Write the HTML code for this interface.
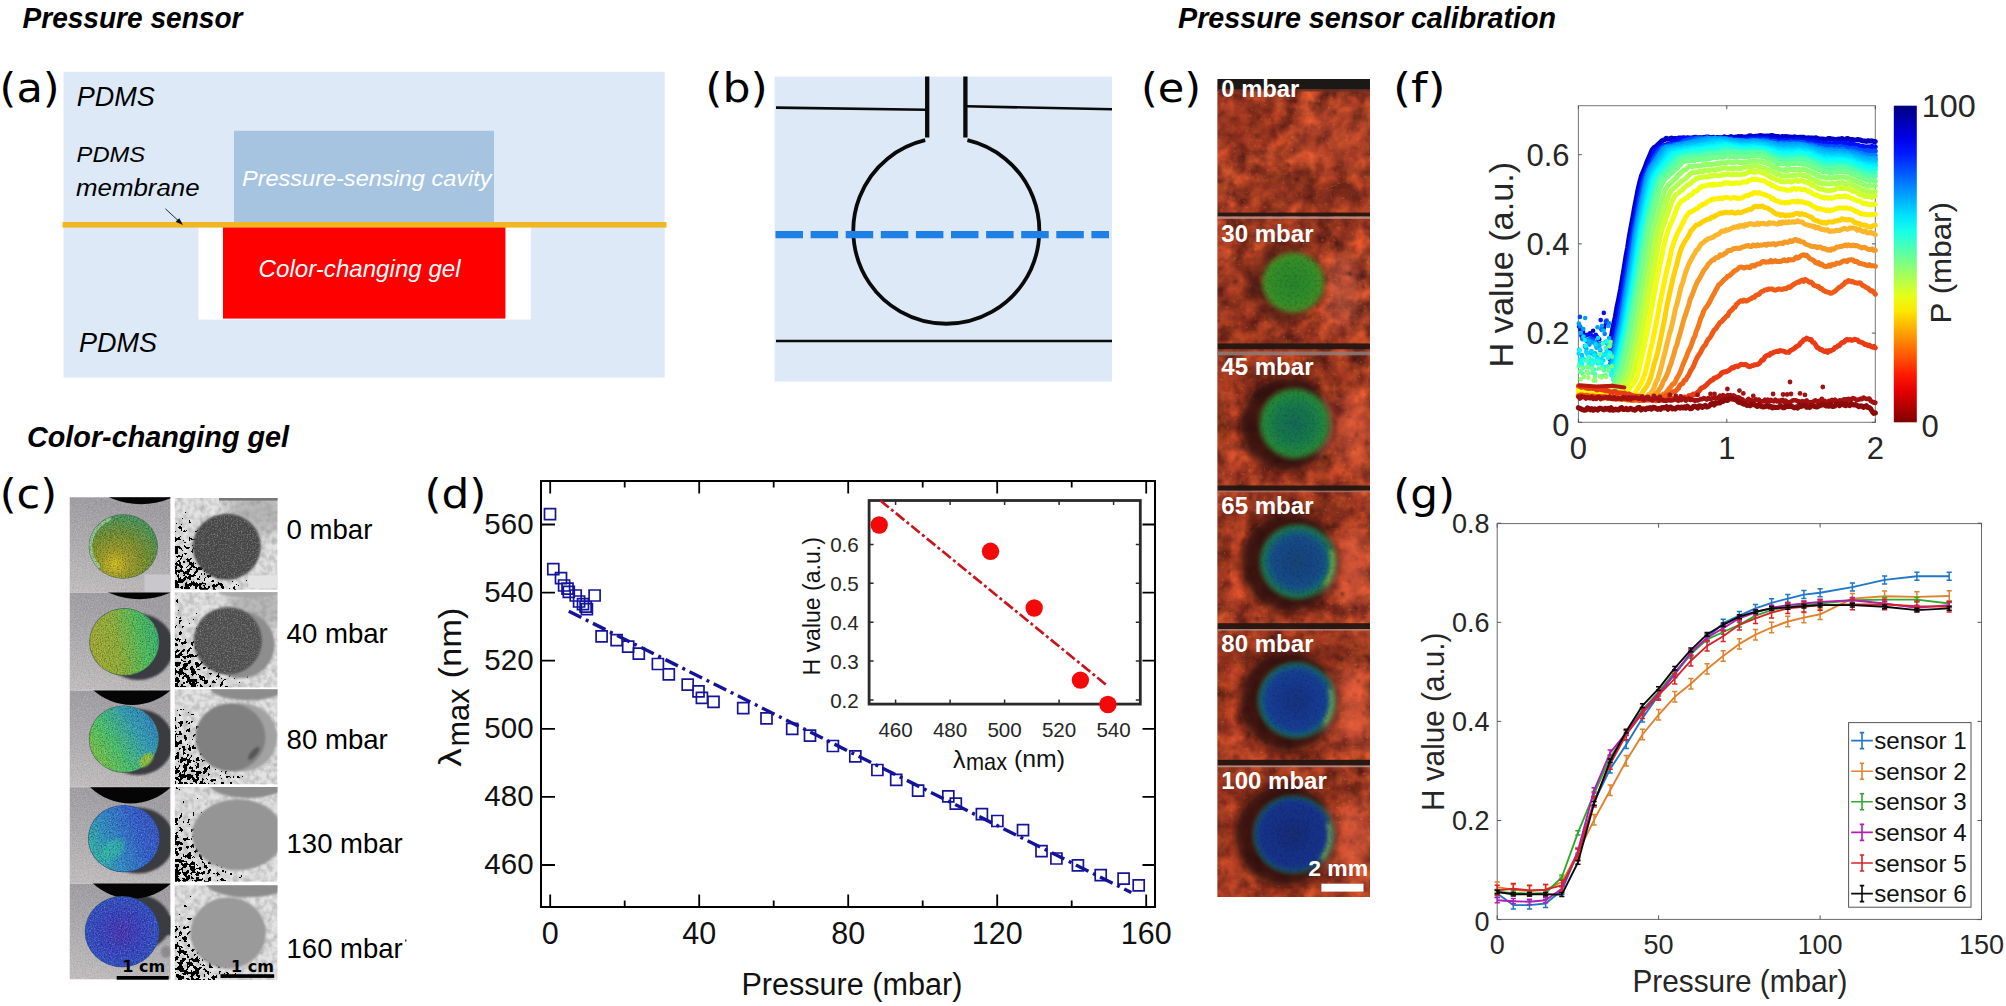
<!DOCTYPE html>
<html lang="en"><head><meta charset="utf-8"><title>Pressure sensor figure</title>
<style>
html,body{margin:0;padding:0;background:#fff;}
body{width:2006px;height:1006px;overflow:hidden;}
svg{display:block;}
text{font-family:"Liberation Sans",sans-serif;}
.dj{font-family:"DejaVu Sans","Liberation Sans",sans-serif;}
.bi{font-weight:bold;font-style:italic;}
.it{font-style:italic;}
.b{font-weight:bold;}
</style></head><body>
<svg width="2006" height="1006" viewBox="0 0 2006 1006">
<text x="22.5" y="27.5" font-size="30" class="bi" textLength="220.0" lengthAdjust="spacingAndGlyphs">Pressure sensor</text>
<text x="1178.0" y="27.5" font-size="30" class="bi" textLength="378.0" lengthAdjust="spacingAndGlyphs">Pressure sensor calibration</text>
<text x="27.0" y="447.0" font-size="30" class="bi" textLength="262.0" lengthAdjust="spacingAndGlyphs">Color-changing gel</text>
<text x="-0.4" y="101.8" font-size="41.5" class="dj" textLength="60.0" lengthAdjust="spacingAndGlyphs">(a)</text>
<text x="705.2" y="101.6" font-size="41.5" class="dj" textLength="62.5" lengthAdjust="spacingAndGlyphs">(b)</text>
<rect x="63.5" y="71.8" width="601.2" height="305.8" fill="#dde9f6"/>
<rect x="234" y="130.8" width="260" height="92" fill="#a6c4e0"/>
<rect x="198.5" y="226" width="332.3" height="93.6" fill="#fff"/>
<rect x="223" y="226" width="282.4" height="92.6" fill="#fe0000"/>
<rect x="62.5" y="222" width="604" height="5.6" fill="#f1b722"/>
<path d="M165.4 208.8 L180.5 222.7" stroke="#111" stroke-width="0.9" fill="none"/>
<path d="M183 225 L175.6 221.8 L179.3 218.2 Z" fill="#111"/>
<text x="76.8" y="105.9" font-size="27" class="it" textLength="78.0" lengthAdjust="spacingAndGlyphs">PDMS</text>
<text x="76.6" y="162.3" font-size="22.8" class="it" textLength="68.5" lengthAdjust="spacingAndGlyphs">PDMS</text>
<text x="76.0" y="196.3" font-size="24.5" class="it" textLength="123.6" lengthAdjust="spacingAndGlyphs">membrane</text>
<text x="79.0" y="352.0" font-size="27" class="it" textLength="78.0" lengthAdjust="spacingAndGlyphs">PDMS</text>
<text x="242.0" y="186.3" font-size="22.8" class="it" fill="#fff" textLength="249.5" lengthAdjust="spacingAndGlyphs">Pressure-sensing cavity</text>
<text x="258.6" y="276.5" font-size="23.4" class="it" fill="#fff" textLength="202.0" lengthAdjust="spacingAndGlyphs">Color-changing gel</text>
<rect x="774.6" y="76.6" width="337.4" height="305" fill="#dde9f6"/>
<g stroke="#0a0a0a" fill="none" stroke-linecap="butt">
<path d="M776 107.6 L925.5 109.7 M967 106.3 L1112 109.3" stroke-width="2.6"/>
<path d="M776 341 L1112 341" stroke-width="2.4"/>
<path d="M927.2 76.6 V137.4 M965.4 76.6 V137.4" stroke-width="4.3"/>
<path d="M925.2 140.2 A93 93 0 1 0 967.4 140.2" stroke-width="3.8"/>
</g>
<path d="M775.5 234.7 H1109" stroke="#1e80e4" stroke-width="7.2" stroke-dasharray="27.5 7.6" fill="none"/>
<text x="-0.3" y="508.3" font-size="41.5" class="dj" textLength="57.4" lengthAdjust="spacingAndGlyphs">(c)</text>
<defs>
<filter id="cnz" x="0" y="0" width="1" height="1" color-interpolation-filters="sRGB">
<feTurbulence type="fractalNoise" baseFrequency="0.75" numOctaves="2" seed="4"/>
<feColorMatrix values="0 0 0 0 0  0 0 0 0 0  0 0 0 0 0  2.2 0 0 0 -0.95"/>
</filter>
<filter id="cnw" x="0" y="0" width="1" height="1" color-interpolation-filters="sRGB">
<feTurbulence type="fractalNoise" baseFrequency="0.7" numOctaves="2" seed="11"/>
<feColorMatrix values="0 0 0 0 1  0 0 0 0 1  0 0 0 0 1  0 2.2 0 0 -0.95"/>
</filter>
<filter id="speck" x="0" y="0" width="1" height="1" color-interpolation-filters="sRGB">
<feTurbulence type="fractalNoise" baseFrequency="0.24" numOctaves="2" seed="9"/>
<feColorMatrix values="0 0 0 0 0  0 0 0 0 0  0 0 0 0 0  1 0 0 0 0" result="n"/>
<feComposite in="n" in2="SourceGraphic" operator="arithmetic" k1="0" k2="1" k3="1" k4="-0.5"/>
<feComponentTransfer><feFuncA type="discrete" tableValues="0 0 0 0 0 0 1 1 1 1"/></feComponentTransfer>
</filter>
<filter id="gnz" x="0" y="0" width="1" height="1" color-interpolation-filters="sRGB">
<feTurbulence type="fractalNoise" baseFrequency="0.18" numOctaves="3" seed="21"/>
<feColorMatrix values="0 0 0 0 0.55  0 0 0 0 0.55  0 0 0 0 0.55  0 0 1.8 0 -0.62"/>
</filter>
<filter id="b1"><feGaussianBlur stdDeviation="0.8"/></filter>
<filter id="b2"><feGaussianBlur stdDeviation="2"/></filter>
<filter id="b4" x="-0.5" y="-0.5" width="2" height="2"><feGaussianBlur stdDeviation="6"/></filter>
<linearGradient id="spk" x1="0" y1="1" x2="1" y2="0.25">
<stop offset="0" stop-color="#000" stop-opacity="0.66"/><stop offset="0.22" stop-color="#000" stop-opacity="0.56"/><stop offset="0.48" stop-color="#000" stop-opacity="0.34"/><stop offset="0.8" stop-color="#000" stop-opacity="0.1"/><stop offset="1" stop-color="#000" stop-opacity="0"/>
</linearGradient>
<linearGradient id="papg" x1="0.2" y1="0" x2="0" y2="1"><stop offset="0" stop-color="#9f9da1"/><stop offset="0.45" stop-color="#adabae"/><stop offset="1" stop-color="#c3bfc0"/></linearGradient>
<radialGradient id="d1" cx="0.38" cy="0.78" r="0.75"><stop offset="0" stop-color="#d8c21e"/><stop offset="0.28" stop-color="#a09c24"/><stop offset="0.62" stop-color="#748f2c"/><stop offset="1" stop-color="#4a9456"/></radialGradient>
<linearGradient id="d2" x1="0" y1="0.6" x2="1" y2="0.4"><stop offset="0" stop-color="#a7ab30"/><stop offset="0.4" stop-color="#8fb136"/><stop offset="0.75" stop-color="#4cbf5a"/><stop offset="1" stop-color="#37b070"/></linearGradient>
<linearGradient id="d3" x1="0" y1="0.8" x2="1" y2="0.2"><stop offset="0" stop-color="#86c43c"/><stop offset="0.35" stop-color="#48c46a"/><stop offset="0.7" stop-color="#2f9fb8"/><stop offset="1" stop-color="#2a7fc0"/></linearGradient>
<linearGradient id="d4" x1="0" y1="0.7" x2="1" y2="0.3"><stop offset="0" stop-color="#2fb9a0"/><stop offset="0.3" stop-color="#2d8fc8"/><stop offset="0.7" stop-color="#2f5fd2"/><stop offset="1" stop-color="#3553c6"/></linearGradient>
<radialGradient id="d5" cx="0.5" cy="0.5" r="0.6"><stop offset="0" stop-color="#4632b8"/><stop offset="0.5" stop-color="#3442c4"/><stop offset="1" stop-color="#2d55c6"/></radialGradient>
</defs>
<rect x="69.7" y="497.3" width="100.7" height="482.0" fill="#cfced2"/>
<clipPath id="cc0"><rect x="69.7" y="497.3" width="100.7" height="94.7"/></clipPath>
<g clip-path="url(#cc0)">
<rect x="69.7" y="497.3" width="100.7" height="94.7" fill="url(#papg)"/>
<rect x="69.7" y="497.3" width="100.7" height="94.7" filter="url(#cnw)" opacity="0.22"/>
<rect x="69.7" y="497.3" width="100.7" height="94.7" filter="url(#cnz)" opacity="0.12"/>
<rect x="144.5" y="574.5" width="30" height="18" fill="#cac7cc"/>
<circle cx="141" cy="428.6" r="75.7" fill="#050505"/>
<ellipse cx="123.3" cy="546.5" rx="34.6" ry="32.3" fill="#3e6a4e"/>
<ellipse cx="123.3" cy="546.5" rx="34.0" ry="31.7" fill="url(#d1)"/>
<ellipse cx="123.3" cy="546.5" rx="32.5" ry="30.2" fill="none" stroke="#9fd2a6" stroke-width="3" stroke-dasharray="60 150" stroke-dashoffset="-75" opacity="0.8"/>
<clipPath id="cd0"><ellipse cx="123.3" cy="546.5" rx="34.0" ry="31.7"/></clipPath>
<g clip-path="url(#cd0)"><rect x="69.7" y="497.3" width="100.7" height="94.7" filter="url(#cnz)" opacity="0.42"/><rect x="69.7" y="497.3" width="100.7" height="94.7" filter="url(#cnw)" opacity="0.26"/></g>
</g>
<clipPath id="cc1"><rect x="69.7" y="592.6" width="100.7" height="97.2"/></clipPath>
<g clip-path="url(#cc1)">
<rect x="69.7" y="592.6" width="100.7" height="97.2" fill="url(#papg)"/>
<rect x="69.7" y="592.6" width="100.7" height="97.2" filter="url(#cnw)" opacity="0.22"/>
<rect x="69.7" y="592.6" width="100.7" height="97.2" filter="url(#cnz)" opacity="0.12"/>
<ellipse cx="138.3" cy="646.9" rx="35.5" ry="33.2" fill="#3b3b42" filter="url(#b1)"/>
<circle cx="139.5" cy="524.3" r="75" fill="#050505"/>
<ellipse cx="124.3" cy="641.9" rx="35.1" ry="33.800000000000004" fill="#3e6a4e"/>
<ellipse cx="124.3" cy="641.9" rx="34.5" ry="33.2" fill="url(#d2)"/>
<clipPath id="cd1"><ellipse cx="124.3" cy="641.9" rx="34.5" ry="33.2"/></clipPath>
<g clip-path="url(#cd1)"><rect x="69.7" y="592.6" width="100.7" height="97.2" filter="url(#cnz)" opacity="0.42"/><rect x="69.7" y="592.6" width="100.7" height="97.2" filter="url(#cnw)" opacity="0.26"/></g>
</g>
<clipPath id="cc2"><rect x="69.7" y="690.4" width="100.7" height="96.3"/></clipPath>
<g clip-path="url(#cc2)">
<rect x="69.7" y="690.4" width="100.7" height="96.3" fill="url(#papg)"/>
<rect x="69.7" y="690.4" width="100.7" height="96.3" filter="url(#cnw)" opacity="0.22"/>
<rect x="69.7" y="690.4" width="100.7" height="96.3" filter="url(#cnz)" opacity="0.12"/>
<ellipse cx="137.9" cy="742.1" rx="35.5" ry="33.0" fill="#3b3b42" filter="url(#b1)"/>
<circle cx="132" cy="647" r="58" fill="#050505"/>
<ellipse cx="123.9" cy="739.1" rx="35.1" ry="33.6" fill="#3e6a4e"/>
<ellipse cx="123.9" cy="739.1" rx="34.5" ry="33.0" fill="url(#d3)"/>
<ellipse cx="146" cy="760" rx="9" ry="5" transform="rotate(-45 146 760)" fill="#8fc23c" filter="url(#b1)"/>
<clipPath id="cd2"><ellipse cx="123.9" cy="739.1" rx="34.5" ry="33.0"/></clipPath>
<g clip-path="url(#cd2)"><rect x="69.7" y="690.4" width="100.7" height="96.3" filter="url(#cnz)" opacity="0.42"/><rect x="69.7" y="690.4" width="100.7" height="96.3" filter="url(#cnw)" opacity="0.26"/></g>
</g>
<clipPath id="cc3"><rect x="69.7" y="787.2" width="100.7" height="95.9"/></clipPath>
<g clip-path="url(#cc3)">
<rect x="69.7" y="787.2" width="100.7" height="95.9" fill="url(#papg)"/>
<rect x="69.7" y="787.2" width="100.7" height="95.9" filter="url(#cnw)" opacity="0.22"/>
<rect x="69.7" y="787.2" width="100.7" height="95.9" filter="url(#cnz)" opacity="0.12"/>
<ellipse cx="137.9" cy="840.6" rx="36.3" ry="33.0" fill="#3b3b42" filter="url(#b1)"/>
<circle cx="130.5" cy="745.5" r="58" fill="#050505"/>
<ellipse cx="123.9" cy="838.6" rx="35.9" ry="33.6" fill="#2c4a8a"/>
<ellipse cx="123.9" cy="838.6" rx="35.3" ry="33.0" fill="url(#d4)"/>
<ellipse cx="112" cy="850" rx="14" ry="9" transform="rotate(-40 112 850)" fill="#2fc0a8" opacity="0.7" filter="url(#b2)"/>
<clipPath id="cd3"><ellipse cx="123.9" cy="838.6" rx="35.3" ry="33.0"/></clipPath>
<g clip-path="url(#cd3)"><rect x="69.7" y="787.2" width="100.7" height="95.9" filter="url(#cnz)" opacity="0.42"/><rect x="69.7" y="787.2" width="100.7" height="95.9" filter="url(#cnw)" opacity="0.26"/></g>
</g>
<clipPath id="cc4"><rect x="69.7" y="883.6" width="100.7" height="95.7"/></clipPath>
<g clip-path="url(#cc4)">
<rect x="69.7" y="883.6" width="100.7" height="95.7" fill="url(#papg)"/>
<rect x="69.7" y="883.6" width="100.7" height="95.7" filter="url(#cnw)" opacity="0.22"/>
<rect x="69.7" y="883.6" width="100.7" height="95.7" filter="url(#cnz)" opacity="0.12"/>
<ellipse cx="133.1" cy="922.7" rx="37.7" ry="29.0" fill="#3b3b42" filter="url(#b1)"/>
<rect x="150" y="916" width="25" height="19" fill="#3b3b42" filter="url(#b1)"/>
<ellipse cx="166" cy="952" rx="5" ry="6" fill="#8c8a90" filter="url(#b1)"/>
<circle cx="132" cy="840.6" r="58" fill="#050505"/>
<ellipse cx="122.1" cy="931.7" rx="37.300000000000004" ry="35.6" fill="#2c4a8a"/>
<ellipse cx="122.1" cy="931.7" rx="36.7" ry="35.0" fill="url(#d5)"/>
<clipPath id="cd4"><ellipse cx="122.1" cy="931.7" rx="36.7" ry="35.0"/></clipPath>
<g clip-path="url(#cd4)"><rect x="69.7" y="883.6" width="100.7" height="95.7" filter="url(#cnz)" opacity="0.42"/><rect x="69.7" y="883.6" width="100.7" height="95.7" filter="url(#cnw)" opacity="0.26"/></g>
</g>
<rect x="116.7" y="976" width="52" height="3.7" fill="#000"/>
<text x="122.3" y="972.0" font-size="15.3" class="dj b" textLength="43.0" lengthAdjust="spacingAndGlyphs">1 cm</text>
<clipPath id="gc0"><rect x="174.6" y="498.0" width="102.9" height="91.8"/></clipPath>
<g clip-path="url(#gc0)">
<rect x="174.6" y="498.0" width="102.9" height="91.8" fill="#e3e3e3"/>
<rect x="174.6" y="498.0" width="102.9" height="91.8" filter="url(#gnz)" opacity="0.55"/>
<ellipse cx="258" cy="512.0" rx="30" ry="24" fill="#909090" opacity="0.5" filter="url(#b4)"/>
<rect x="219" y="498.0" width="60" height="2.6" fill="#777"/>
<rect x="248.3" y="575.4" width="30" height="12.8" fill="#e4e4e4"/>
<rect x="174.6" y="498.0" width="102.9" height="91.8" fill="url(#spk)" filter="url(#speck)"/>
<ellipse cx="226.8" cy="546.7" rx="34" ry="33" fill="#454545" filter="url(#b1)"/>
<clipPath id="gd0"><ellipse cx="226.8" cy="546.7" rx="33" ry="32"/></clipPath>
<g clip-path="url(#gd0)"><rect x="174.6" y="498.0" width="102.9" height="91.8" filter="url(#cnw)" opacity="0.33"/></g>
</g>
<clipPath id="gc1"><rect x="174.6" y="592.2" width="102.9" height="95.2"/></clipPath>
<g clip-path="url(#gc1)">
<rect x="174.6" y="592.2" width="102.9" height="95.2" fill="#e3e3e3"/>
<rect x="174.6" y="592.2" width="102.9" height="95.2" filter="url(#gnz)" opacity="0.55"/>
<ellipse cx="258" cy="606.2" rx="30" ry="24" fill="#909090" opacity="0.5" filter="url(#b4)"/>
<ellipse cx="250" cy="592.2" rx="32" ry="5" fill="#a8a8a8" filter="url(#b1)"/>
<rect x="174.6" y="592.2" width="102.9" height="95.2" fill="url(#spk)" filter="url(#speck)"/>
<ellipse cx="240.7" cy="644.7" rx="34" ry="33.5" fill="#8e8e8e" filter="url(#b1)"/>
<ellipse cx="227.7" cy="640.7" rx="34" ry="33.5" fill="#4b4b4b" filter="url(#b1)"/>
<clipPath id="gd1"><ellipse cx="227.7" cy="640.7" rx="33" ry="32.5"/></clipPath>
<g clip-path="url(#gd1)"><rect x="174.6" y="592.2" width="102.9" height="95.2" filter="url(#cnw)" opacity="0.33"/></g>
</g>
<clipPath id="gc2"><rect x="174.6" y="689.2" width="102.9" height="95.2"/></clipPath>
<g clip-path="url(#gc2)">
<rect x="174.6" y="689.2" width="102.9" height="95.2" fill="#e3e3e3"/>
<rect x="174.6" y="689.2" width="102.9" height="95.2" filter="url(#gnz)" opacity="0.55"/>
<ellipse cx="248" cy="687.2" rx="38" ry="13" fill="#8c8c8c" filter="url(#b1)"/>
<rect x="174.6" y="689.2" width="102.9" height="95.2" fill="url(#spk)" filter="url(#speck)"/>
<ellipse cx="242.4" cy="737.3" rx="35" ry="34" fill="#a2a2a2" filter="url(#b1)"/>
<ellipse cx="230.4" cy="737.3" rx="35" ry="34" fill="#808080" filter="url(#b1)"/>
<ellipse cx="253.7" cy="753.4" rx="8" ry="3" transform="rotate(-50 253.7 753.4)" fill="#555" filter="url(#b1)"/>
</g>
<clipPath id="gc3"><rect x="174.6" y="786.9" width="102.9" height="94.9"/></clipPath>
<g clip-path="url(#gc3)">
<rect x="174.6" y="786.9" width="102.9" height="94.9" fill="#e3e3e3"/>
<rect x="174.6" y="786.9" width="102.9" height="94.9" filter="url(#gnz)" opacity="0.55"/>
<ellipse cx="248" cy="784.9" rx="38" ry="13" fill="#8c8c8c" filter="url(#b1)"/>
<rect x="174.6" y="786.9" width="102.9" height="94.9" fill="url(#spk)" filter="url(#speck)"/>
<ellipse cx="238" cy="834.6" rx="46" ry="35.5" fill="#959595" filter="url(#b1)"/>
</g>
<clipPath id="gc4"><rect x="174.6" y="885.2" width="102.9" height="94.8"/></clipPath>
<g clip-path="url(#gc4)">
<rect x="174.6" y="885.2" width="102.9" height="94.8" fill="#e3e3e3"/>
<rect x="174.6" y="885.2" width="102.9" height="94.8" filter="url(#gnz)" opacity="0.55"/>
<ellipse cx="248" cy="883.2" rx="42" ry="14" fill="#8c8c8c" filter="url(#b1)"/>
<rect x="174.6" y="885.2" width="102.9" height="94.8" fill="url(#spk)" filter="url(#speck)"/>
<ellipse cx="228.2" cy="933" rx="37.8" ry="35.7" fill="#9a9a9a" filter="url(#b1)"/>
</g>
<rect x="220.5" y="974.2" width="53.7" height="3.7" fill="#000"/>
<text x="231.0" y="972.0" font-size="15.3" class="dj b" textLength="43.0" lengthAdjust="spacingAndGlyphs">1 cm</text>
<text x="286.6" y="538.5" font-size="27.6" textLength="85.8" lengthAdjust="spacingAndGlyphs">0 mbar</text>
<text x="286.6" y="643.2" font-size="27.6" textLength="101.2" lengthAdjust="spacingAndGlyphs">40 mbar</text>
<text x="286.6" y="748.6" font-size="27.6" textLength="101.2" lengthAdjust="spacingAndGlyphs">80 mbar</text>
<text x="286.6" y="853.4" font-size="27.6" textLength="116.0" lengthAdjust="spacingAndGlyphs">130 mbar</text>
<text x="286.6" y="957.8" font-size="27.6" textLength="116.0" lengthAdjust="spacingAndGlyphs">160 mbar</text>
<rect x="405" y="939.5" width="1.5" height="2" fill="#333"/>
<text x="424.4" y="508.3" font-size="41.5" class="dj" textLength="62.0" lengthAdjust="spacingAndGlyphs">(d)</text>
<rect x="541.0" y="481.0" width="614.0" height="426.0" fill="#fff" stroke="#000" stroke-width="2"/>
<path d="M550.2 481.0 v12.5 M550.2 907.0 v-12.5 M624.7 481.0 v6.5 M624.7 907.0 v-6.5 M699.2 481.0 v12.5 M699.2 907.0 v-12.5 M773.7 481.0 v6.5 M773.7 907.0 v-6.5 M848.2 481.0 v12.5 M848.2 907.0 v-12.5 M922.7 481.0 v6.5 M922.7 907.0 v-6.5 M997.2 481.0 v12.5 M997.2 907.0 v-12.5 M1071.7 481.0 v6.5 M1071.7 907.0 v-6.5 M1146.2 481.0 v12.5 M1146.2 907.0 v-12.5 M541.0 865.0 h14 M1155.0 865.0 h-12.5 M541.0 796.9 h14 M1155.0 796.9 h-12.5 M541.0 728.8 h14 M1155.0 728.8 h-12.5 M541.0 660.7 h14 M1155.0 660.7 h-12.5 M541.0 592.6 h14 M1155.0 592.6 h-12.5 M541.0 524.5 h14 M1155.0 524.5 h-12.5" stroke="#000" stroke-width="1.8" fill="none"/>
<text x="533.6" y="874.0" font-size="29.5" fill="#111" text-anchor="end">460</text>
<text x="533.6" y="805.9" font-size="29.5" fill="#111" text-anchor="end">480</text>
<text x="533.6" y="737.8" font-size="29.5" fill="#111" text-anchor="end">500</text>
<text x="533.6" y="669.7" font-size="29.5" fill="#111" text-anchor="end">520</text>
<text x="533.6" y="601.6" font-size="29.5" fill="#111" text-anchor="end">540</text>
<text x="533.6" y="533.5" font-size="29.5" fill="#111" text-anchor="end">560</text>
<text x="550.2" y="943.5" font-size="30.5" fill="#111" text-anchor="middle">0</text>
<text x="699.2" y="943.5" font-size="30.5" fill="#111" text-anchor="middle">40</text>
<text x="848.2" y="943.5" font-size="30.5" fill="#111" text-anchor="middle">80</text>
<text x="997.2" y="943.5" font-size="30.5" fill="#111" text-anchor="middle">120</text>
<text x="1146.2" y="943.5" font-size="30.5" fill="#111" text-anchor="middle">160</text>
<text x="741.4" y="995.0" font-size="30.6" fill="#111" textLength="221.0" lengthAdjust="spacingAndGlyphs">Pressure (mbar)</text>
<text transform="translate(461.0 766.8) rotate(-90)" font-size="31" fill="#111" textLength="18.5" lengthAdjust="spacingAndGlyphs">λ</text>
<text transform="translate(469.0 746.5) rotate(-90)" font-size="31" fill="#111" textLength="58.0" lengthAdjust="spacingAndGlyphs">max</text>
<text transform="translate(461.0 678.5) rotate(-90)" font-size="31" fill="#111" textLength="71.0" lengthAdjust="spacingAndGlyphs">(nm)</text>
<path d="M568.8 611.3 L1131.3 892.6" stroke="#14149a" stroke-width="3.4" stroke-dasharray="14 5 3 5" fill="none"/>
<path d="M544.5 508.6h11.0v11.0h-11.0zM547.8 563.7h11.0v11.0h-11.0zM555.5 572.7h11.0v11.0h-11.0zM558.6 580.0h11.0v11.0h-11.0zM562.0 583.1h11.0v11.0h-11.0zM563.3 586.4h11.0v11.0h-11.0zM570.2 590.0h11.0v11.0h-11.0zM573.6 596.0h11.0v11.0h-11.0zM577.5 598.6h11.0v11.0h-11.0zM580.1 601.1h11.0v11.0h-11.0zM581.4 603.7h11.0v11.0h-11.0zM589.1 590.0h11.0v11.0h-11.0zM596.1 630.9h11.0v11.0h-11.0zM611.1 634.7h11.0v11.0h-11.0zM622.7 641.2h11.0v11.0h-11.0zM633.3 648.2h11.0v11.0h-11.0zM652.4 658.5h11.0v11.0h-11.0zM663.3 668.9h11.0v11.0h-11.0zM682.2 679.2h11.0v11.0h-11.0zM693.0 685.9h11.0v11.0h-11.0zM696.4 692.4h11.0v11.0h-11.0zM708.0 696.3h11.0v11.0h-11.0zM737.7 702.7h11.0v11.0h-11.0zM761.0 712.9h11.0v11.0h-11.0zM786.7 723.4h11.0v11.0h-11.0zM804.5 730.2h11.0v11.0h-11.0zM827.4 740.5h11.0v11.0h-11.0zM849.8 750.8h11.0v11.0h-11.0zM871.9 764.5h11.0v11.0h-11.0zM890.7 774.3h11.0v11.0h-11.0zM912.6 785.1h11.0v11.0h-11.0zM942.8 790.8h11.0v11.0h-11.0zM950.3 798.1h11.0v11.0h-11.0zM976.4 808.6h11.0v11.0h-11.0zM991.9 815.5h11.0v11.0h-11.0zM1017.5 824.6h11.0v11.0h-11.0zM1036.0 845.6h11.0v11.0h-11.0zM1050.9 853.0h11.0v11.0h-11.0zM1072.4 859.8h11.0v11.0h-11.0zM1095.2 869.6h11.0v11.0h-11.0zM1118.1 873.1h11.0v11.0h-11.0zM1133.2 879.9h11.0v11.0h-11.0z" stroke="#14149a" stroke-width="1.7" fill="none"/>
<rect x="869.1" y="500.5" width="271.2" height="203.6" fill="#fff" stroke="#2a2a2a" stroke-width="2.8"/>
<text x="858.8" y="707.6" font-size="20.6" fill="#262626" text-anchor="end">0.2</text>
<text x="858.8" y="668.7" font-size="20.6" fill="#262626" text-anchor="end">0.3</text>
<text x="858.8" y="629.8" font-size="20.6" fill="#262626" text-anchor="end">0.4</text>
<text x="858.8" y="590.9" font-size="20.6" fill="#262626" text-anchor="end">0.5</text>
<text x="858.8" y="552.0" font-size="20.6" fill="#262626" text-anchor="end">0.6</text>
<text x="895.6" y="737.0" font-size="20.6" fill="#262626" text-anchor="middle">460</text>
<text x="950.1" y="737.0" font-size="20.6" fill="#262626" text-anchor="middle">480</text>
<text x="1004.6" y="737.0" font-size="20.6" fill="#262626" text-anchor="middle">500</text>
<text x="1059.1" y="737.0" font-size="20.6" fill="#262626" text-anchor="middle">520</text>
<text x="1113.6" y="737.0" font-size="20.6" fill="#262626" text-anchor="middle">540</text>
<path d="M869.1 700.0 h4.5 M1140.3 700.0 h-4.5 M869.1 661.1 h4.5 M1140.3 661.1 h-4.5 M869.1 622.2 h4.5 M1140.3 622.2 h-4.5 M869.1 583.3 h4.5 M1140.3 583.3 h-4.5 M869.1 544.4 h4.5 M1140.3 544.4 h-4.5 M895.6 704.1 v-4.5 M895.6 500.5 v4.5 M950.1 704.1 v-4.5 M950.1 500.5 v4.5 M1004.6 704.1 v-4.5 M1004.6 500.5 v4.5 M1059.1 704.1 v-4.5 M1059.1 500.5 v4.5 M1113.6 704.1 v-4.5 M1113.6 500.5 v4.5" stroke="#2a2a2a" stroke-width="1.5" fill="none"/>
<text transform="translate(820.0 675.5) rotate(-90)" font-size="23" fill="#111" textLength="138.4" lengthAdjust="spacingAndGlyphs">H value (a.u.)</text>
<text x="953.0" y="767.7" font-size="24" fill="#111" textLength="12.5" lengthAdjust="spacingAndGlyphs">λ</text>
<text x="966.0" y="770.2" font-size="24" fill="#111" textLength="41.0" lengthAdjust="spacingAndGlyphs">max</text>
<text x="1014.0" y="767.0" font-size="24" fill="#111" textLength="51.0" lengthAdjust="spacingAndGlyphs">(nm)</text>
<path d="M880.3 500.5 L1107.9 686.2" stroke="#c9151b" stroke-width="2.7" stroke-dasharray="11 3 3 3" fill="none"/>
<circle cx="879.2" cy="525" r="8.7" fill="#f20a0a"/>
<circle cx="990.5" cy="551.3" r="8.7" fill="#f20a0a"/>
<circle cx="1034.2" cy="608" r="8.7" fill="#f20a0a"/>
<circle cx="1080.4" cy="680.1" r="8.7" fill="#f20a0a"/>
<circle cx="1107.9" cy="704.5" r="8.7" fill="#f20a0a"/>
<text x="1141.0" y="101.8" font-size="41.5" class="dj" textLength="60.2" lengthAdjust="spacingAndGlyphs">(e)</text>
<defs>
<filter id="rtex" x="0" y="0" width="1" height="1" color-interpolation-filters="sRGB">
<feTurbulence type="fractalNoise" baseFrequency="0.06" numOctaves="3" seed="8" result="t"/>
<feColorMatrix values="0.85 0 0 0 0.215  0.36 0.06 0 0 0.03  0.14 0 0 0 0.07  0 0 0 0 1"/>
</filter>
<filter id="rspk" x="0" y="0" width="1" height="1" color-interpolation-filters="sRGB">
<feTurbulence type="fractalNoise" baseFrequency="0.33" numOctaves="2" seed="3"/>
<feColorMatrix values="0 0 0 0 0.86  0 0 0 0 0.55  0 0 0 0 0.25  0 4 0 0 -2.62"/>
<feGaussianBlur stdDeviation="0.6"/>
</filter>
<filter id="rdk" x="0" y="0" width="1" height="1" color-interpolation-filters="sRGB">
<feTurbulence type="fractalNoise" baseFrequency="0.13" numOctaves="2" seed="14"/>
<feColorMatrix values="0 0 0 0 0.16  0 0 0 0 0.1  0 0 0 0 0.06  0 0 5 0 -3.45"/>
<feGaussianBlur stdDeviation="0.9"/>
</filter>
<filter id="eb1" x="-0.5" y="-0.5" width="2" height="2"><feGaussianBlur stdDeviation="1.9"/></filter>
<filter id="eb3" x="-1" y="-0.5" width="3" height="2"><feGaussianBlur stdDeviation="4.2"/></filter>
<filter id="eb7" x="-1" y="-1" width="3" height="3"><feGaussianBlur stdDeviation="8"/></filter>
<filter id="dnz" x="0" y="0" width="1" height="1" color-interpolation-filters="sRGB">
<feTurbulence type="fractalNoise" baseFrequency="0.4" numOctaves="2" seed="6"/>
<feColorMatrix values="0 0 0 0 0  0 0 0 0 0  0 0 0 0 0  1.8 0 0 0 -0.8"/>
</filter>
<radialGradient id="e30"><stop offset="0" stop-color="#2a8429"/><stop offset="0.7" stop-color="#318e2a"/><stop offset="0.9" stop-color="#4a8c26"/><stop offset="1" stop-color="#5a7020" stop-opacity="0.5"/></radialGradient>
<radialGradient id="e45"><stop offset="0" stop-color="#166856"/><stop offset="0.55" stop-color="#197a4c"/><stop offset="0.88" stop-color="#258a3a"/><stop offset="1" stop-color="#3e7424" stop-opacity="0.55"/></radialGradient>
<radialGradient id="e65"><stop offset="0" stop-color="#174470"/><stop offset="0.3" stop-color="#164482"/><stop offset="0.68" stop-color="#184e88"/><stop offset="0.84" stop-color="#196a68"/><stop offset="0.95" stop-color="#20763e"/><stop offset="1" stop-color="#335a20" stop-opacity="0.45"/></radialGradient>
<radialGradient id="e80"><stop offset="0" stop-color="#17367a"/><stop offset="0.3" stop-color="#16368a"/><stop offset="0.76" stop-color="#183e94"/><stop offset="0.9" stop-color="#195a7c"/><stop offset="0.97" stop-color="#1f703a"/><stop offset="1" stop-color="#30561e" stop-opacity="0.45"/></radialGradient>
<radialGradient id="e100"><stop offset="0" stop-color="#172e70"/><stop offset="0.3" stop-color="#162e80"/><stop offset="0.82" stop-color="#18348c"/><stop offset="0.93" stop-color="#194878"/><stop offset="0.98" stop-color="#1e6636"/><stop offset="1" stop-color="#2e501c" stop-opacity="0.45"/></radialGradient>
</defs>
<clipPath id="ecl"><rect x="1217.5" y="78.9" width="152.5" height="818.1"/></clipPath>
<g clip-path="url(#ecl)">
<rect x="1217.5" y="78.9" width="152.5" height="818.1" fill="#b23c24"/>
<rect x="1217.5" y="78.9" width="152.5" height="818.1" filter="url(#rtex)"/>
<ellipse cx="1330" cy="140" rx="40" ry="35" fill="#c04a2e" opacity="0.30" filter="url(#eb7)"/>
<ellipse cx="1250" cy="125" rx="35" ry="30" fill="#7a2416" opacity="0.35" filter="url(#eb7)"/>
<ellipse cx="1300" cy="192" rx="60" ry="14" fill="#6a2014" opacity="0.45" filter="url(#eb7)"/>
<ellipse cx="1340" cy="200" rx="25" ry="12" fill="#5a1c12" opacity="0.40" filter="url(#eb7)"/>
<ellipse cx="1342" cy="292" rx="16" ry="40" fill="#d86a56" opacity="0.40" filter="url(#eb7)"/>
<ellipse cx="1236" cy="300" rx="18" ry="40" fill="#7e2618" opacity="0.35" filter="url(#eb7)"/>
<ellipse cx="1290" cy="232" rx="70" ry="12" fill="#6a2014" opacity="0.35" filter="url(#eb7)"/>
<ellipse cx="1290" cy="335" rx="70" ry="10" fill="#7a2416" opacity="0.30" filter="url(#eb7)"/>
<ellipse cx="1353" cy="429.4" rx="14" ry="42" fill="#ee6242" opacity="0.52" filter="url(#eb7)"/>
<ellipse cx="1233" cy="453.4" rx="8" ry="26" fill="#e4502e" opacity="0.44" filter="url(#eb7)"/>
<ellipse cx="1290" cy="375.5" rx="70" ry="13" fill="#56190c" opacity="0.50" filter="url(#eb7)"/>
<ellipse cx="1233" cy="405.4" rx="7" ry="26" fill="#dc4c2c" opacity="0.40" filter="url(#eb7)"/>
<ellipse cx="1300" cy="475.4" rx="50" ry="9" fill="#7a2416" opacity="0.35" filter="url(#eb7)"/>
<ellipse cx="1219" cy="423.4" rx="4" ry="50" fill="#4a160c" opacity="0.50" filter="url(#eb7)"/>
<ellipse cx="1353" cy="567.7" rx="14" ry="42" fill="#ee6242" opacity="0.65" filter="url(#eb7)"/>
<ellipse cx="1233" cy="591.7" rx="8" ry="26" fill="#e4502e" opacity="0.55" filter="url(#eb7)"/>
<ellipse cx="1290" cy="514.5" rx="70" ry="13" fill="#56190c" opacity="0.50" filter="url(#eb7)"/>
<ellipse cx="1233" cy="543.7" rx="7" ry="26" fill="#dc4c2c" opacity="0.50" filter="url(#eb7)"/>
<ellipse cx="1300" cy="613.7" rx="50" ry="9" fill="#7a2416" opacity="0.35" filter="url(#eb7)"/>
<ellipse cx="1219" cy="561.7" rx="4" ry="50" fill="#4a160c" opacity="0.50" filter="url(#eb7)"/>
<ellipse cx="1353" cy="706.3" rx="14" ry="42" fill="#ee6242" opacity="0.65" filter="url(#eb7)"/>
<ellipse cx="1233" cy="730.3" rx="8" ry="26" fill="#e4502e" opacity="0.55" filter="url(#eb7)"/>
<ellipse cx="1290" cy="652.0" rx="70" ry="13" fill="#56190c" opacity="0.50" filter="url(#eb7)"/>
<ellipse cx="1233" cy="682.3" rx="7" ry="26" fill="#dc4c2c" opacity="0.50" filter="url(#eb7)"/>
<ellipse cx="1300" cy="752.3" rx="50" ry="9" fill="#7a2416" opacity="0.35" filter="url(#eb7)"/>
<ellipse cx="1219" cy="700.3" rx="4" ry="50" fill="#4a160c" opacity="0.50" filter="url(#eb7)"/>
<ellipse cx="1353" cy="840.5" rx="14" ry="42" fill="#ee6242" opacity="0.65" filter="url(#eb7)"/>
<ellipse cx="1233" cy="864.5" rx="8" ry="26" fill="#e4502e" opacity="0.55" filter="url(#eb7)"/>
<ellipse cx="1290" cy="790.5" rx="70" ry="13" fill="#56190c" opacity="0.50" filter="url(#eb7)"/>
<ellipse cx="1233" cy="816.5" rx="7" ry="26" fill="#dc4c2c" opacity="0.50" filter="url(#eb7)"/>
<ellipse cx="1300" cy="886.5" rx="50" ry="9" fill="#7a2416" opacity="0.35" filter="url(#eb7)"/>
<ellipse cx="1219" cy="834.5" rx="4" ry="50" fill="#4a160c" opacity="0.50" filter="url(#eb7)"/>
<rect x="1217.5" y="78.9" width="152.5" height="818.1" filter="url(#rspk)" opacity="0.45"/>
<rect x="1217.5" y="78.9" width="152.5" height="818.1" filter="url(#rdk)" opacity="0.8"/>
<ellipse cx="1285.2" cy="283.6" rx="40" ry="39" fill="#2c0f0a" opacity="0.5" filter="url(#eb3)"/>
<ellipse cx="1293.2" cy="282.6" rx="32" ry="31" fill="url(#e30)" filter="url(#eb1)"/>
<clipPath id="ed0"><ellipse cx="1293.2" cy="282.6" rx="31" ry="30"/></clipPath>
<g clip-path="url(#ed0)"><rect x="1261.2" y="251.6" width="64.0" height="62.0" filter="url(#dnz)" opacity="0.22"/></g>
<ellipse cx="1286.6" cy="424.4" rx="47" ry="48" fill="#2c0f0a" opacity="0.86" filter="url(#eb3)"/>
<path d="M1320.5 401.1 A39 39 0 0 1 1316.9 452.2" stroke="#f2a088" stroke-width="6" fill="none" opacity="0.6" filter="url(#eb3)"/>
<ellipse cx="1294.6" cy="423.4" rx="36" ry="36" fill="url(#e45)" filter="url(#eb1)"/>
<clipPath id="ed1"><ellipse cx="1294.6" cy="423.4" rx="35" ry="35"/></clipPath>
<g clip-path="url(#ed1)"><rect x="1258.6" y="387.4" width="72.0" height="72.0" filter="url(#dnz)" opacity="0.22"/></g>
<ellipse cx="1289.7" cy="562.7" rx="49.5" ry="50" fill="#2c0f0a" opacity="0.86" filter="url(#eb3)"/>
<path d="M1325.4 538.1 A41.5 41 0 0 1 1321.6 592.1" stroke="#f2a088" stroke-width="6" fill="none" opacity="0.6" filter="url(#eb3)"/>
<ellipse cx="1297.7" cy="561.7" rx="38.5" ry="38" fill="url(#e65)" filter="url(#eb1)"/>
<path d="M1330.8 550.3 A38.5 38 0 0 1 1324.7 585.3" stroke="#b4dc44" stroke-width="2.6" fill="none" opacity="0.9" filter="url(#eb1)"/>
<clipPath id="ed2"><ellipse cx="1297.7" cy="561.7" rx="37.5" ry="37"/></clipPath>
<g clip-path="url(#ed2)"><rect x="1259.2" y="523.7" width="77.0" height="76.0" filter="url(#dnz)" opacity="0.22"/></g>
<ellipse cx="1288.4" cy="701.3" rx="50" ry="50.5" fill="#2c0f0a" opacity="0.86" filter="url(#eb3)"/>
<path d="M1324.5 676.4 A42 41.5 0 0 1 1320.6 731.1" stroke="#f2a088" stroke-width="6" fill="none" opacity="0.6" filter="url(#eb3)"/>
<ellipse cx="1296.4" cy="700.3" rx="39" ry="38.5" fill="url(#e80)" filter="url(#eb1)"/>
<path d="M1329.9 688.8 A39 38.5 0 0 1 1323.7 724.2" stroke="#b4dc44" stroke-width="2.6" fill="none" opacity="0.9" filter="url(#eb1)"/>
<clipPath id="ed3"><ellipse cx="1296.4" cy="700.3" rx="38" ry="37.5"/></clipPath>
<g clip-path="url(#ed3)"><rect x="1257.4" y="661.8" width="78.0" height="77.0" filter="url(#dnz)" opacity="0.22"/></g>
<ellipse cx="1285.2" cy="835.5" rx="51.5" ry="51.5" fill="#2c0f0a" opacity="0.86" filter="url(#eb3)"/>
<path d="M1322.4 810.0 A43.5 42.5 0 0 1 1318.3 866.1" stroke="#f2a088" stroke-width="6" fill="none" opacity="0.6" filter="url(#eb3)"/>
<ellipse cx="1293.2" cy="834.5" rx="40.5" ry="39.5" fill="url(#e100)" filter="url(#eb1)"/>
<path d="M1328.0 822.6 A40.5 39.5 0 0 1 1321.5 859.0" stroke="#b4dc44" stroke-width="2.6" fill="none" opacity="0.9" filter="url(#eb1)"/>
<clipPath id="ed4"><ellipse cx="1293.2" cy="834.5" rx="39.5" ry="38.5"/></clipPath>
<g clip-path="url(#ed4)"><rect x="1252.7" y="795.0" width="81.0" height="79.0" filter="url(#dnz)" opacity="0.22"/></g>
<rect x="1217.5" y="78.9" width="152.5" height="10.5" fill="#1c1816"/>
<rect x="1217.5" y="89.4" width="152.5" height="2" fill="#5a3028" opacity="0.8"/>
<rect x="1217.5" y="212.6" width="152.5" height="3.6" fill="#241512" opacity="0.95"/>
<rect x="1217.5" y="216.6" width="152.5" height="2.2" fill="#b79a94" opacity="0.85"/>
<rect x="1217.5" y="343.4" width="152.5" height="5.8" fill="#241512" opacity="0.95"/>
<rect x="1217.5" y="351.5" width="152.5" height="3.8" fill="#8f7c78" opacity="0.85"/>
<rect x="1217.5" y="485.5" width="152.5" height="5.0" fill="#241512" opacity="0.95"/>
<rect x="1217.5" y="490.8" width="152.5" height="1.5" fill="#9a7a72" opacity="0.85"/>
<rect x="1217.5" y="623.2" width="152.5" height="5.8" fill="#241512" opacity="0.95"/>
<rect x="1217.5" y="629.0" width="152.5" height="1.6" fill="#a88a84" opacity="0.85"/>
<rect x="1217.5" y="759.8" width="152.5" height="5.7" fill="#241512" opacity="0.95"/>
<rect x="1217.5" y="765.5" width="152.5" height="1.7" fill="#b09a94" opacity="0.85"/>
</g>
<text x="1221.3" y="97.4" font-size="23.5" class="b" fill="#fff" textLength="78.0" lengthAdjust="spacingAndGlyphs">0 mbar</text>
<text x="1221.3" y="241.9" font-size="23.5" class="b" fill="#fff" textLength="92.2" lengthAdjust="spacingAndGlyphs">30 mbar</text>
<text x="1221.3" y="375.0" font-size="23.5" class="b" fill="#fff" textLength="92.2" lengthAdjust="spacingAndGlyphs">45 mbar</text>
<text x="1221.3" y="514.0" font-size="23.5" class="b" fill="#fff" textLength="92.2" lengthAdjust="spacingAndGlyphs">65 mbar</text>
<text x="1221.3" y="651.5" font-size="23.5" class="b" fill="#fff" textLength="92.2" lengthAdjust="spacingAndGlyphs">80 mbar</text>
<text x="1221.3" y="788.5" font-size="23.5" class="b" fill="#fff" textLength="105.5" lengthAdjust="spacingAndGlyphs">100 mbar</text>
<text x="1308.2" y="875.9" font-size="22" class="b" fill="#fff" textLength="60.0" lengthAdjust="spacingAndGlyphs">2 mm</text>
<rect x="1321.4" y="883.7" width="42.1" height="7.9" fill="#fff"/>
<text x="1393.0" y="101.8" font-size="41.5" class="dj" textLength="52.5" lengthAdjust="spacingAndGlyphs">(f)</text>
<rect x="1578.4" y="105.7" width="296.9" height="316.6" fill="#fff" stroke="#777" stroke-width="1"/>
<path d="M1578.4 422.3 v-3.5 M1578.4 105.7 v3.5 M1726.8 422.3 v-3.5 M1726.8 105.7 v3.5 M1875.3 422.3 v-3.5 M1875.3 105.7 v3.5 M1578.4 422.3 h3.5 M1875.3 422.3 h-3.5 M1578.4 333.1 h3.5 M1875.3 333.1 h-3.5 M1578.4 243.9 h3.5 M1875.3 243.9 h-3.5 M1578.4 154.7 h3.5 M1875.3 154.7 h-3.5" stroke="#555" stroke-width="1" fill="none"/>
<g fill="none" stroke-linejoin="round" stroke-linecap="round">
<path d="M1608.3 348.1 L1610.0 341.9 L1611.8 334.3 L1613.5 324.8 L1615.3 317.0 L1617.0 306.9 L1618.8 298.5 L1620.6 289.2 L1622.3 279.2 L1624.1 268.5 L1625.8 257.3 L1627.6 247.6 L1629.3 236.7 L1631.1 226.6 L1632.9 217.2 L1634.6 207.2 L1636.4 198.2 L1638.1 189.3 L1639.9 181.7 L1641.6 175.4 L1643.4 171.2 L1645.2 166.9 L1646.9 162.1 L1648.7 157.9 L1650.4 153.9 L1652.2 149.9 L1653.9 147.7 L1655.7 146.7 L1657.5 144.9 L1659.2 143.5 L1661.0 141.6 L1662.7 140.4 L1664.5 139.9 L1666.2 138.2 L1668.0 139.1 L1669.8 138.6 L1671.5 138.1 L1673.3 138.9 L1675.0 138.4 L1676.8 139.0 L1678.5 138.1 L1680.3 137.9 L1682.1 138.1 L1683.8 137.7 L1685.6 138.4 L1687.3 137.8 L1689.1 137.9 L1690.8 137.9 L1692.6 138.0 L1694.3 137.5 L1696.1 137.3 L1697.9 137.9 L1699.6 137.6 L1701.4 138.3 L1703.1 137.4 L1704.9 137.4 L1706.6 136.9 L1708.4 137.1 L1710.2 137.8 L1711.9 137.6 L1713.7 137.2 L1715.4 138.0 L1717.2 137.4 L1718.9 137.7 L1720.7 137.7 L1722.5 137.8 L1724.2 136.8 L1726.0 137.6 L1727.7 137.4 L1729.5 137.2 L1731.2 136.6 L1733.0 137.7 L1734.8 137.2 L1736.5 137.1 L1738.3 136.6 L1740.0 136.7 L1741.8 136.6 L1743.5 137.3 L1745.3 137.0 L1747.1 136.9 L1748.8 136.0 L1750.6 135.8 L1752.3 136.7 L1754.1 136.5 L1755.8 136.3 L1757.6 136.2 L1759.4 135.8 L1761.1 135.6 L1762.9 136.0 L1764.6 136.4 L1766.4 135.9 L1768.1 136.0 L1769.9 135.9 L1771.6 135.5 L1773.4 136.0 L1775.2 136.5 L1776.9 136.5 L1778.7 136.6 L1780.4 137.5 L1782.2 136.5 L1783.9 136.7 L1785.7 136.6 L1787.5 136.7 L1789.2 137.2 L1791.0 137.1 L1792.7 137.5 L1794.5 136.7 L1796.2 137.4 L1798.0 137.4 L1799.8 137.2 L1801.5 137.3 L1803.3 137.2 L1805.0 137.6 L1806.8 137.9 L1808.5 137.8 L1810.3 138.1 L1812.1 137.9 L1813.8 138.6 L1815.6 137.7 L1817.3 138.3 L1819.1 139.1 L1820.8 139.1 L1822.6 139.1 L1824.4 139.2 L1826.1 139.6 L1827.9 138.6 L1829.6 138.4 L1831.4 139.1 L1833.1 139.1 L1834.9 139.5 L1836.7 139.5 L1838.4 139.1 L1840.2 139.2 L1841.9 138.4 L1843.7 139.3 L1845.4 139.6 L1847.2 138.4 L1848.9 139.1 L1850.7 139.8 L1852.5 139.4 L1854.2 140.3 L1856.0 139.9 L1857.7 139.5 L1859.5 139.9 L1861.2 140.3 L1863.0 141.0 L1864.8 141.0 L1866.5 141.4 L1868.3 140.7 L1870.0 141.1 L1871.8 140.8 L1873.5 141.4 L1875.3 141.5" stroke="#0000c7" stroke-width="5.0"/>
<path d="M1610.0 351.4 L1611.8 344.7 L1613.5 337.4 L1615.3 329.3 L1617.0 320.1 L1618.8 311.4 L1620.6 302.0 L1622.3 290.9 L1624.1 281.0 L1625.8 270.6 L1627.6 259.2 L1629.3 249.1 L1631.1 237.9 L1632.9 227.8 L1634.6 219.0 L1636.4 209.6 L1638.1 200.3 L1639.9 191.4 L1641.6 183.0 L1643.4 177.3 L1645.2 172.5 L1646.9 169.1 L1648.7 164.3 L1650.4 161.3 L1652.2 157.4 L1653.9 153.7 L1655.7 150.3 L1657.5 148.9 L1659.2 147.1 L1661.0 146.9 L1662.7 146.1 L1664.5 145.4 L1666.2 145.3 L1668.0 144.0 L1669.8 143.6 L1671.5 143.1 L1673.3 141.3 L1675.0 141.4 L1676.8 140.2 L1678.5 139.2 L1680.3 138.9 L1682.1 138.9 L1683.8 138.5 L1685.6 138.5 L1687.3 138.2 L1689.1 139.1 L1690.8 138.5 L1692.6 138.9 L1694.3 138.9 L1696.1 138.2 L1697.9 138.6 L1699.6 138.6 L1701.4 138.3 L1703.1 138.1 L1704.9 138.7 L1706.6 138.5 L1708.4 138.7 L1710.2 138.7 L1711.9 138.5 L1713.7 138.8 L1715.4 138.7 L1717.2 138.8 L1718.9 138.2 L1720.7 138.5 L1722.5 138.3 L1724.2 138.2 L1726.0 139.1 L1727.7 138.8 L1729.5 138.3 L1731.2 138.5 L1733.0 139.6 L1734.8 139.7 L1736.5 139.3 L1738.3 139.9 L1740.0 139.7 L1741.8 139.9 L1743.5 139.1 L1745.3 138.9 L1747.1 138.6 L1748.8 139.5 L1750.6 138.6 L1752.3 138.5 L1754.1 139.1 L1755.8 138.0 L1757.6 137.8 L1759.4 138.8 L1761.1 137.9 L1762.9 138.7 L1764.6 138.6 L1766.4 138.1 L1768.1 138.5 L1769.9 139.5 L1771.6 139.4 L1773.4 139.4 L1775.2 139.8 L1776.9 140.1 L1778.7 140.1 L1780.4 139.6 L1782.2 140.6 L1783.9 140.0 L1785.7 140.2 L1787.5 140.8 L1789.2 140.3 L1791.0 139.9 L1792.7 140.1 L1794.5 140.6 L1796.2 139.4 L1798.0 139.7 L1799.8 139.5 L1801.5 140.7 L1803.3 140.6 L1805.0 141.1 L1806.8 140.3 L1808.5 141.2 L1810.3 141.7 L1812.1 141.6 L1813.8 141.2 L1815.6 141.6 L1817.3 142.7 L1819.1 143.1 L1820.8 142.3 L1822.6 143.0 L1824.4 142.9 L1826.1 143.9 L1827.9 144.0 L1829.6 143.2 L1831.4 143.6 L1833.1 144.0 L1834.9 142.8 L1836.7 143.2 L1838.4 143.0 L1840.2 143.9 L1841.9 142.9 L1843.7 144.0 L1845.4 143.1 L1847.2 143.8 L1848.9 144.1 L1850.7 144.1 L1852.5 143.8 L1854.2 145.0 L1856.0 145.5 L1857.7 145.2 L1859.5 145.9 L1861.2 146.3 L1863.0 146.5 L1864.8 146.9 L1866.5 146.9 L1868.3 146.9 L1870.0 147.0 L1871.8 146.4 L1873.5 147.1 L1875.3 146.8" stroke="#000fff" stroke-width="5.0"/>
<path d="M1610.0 359.2 L1611.8 354.3 L1613.5 347.4 L1615.3 340.0 L1617.0 331.2 L1618.8 322.8 L1620.6 313.4 L1622.3 303.1 L1624.1 293.0 L1625.8 282.0 L1627.6 271.2 L1629.3 259.8 L1631.1 248.9 L1632.9 237.9 L1634.6 227.3 L1636.4 218.4 L1638.1 209.6 L1639.9 199.8 L1641.6 192.2 L1643.4 183.3 L1645.2 176.8 L1646.9 172.9 L1648.7 168.4 L1650.4 165.1 L1652.2 162.2 L1653.9 158.8 L1655.7 155.5 L1657.5 153.3 L1659.2 150.2 L1661.0 148.6 L1662.7 147.2 L1664.5 146.7 L1666.2 146.2 L1668.0 146.0 L1669.8 145.0 L1671.5 144.8 L1673.3 144.3 L1675.0 144.4 L1676.8 144.1 L1678.5 143.5 L1680.3 142.7 L1682.1 142.5 L1683.8 141.0 L1685.6 140.8 L1687.3 140.2 L1689.1 139.7 L1690.8 139.1 L1692.6 138.9 L1694.3 139.2 L1696.1 138.1 L1697.9 138.2 L1699.6 138.6 L1701.4 138.6 L1703.1 138.5 L1704.9 139.4 L1706.6 138.5 L1708.4 139.2 L1710.2 139.6 L1711.9 139.4 L1713.7 138.8 L1715.4 139.6 L1717.2 138.9 L1718.9 138.7 L1720.7 139.4 L1722.5 139.6 L1724.2 139.5 L1726.0 139.3 L1727.7 139.3 L1729.5 139.6 L1731.2 139.8 L1733.0 140.7 L1734.8 140.7 L1736.5 140.7 L1738.3 140.2 L1740.0 140.9 L1741.8 140.6 L1743.5 141.4 L1745.3 141.3 L1747.1 140.9 L1748.8 140.3 L1750.6 140.1 L1752.3 140.0 L1754.1 140.5 L1755.8 140.1 L1757.6 140.1 L1759.4 140.2 L1761.1 140.7 L1762.9 139.8 L1764.6 140.9 L1766.4 140.1 L1768.1 140.4 L1769.9 141.8 L1771.6 141.5 L1773.4 141.3 L1775.2 141.3 L1776.9 142.2 L1778.7 142.6 L1780.4 142.8 L1782.2 141.9 L1783.9 142.9 L1785.7 142.4 L1787.5 142.9 L1789.2 142.3 L1791.0 141.7 L1792.7 142.8 L1794.5 141.9 L1796.2 142.3 L1798.0 141.9 L1799.8 142.2 L1801.5 143.0 L1803.3 142.2 L1805.0 143.0 L1806.8 143.9 L1808.5 144.2 L1810.3 143.9 L1812.1 144.4 L1813.8 144.9 L1815.6 145.5 L1817.3 145.6 L1819.1 146.0 L1820.8 145.6 L1822.6 147.0 L1824.4 146.2 L1826.1 146.3 L1827.9 147.4 L1829.6 146.4 L1831.4 146.7 L1833.1 146.5 L1834.9 147.3 L1836.7 147.2 L1838.4 147.2 L1840.2 146.4 L1841.9 147.0 L1843.7 147.4 L1845.4 147.5 L1847.2 147.9 L1848.9 148.4 L1850.7 148.6 L1852.5 148.0 L1854.2 149.1 L1856.0 148.6 L1857.7 149.9 L1859.5 150.2 L1861.2 150.3 L1863.0 151.0 L1864.8 151.1 L1866.5 150.5 L1868.3 150.8 L1870.0 151.1 L1871.8 151.4 L1873.5 151.1 L1875.3 151.1" stroke="#004cff" stroke-width="5.0"/>
<path d="M1610.0 365.4 L1611.8 360.1 L1613.5 354.3 L1615.3 346.8 L1617.0 339.2 L1618.8 330.8 L1620.6 323.0 L1622.3 313.3 L1624.1 302.1 L1625.8 291.3 L1627.6 281.0 L1629.3 269.8 L1631.1 259.4 L1632.9 247.6 L1634.6 235.8 L1636.4 225.5 L1638.1 216.0 L1639.9 207.1 L1641.6 199.5 L1643.4 191.2 L1645.2 183.1 L1646.9 175.9 L1648.7 171.0 L1650.4 167.5 L1652.2 165.0 L1653.9 162.2 L1655.7 159.2 L1657.5 156.8 L1659.2 153.8 L1661.0 151.8 L1662.7 148.7 L1664.5 148.3 L1666.2 146.8 L1668.0 146.8 L1669.8 146.8 L1671.5 146.6 L1673.3 146.1 L1675.0 145.1 L1676.8 144.7 L1678.5 145.0 L1680.3 144.7 L1682.1 143.7 L1683.8 143.2 L1685.6 143.0 L1687.3 142.8 L1689.1 141.9 L1690.8 142.3 L1692.6 141.5 L1694.3 140.9 L1696.1 139.8 L1697.9 139.8 L1699.6 139.1 L1701.4 139.2 L1703.1 139.2 L1704.9 138.9 L1706.6 137.8 L1708.4 138.2 L1710.2 138.8 L1711.9 139.3 L1713.7 138.8 L1715.4 138.7 L1717.2 139.2 L1718.9 139.5 L1720.7 139.0 L1722.5 138.8 L1724.2 139.8 L1726.0 140.2 L1727.7 140.0 L1729.5 140.1 L1731.2 139.9 L1733.0 140.8 L1734.8 140.2 L1736.5 140.5 L1738.3 141.0 L1740.0 141.5 L1741.8 140.6 L1743.5 141.6 L1745.3 140.9 L1747.1 141.6 L1748.8 141.6 L1750.6 140.8 L1752.3 141.3 L1754.1 140.4 L1755.8 140.9 L1757.6 141.4 L1759.4 141.4 L1761.1 141.3 L1762.9 141.1 L1764.6 141.0 L1766.4 142.3 L1768.1 142.3 L1769.9 142.9 L1771.6 142.2 L1773.4 143.6 L1775.2 144.1 L1776.9 144.3 L1778.7 144.1 L1780.4 143.6 L1782.2 143.7 L1783.9 144.0 L1785.7 143.7 L1787.5 143.7 L1789.2 144.5 L1791.0 144.6 L1792.7 143.5 L1794.5 143.6 L1796.2 144.5 L1798.0 143.7 L1799.8 144.2 L1801.5 144.4 L1803.3 144.7 L1805.0 145.2 L1806.8 145.7 L1808.5 145.7 L1810.3 146.1 L1812.1 145.7 L1813.8 147.3 L1815.6 146.6 L1817.3 148.1 L1819.1 148.3 L1820.8 148.1 L1822.6 148.4 L1824.4 149.2 L1826.1 149.9 L1827.9 149.5 L1829.6 149.8 L1831.4 149.1 L1833.1 150.1 L1834.9 149.9 L1836.7 149.3 L1838.4 150.5 L1840.2 150.0 L1841.9 149.6 L1843.7 149.8 L1845.4 151.0 L1847.2 151.2 L1848.9 151.5 L1850.7 150.7 L1852.5 152.0 L1854.2 151.8 L1856.0 152.1 L1857.7 153.3 L1859.5 153.8 L1861.2 153.3 L1863.0 154.2 L1864.8 155.0 L1866.5 154.7 L1868.3 155.5 L1870.0 155.8 L1871.8 156.3 L1873.5 155.4 L1875.3 155.2" stroke="#0080ff" stroke-width="5.0"/>
<path d="M1610.0 368.7 L1611.8 364.0 L1613.5 357.7 L1615.3 351.9 L1617.0 344.8 L1618.8 336.6 L1620.6 327.2 L1622.3 318.4 L1624.1 308.7 L1625.8 297.4 L1627.6 286.7 L1629.3 275.2 L1631.1 265.1 L1632.9 253.3 L1634.6 241.6 L1636.4 230.6 L1638.1 220.3 L1639.9 212.4 L1641.6 203.6 L1643.4 195.6 L1645.2 187.3 L1646.9 178.7 L1648.7 173.3 L1650.4 168.8 L1652.2 166.7 L1653.9 163.4 L1655.7 161.3 L1657.5 158.9 L1659.2 155.6 L1661.0 152.7 L1662.7 151.3 L1664.5 148.8 L1666.2 147.6 L1668.0 147.7 L1669.8 147.1 L1671.5 147.0 L1673.3 146.6 L1675.0 146.2 L1676.8 145.3 L1678.5 144.9 L1680.3 145.1 L1682.1 145.0 L1683.8 144.3 L1685.6 143.4 L1687.3 143.7 L1689.1 143.2 L1690.8 143.0 L1692.6 141.8 L1694.3 141.8 L1696.1 142.1 L1697.9 141.7 L1699.6 140.9 L1701.4 140.3 L1703.1 139.8 L1704.9 140.2 L1706.6 139.8 L1708.4 138.7 L1710.2 138.7 L1711.9 138.7 L1713.7 138.6 L1715.4 137.9 L1717.2 138.9 L1718.9 138.7 L1720.7 139.1 L1722.5 139.1 L1724.2 138.7 L1726.0 138.7 L1727.7 139.7 L1729.5 140.2 L1731.2 139.7 L1733.0 140.7 L1734.8 141.2 L1736.5 140.3 L1738.3 141.1 L1740.0 140.8 L1741.8 141.5 L1743.5 140.9 L1745.3 141.5 L1747.1 141.9 L1748.8 142.0 L1750.6 141.2 L1752.3 141.0 L1754.1 140.6 L1755.8 141.7 L1757.6 141.0 L1759.4 141.4 L1761.1 141.4 L1762.9 142.1 L1764.6 142.2 L1766.4 142.2 L1768.1 142.1 L1769.9 143.5 L1771.6 143.4 L1773.4 143.4 L1775.2 143.5 L1776.9 144.9 L1778.7 145.3 L1780.4 144.4 L1782.2 144.5 L1783.9 145.2 L1785.7 145.8 L1787.5 144.7 L1789.2 145.3 L1791.0 144.5 L1792.7 144.8 L1794.5 144.5 L1796.2 145.3 L1798.0 144.4 L1799.8 145.2 L1801.5 145.1 L1803.3 144.7 L1805.0 145.1 L1806.8 146.3 L1808.5 146.7 L1810.3 147.0 L1812.1 147.3 L1813.8 148.0 L1815.6 148.9 L1817.3 149.2 L1819.1 149.1 L1820.8 149.3 L1822.6 150.8 L1824.4 150.4 L1826.1 150.4 L1827.9 151.6 L1829.6 150.7 L1831.4 151.7 L1833.1 151.1 L1834.9 151.2 L1836.7 151.2 L1838.4 151.7 L1840.2 151.6 L1841.9 151.5 L1843.7 151.9 L1845.4 151.8 L1847.2 152.4 L1848.9 152.8 L1850.7 153.7 L1852.5 153.4 L1854.2 154.1 L1856.0 154.9 L1857.7 154.8 L1859.5 155.3 L1861.2 156.2 L1863.0 157.0 L1864.8 157.0 L1866.5 157.9 L1868.3 158.1 L1870.0 158.0 L1871.8 158.6 L1873.5 158.2 L1875.3 158.2" stroke="#009eff" stroke-width="5.0"/>
<path d="M1611.8 366.6 L1613.5 360.8 L1615.3 355.8 L1617.0 349.1 L1618.8 340.7 L1620.6 332.9 L1622.3 324.4 L1624.1 313.9 L1625.8 304.5 L1627.6 292.9 L1629.3 282.8 L1631.1 271.2 L1632.9 259.5 L1634.6 248.8 L1636.4 237.6 L1638.1 227.5 L1639.9 218.4 L1641.6 209.7 L1643.4 201.4 L1645.2 192.7 L1646.9 185.0 L1648.7 178.0 L1650.4 172.4 L1652.2 170.0 L1653.9 167.2 L1655.7 164.1 L1657.5 162.4 L1659.2 159.9 L1661.0 156.9 L1662.7 154.8 L1664.5 152.0 L1666.2 150.4 L1668.0 148.8 L1669.8 148.3 L1671.5 148.5 L1673.3 147.6 L1675.0 147.5 L1676.8 147.6 L1678.5 146.2 L1680.3 146.7 L1682.1 146.5 L1683.8 146.3 L1685.6 145.2 L1687.3 144.5 L1689.1 144.3 L1690.8 144.5 L1692.6 144.3 L1694.3 144.3 L1696.1 143.1 L1697.9 142.9 L1699.6 142.9 L1701.4 142.1 L1703.1 142.0 L1704.9 141.0 L1706.6 141.0 L1708.4 141.3 L1710.2 140.1 L1711.9 140.9 L1713.7 140.0 L1715.4 140.0 L1717.2 140.2 L1718.9 140.6 L1720.7 139.8 L1722.5 140.9 L1724.2 140.4 L1726.0 140.0 L1727.7 141.3 L1729.5 141.5 L1731.2 141.2 L1733.0 141.7 L1734.8 141.8 L1736.5 141.8 L1738.3 142.9 L1740.0 143.0 L1741.8 143.1 L1743.5 143.5 L1745.3 142.4 L1747.1 142.6 L1748.8 142.6 L1750.6 143.4 L1752.3 142.2 L1754.1 142.3 L1755.8 142.6 L1757.6 142.3 L1759.4 142.8 L1761.1 143.3 L1762.9 143.7 L1764.6 143.8 L1766.4 144.4 L1768.1 144.4 L1769.9 144.3 L1771.6 144.8 L1773.4 145.0 L1775.2 145.6 L1776.9 146.6 L1778.7 146.5 L1780.4 146.9 L1782.2 146.6 L1783.9 147.0 L1785.7 147.4 L1787.5 146.9 L1789.2 146.4 L1791.0 147.3 L1792.7 146.3 L1794.5 147.3 L1796.2 146.9 L1798.0 146.9 L1799.8 146.3 L1801.5 146.1 L1803.3 146.5 L1805.0 147.4 L1806.8 147.1 L1808.5 148.3 L1810.3 148.9 L1812.1 148.6 L1813.8 149.5 L1815.6 150.0 L1817.3 150.5 L1819.1 150.6 L1820.8 151.8 L1822.6 151.7 L1824.4 152.2 L1826.1 152.2 L1827.9 153.0 L1829.6 152.7 L1831.4 153.0 L1833.1 153.4 L1834.9 153.6 L1836.7 153.0 L1838.4 153.8 L1840.2 152.8 L1841.9 153.9 L1843.7 154.2 L1845.4 154.4 L1847.2 153.6 L1848.9 154.7 L1850.7 155.4 L1852.5 156.1 L1854.2 156.6 L1856.0 156.3 L1857.7 156.9 L1859.5 157.4 L1861.2 157.8 L1863.0 159.2 L1864.8 158.9 L1866.5 159.6 L1868.3 159.3 L1870.0 159.5 L1871.8 159.6 L1873.5 160.8 L1875.3 159.8" stroke="#00b3ff" stroke-width="5.0"/>
<path d="M1611.8 369.2 L1613.5 364.1 L1615.3 359.2 L1617.0 353.5 L1618.8 345.4 L1620.6 338.0 L1622.3 328.6 L1624.1 319.4 L1625.8 309.4 L1627.6 299.3 L1629.3 289.1 L1631.1 278.2 L1632.9 267.1 L1634.6 255.3 L1636.4 245.2 L1638.1 233.2 L1639.9 224.2 L1641.6 215.0 L1643.4 206.8 L1645.2 198.1 L1646.9 190.7 L1648.7 183.3 L1650.4 176.3 L1652.2 172.9 L1653.9 169.7 L1655.7 167.2 L1657.5 164.5 L1659.2 162.1 L1661.0 159.8 L1662.7 157.8 L1664.5 155.4 L1666.2 153.3 L1668.0 150.6 L1669.8 149.9 L1671.5 149.3 L1673.3 149.7 L1675.0 149.1 L1676.8 148.3 L1678.5 148.2 L1680.3 148.5 L1682.1 147.7 L1683.8 146.9 L1685.6 147.4 L1687.3 147.1 L1689.1 146.7 L1690.8 145.8 L1692.6 145.3 L1694.3 145.9 L1696.1 145.6 L1697.9 145.1 L1699.6 144.7 L1701.4 144.1 L1703.1 144.3 L1704.9 143.8 L1706.6 143.6 L1708.4 142.2 L1710.2 142.3 L1711.9 142.8 L1713.7 141.3 L1715.4 142.2 L1717.2 141.6 L1718.9 140.7 L1720.7 141.0 L1722.5 141.2 L1724.2 141.8 L1726.0 142.3 L1727.7 141.9 L1729.5 142.9 L1731.2 143.1 L1733.0 143.2 L1734.8 144.0 L1736.5 143.8 L1738.3 143.5 L1740.0 143.9 L1741.8 144.3 L1743.5 144.2 L1745.3 144.5 L1747.1 144.9 L1748.8 144.2 L1750.6 144.3 L1752.3 143.7 L1754.1 143.5 L1755.8 144.1 L1757.6 143.9 L1759.4 143.8 L1761.1 144.4 L1762.9 145.0 L1764.6 144.6 L1766.4 144.8 L1768.1 145.4 L1769.9 146.0 L1771.6 146.2 L1773.4 146.9 L1775.2 147.4 L1776.9 148.1 L1778.7 148.6 L1780.4 148.4 L1782.2 149.3 L1783.9 149.0 L1785.7 148.5 L1787.5 148.6 L1789.2 148.6 L1791.0 149.0 L1792.7 148.7 L1794.5 148.5 L1796.2 148.2 L1798.0 148.4 L1799.8 148.1 L1801.5 147.8 L1803.3 149.0 L1805.0 148.7 L1806.8 148.9 L1808.5 149.9 L1810.3 150.3 L1812.1 150.2 L1813.8 152.1 L1815.6 152.0 L1817.3 153.1 L1819.1 152.8 L1820.8 153.1 L1822.6 154.0 L1824.4 154.9 L1826.1 154.6 L1827.9 154.8 L1829.6 154.7 L1831.4 155.0 L1833.1 154.9 L1834.9 154.6 L1836.7 155.0 L1838.4 155.2 L1840.2 154.5 L1841.9 155.6 L1843.7 155.1 L1845.4 155.8 L1847.2 155.6 L1848.9 156.8 L1850.7 156.1 L1852.5 157.5 L1854.2 158.4 L1856.0 158.7 L1857.7 159.2 L1859.5 160.3 L1861.2 160.3 L1863.0 160.8 L1864.8 160.9 L1866.5 161.7 L1868.3 162.1 L1870.0 162.4 L1871.8 161.9 L1873.5 161.7 L1875.3 162.3" stroke="#00c7ff" stroke-width="5.0"/>
<path d="M1611.8 371.8 L1613.5 367.5 L1615.3 362.9 L1617.0 356.5 L1618.8 350.1 L1620.6 342.6 L1622.3 333.3 L1624.1 324.7 L1625.8 316.0 L1627.6 304.9 L1629.3 294.9 L1631.1 284.1 L1632.9 273.4 L1634.6 262.0 L1636.4 251.1 L1638.1 240.0 L1639.9 230.4 L1641.6 220.2 L1643.4 212.0 L1645.2 203.8 L1646.9 196.5 L1648.7 188.3 L1650.4 181.7 L1652.2 176.5 L1653.9 172.9 L1655.7 170.5 L1657.5 167.7 L1659.2 166.0 L1661.0 163.1 L1662.7 161.2 L1664.5 158.4 L1666.2 156.1 L1668.0 153.9 L1669.8 151.7 L1671.5 151.9 L1673.3 150.3 L1675.0 150.5 L1676.8 150.1 L1678.5 149.6 L1680.3 149.1 L1682.1 149.4 L1683.8 149.1 L1685.6 148.0 L1687.3 148.9 L1689.1 147.9 L1690.8 147.6 L1692.6 148.1 L1694.3 147.0 L1696.1 146.6 L1697.9 146.0 L1699.6 146.5 L1701.4 145.3 L1703.1 145.6 L1704.9 145.4 L1706.6 144.5 L1708.4 145.4 L1710.2 144.2 L1711.9 144.0 L1713.7 144.1 L1715.4 143.1 L1717.2 143.4 L1718.9 143.0 L1720.7 142.7 L1722.5 142.4 L1724.2 143.3 L1726.0 143.2 L1727.7 143.5 L1729.5 143.6 L1731.2 143.6 L1733.0 144.6 L1734.8 144.2 L1736.5 145.1 L1738.3 145.3 L1740.0 145.9 L1741.8 145.7 L1743.5 145.2 L1745.3 145.6 L1747.1 145.4 L1748.8 145.9 L1750.6 145.8 L1752.3 145.7 L1754.1 145.3 L1755.8 145.2 L1757.6 145.0 L1759.4 146.1 L1761.1 145.4 L1762.9 145.5 L1764.6 146.3 L1766.4 147.4 L1768.1 147.6 L1769.9 148.5 L1771.6 148.7 L1773.4 148.2 L1775.2 149.1 L1776.9 149.5 L1778.7 149.7 L1780.4 149.8 L1782.2 150.4 L1783.9 150.5 L1785.7 150.5 L1787.5 150.4 L1789.2 150.4 L1791.0 150.2 L1792.7 150.7 L1794.5 150.0 L1796.2 150.1 L1798.0 149.7 L1799.8 150.6 L1801.5 150.5 L1803.3 150.9 L1805.0 150.2 L1806.8 150.4 L1808.5 151.2 L1810.3 152.2 L1812.1 152.2 L1813.8 152.9 L1815.6 153.8 L1817.3 154.8 L1819.1 155.3 L1820.8 155.6 L1822.6 156.2 L1824.4 156.4 L1826.1 156.4 L1827.9 156.2 L1829.6 157.5 L1831.4 156.8 L1833.1 157.6 L1834.9 157.4 L1836.7 156.5 L1838.4 156.8 L1840.2 156.4 L1841.9 157.1 L1843.7 157.8 L1845.4 157.6 L1847.2 157.6 L1848.9 157.6 L1850.7 158.0 L1852.5 159.2 L1854.2 159.9 L1856.0 160.9 L1857.7 160.8 L1859.5 162.0 L1861.2 162.7 L1863.0 163.4 L1864.8 163.9 L1866.5 163.3 L1868.3 164.4 L1870.0 163.5 L1871.8 164.8 L1873.5 163.9 L1875.3 164.9" stroke="#00dbff" stroke-width="5.0"/>
<path d="M1611.8 373.7 L1613.5 369.1 L1615.3 365.6 L1617.0 360.2 L1618.8 353.9 L1620.6 346.0 L1622.3 338.1 L1624.1 330.4 L1625.8 321.6 L1627.6 311.5 L1629.3 301.2 L1631.1 290.6 L1632.9 279.7 L1634.6 268.7 L1636.4 258.8 L1638.1 246.8 L1639.9 236.0 L1641.6 225.8 L1643.4 217.4 L1645.2 209.9 L1646.9 201.5 L1648.7 194.0 L1650.4 186.8 L1652.2 180.0 L1653.9 176.1 L1655.7 173.3 L1657.5 170.3 L1659.2 167.8 L1661.0 166.3 L1662.7 163.4 L1664.5 160.9 L1666.2 159.6 L1668.0 156.9 L1669.8 154.7 L1671.5 153.3 L1673.3 152.8 L1675.0 152.3 L1676.8 151.3 L1678.5 151.0 L1680.3 151.1 L1682.1 151.3 L1683.8 150.1 L1685.6 149.9 L1687.3 150.3 L1689.1 149.6 L1690.8 148.9 L1692.6 148.6 L1694.3 148.8 L1696.1 148.6 L1697.9 148.1 L1699.6 148.4 L1701.4 148.1 L1703.1 147.8 L1704.9 146.9 L1706.6 147.0 L1708.4 146.5 L1710.2 146.4 L1711.9 146.0 L1713.7 146.2 L1715.4 146.1 L1717.2 144.5 L1718.9 145.0 L1720.7 145.1 L1722.5 144.1 L1724.2 143.8 L1726.0 144.7 L1727.7 144.4 L1729.5 145.1 L1731.2 145.2 L1733.0 146.2 L1734.8 146.6 L1736.5 145.7 L1738.3 146.2 L1740.0 146.9 L1741.8 147.0 L1743.5 147.5 L1745.3 146.9 L1747.1 147.3 L1748.8 146.5 L1750.6 146.6 L1752.3 146.4 L1754.1 146.1 L1755.8 147.0 L1757.6 147.3 L1759.4 147.3 L1761.1 147.5 L1762.9 148.0 L1764.6 148.4 L1766.4 148.2 L1768.1 148.3 L1769.9 149.4 L1771.6 149.3 L1773.4 149.9 L1775.2 151.5 L1776.9 151.3 L1778.7 151.9 L1780.4 152.6 L1782.2 151.7 L1783.9 152.7 L1785.7 152.3 L1787.5 152.2 L1789.2 151.7 L1791.0 151.9 L1792.7 152.2 L1794.5 152.0 L1796.2 152.2 L1798.0 151.1 L1799.8 151.1 L1801.5 152.2 L1803.3 152.6 L1805.0 152.6 L1806.8 152.8 L1808.5 152.6 L1810.3 153.2 L1812.1 153.9 L1813.8 155.6 L1815.6 155.3 L1817.3 156.0 L1819.1 156.7 L1820.8 156.8 L1822.6 158.5 L1824.4 158.7 L1826.1 158.2 L1827.9 158.1 L1829.6 158.6 L1831.4 159.1 L1833.1 158.7 L1834.9 158.4 L1836.7 159.3 L1838.4 159.0 L1840.2 159.1 L1841.9 159.3 L1843.7 159.0 L1845.4 159.7 L1847.2 159.9 L1848.9 160.4 L1850.7 160.2 L1852.5 161.7 L1854.2 161.3 L1856.0 162.7 L1857.7 163.6 L1859.5 163.0 L1861.2 164.6 L1863.0 164.2 L1864.8 164.8 L1866.5 165.1 L1868.3 166.5 L1870.0 166.3 L1871.8 166.9 L1873.5 165.8 L1875.3 166.0" stroke="#00f0ff" stroke-width="5.0"/>
<path d="M1611.8 375.2 L1613.5 372.4 L1615.3 368.0 L1617.0 364.1 L1618.8 358.3 L1620.6 350.5 L1622.3 342.8 L1624.1 335.4 L1625.8 326.8 L1627.6 317.4 L1629.3 306.8 L1631.1 296.8 L1632.9 286.8 L1634.6 276.2 L1636.4 264.8 L1638.1 253.7 L1639.9 242.7 L1641.6 232.5 L1643.4 223.5 L1645.2 215.4 L1646.9 206.9 L1648.7 200.0 L1650.4 192.2 L1652.2 186.0 L1653.9 179.1 L1655.7 175.8 L1657.5 172.5 L1659.2 170.3 L1661.0 168.7 L1662.7 167.2 L1664.5 163.9 L1666.2 162.3 L1668.0 159.7 L1669.8 158.3 L1671.5 156.4 L1673.3 154.0 L1675.0 153.7 L1676.8 153.5 L1678.5 153.0 L1680.3 152.4 L1682.1 152.9 L1683.8 152.0 L1685.6 151.8 L1687.3 151.5 L1689.1 151.7 L1690.8 150.7 L1692.6 150.3 L1694.3 150.0 L1696.1 150.4 L1697.9 149.6 L1699.6 149.8 L1701.4 149.0 L1703.1 149.7 L1704.9 148.4 L1706.6 148.0 L1708.4 148.3 L1710.2 148.0 L1711.9 147.8 L1713.7 147.5 L1715.4 147.9 L1717.2 146.4 L1718.9 147.1 L1720.7 146.9 L1722.5 146.6 L1724.2 146.2 L1726.0 145.3 L1727.7 146.4 L1729.5 146.6 L1731.2 146.1 L1733.0 147.2 L1734.8 147.9 L1736.5 147.5 L1738.3 147.8 L1740.0 148.2 L1741.8 148.1 L1743.5 149.1 L1745.3 148.1 L1747.1 148.2 L1748.8 149.0 L1750.6 148.7 L1752.3 148.1 L1754.1 148.0 L1755.8 148.3 L1757.6 148.5 L1759.4 148.3 L1761.1 148.9 L1762.9 148.6 L1764.6 148.7 L1766.4 150.1 L1768.1 150.1 L1769.9 150.5 L1771.6 151.9 L1773.4 151.6 L1775.2 152.0 L1776.9 153.2 L1778.7 153.5 L1780.4 153.3 L1782.2 154.0 L1783.9 154.3 L1785.7 153.6 L1787.5 153.7 L1789.2 154.2 L1791.0 154.2 L1792.7 153.9 L1794.5 153.6 L1796.2 152.8 L1798.0 153.0 L1799.8 152.8 L1801.5 153.1 L1803.3 153.2 L1805.0 154.6 L1806.8 154.3 L1808.5 154.2 L1810.3 154.9 L1812.1 156.4 L1813.8 156.9 L1815.6 157.3 L1817.3 158.3 L1819.1 158.7 L1820.8 159.9 L1822.6 159.9 L1824.4 160.2 L1826.1 161.1 L1827.9 161.1 L1829.6 160.1 L1831.4 160.4 L1833.1 160.1 L1834.9 160.5 L1836.7 160.2 L1838.4 160.0 L1840.2 160.0 L1841.9 161.2 L1843.7 160.6 L1845.4 161.3 L1847.2 161.1 L1848.9 162.1 L1850.7 162.2 L1852.5 162.3 L1854.2 163.4 L1856.0 164.5 L1857.7 164.9 L1859.5 165.7 L1861.2 165.6 L1863.0 167.1 L1864.8 167.6 L1866.5 167.5 L1868.3 168.6 L1870.0 168.2 L1871.8 167.8 L1873.5 168.5 L1875.3 168.8" stroke="#05fffa" stroke-width="5.0"/>
<path d="M1613.5 373.8 L1615.3 370.6 L1617.0 366.4 L1618.8 361.4 L1620.6 354.8 L1622.3 347.6 L1624.1 339.2 L1625.8 331.0 L1627.6 321.7 L1629.3 313.1 L1631.1 302.2 L1632.9 293.2 L1634.6 281.8 L1636.4 271.4 L1638.1 260.6 L1639.9 249.2 L1641.6 239.0 L1643.4 229.1 L1645.2 219.8 L1646.9 211.9 L1648.7 205.0 L1650.4 198.1 L1652.2 190.8 L1653.9 184.2 L1655.7 178.7 L1657.5 175.9 L1659.2 173.5 L1661.0 171.2 L1662.7 169.4 L1664.5 167.4 L1666.2 164.7 L1668.0 162.6 L1669.8 161.0 L1671.5 159.1 L1673.3 157.5 L1675.0 155.8 L1676.8 155.1 L1678.5 154.1 L1680.3 153.9 L1682.1 154.3 L1683.8 152.9 L1685.6 153.5 L1687.3 152.5 L1689.1 152.3 L1690.8 151.9 L1692.6 152.7 L1694.3 152.1 L1696.1 151.2 L1697.9 152.2 L1699.6 151.9 L1701.4 150.9 L1703.1 150.8 L1704.9 150.0 L1706.6 149.9 L1708.4 150.0 L1710.2 149.1 L1711.9 149.5 L1713.7 149.3 L1715.4 148.8 L1717.2 149.0 L1718.9 148.7 L1720.7 148.1 L1722.5 148.2 L1724.2 147.1 L1726.0 147.3 L1727.7 147.3 L1729.5 147.9 L1731.2 147.8 L1733.0 148.1 L1734.8 148.3 L1736.5 148.7 L1738.3 148.7 L1740.0 148.9 L1741.8 149.7 L1743.5 149.9 L1745.3 149.7 L1747.1 149.1 L1748.8 149.9 L1750.6 149.4 L1752.3 148.9 L1754.1 149.7 L1755.8 149.5 L1757.6 148.6 L1759.4 149.0 L1761.1 149.7 L1762.9 150.6 L1764.6 150.0 L1766.4 150.8 L1768.1 151.2 L1769.9 151.6 L1771.6 152.4 L1773.4 153.6 L1775.2 154.6 L1776.9 154.9 L1778.7 155.1 L1780.4 155.4 L1782.2 156.1 L1783.9 156.2 L1785.7 155.7 L1787.5 155.7 L1789.2 155.9 L1791.0 154.9 L1792.7 155.2 L1794.5 155.8 L1796.2 155.2 L1798.0 154.6 L1799.8 155.3 L1801.5 154.9 L1803.3 156.0 L1805.0 155.9 L1806.8 155.6 L1808.5 156.4 L1810.3 156.9 L1812.1 158.2 L1813.8 158.6 L1815.6 159.2 L1817.3 160.3 L1819.1 160.4 L1820.8 161.2 L1822.6 161.0 L1824.4 162.0 L1826.1 162.5 L1827.9 163.0 L1829.6 163.1 L1831.4 162.3 L1833.1 163.1 L1834.9 163.0 L1836.7 162.8 L1838.4 162.3 L1840.2 161.9 L1841.9 162.2 L1843.7 162.1 L1845.4 163.4 L1847.2 163.8 L1848.9 163.2 L1850.7 164.3 L1852.5 164.4 L1854.2 165.6 L1856.0 166.6 L1857.7 167.2 L1859.5 168.1 L1861.2 167.7 L1863.0 168.7 L1864.8 169.6 L1866.5 169.9 L1868.3 170.3 L1870.0 171.0 L1871.8 170.0 L1873.5 170.4 L1875.3 169.9" stroke="#1affe5" stroke-width="5.0"/>
<path d="M1613.5 377.2 L1615.3 374.2 L1617.0 370.0 L1618.8 366.8 L1620.6 360.3 L1622.3 354.0 L1624.1 346.7 L1625.8 338.5 L1627.6 330.5 L1629.3 320.6 L1631.1 311.5 L1632.9 300.9 L1634.6 291.3 L1636.4 281.2 L1638.1 270.8 L1639.9 259.6 L1641.6 249.4 L1643.4 237.9 L1645.2 229.1 L1646.9 220.1 L1648.7 212.6 L1650.4 206.0 L1652.2 198.3 L1653.9 191.9 L1655.7 185.2 L1657.5 180.3 L1659.2 177.4 L1661.0 175.1 L1662.7 173.6 L1664.5 171.5 L1666.2 168.7 L1668.0 167.5 L1669.8 165.1 L1671.5 163.9 L1673.3 161.3 L1675.0 159.7 L1676.8 157.9 L1678.5 157.0 L1680.3 156.7 L1682.1 156.1 L1683.8 156.0 L1685.6 155.9 L1687.3 154.9 L1689.1 155.2 L1690.8 154.9 L1692.6 154.0 L1694.3 153.9 L1696.1 153.6 L1697.9 153.4 L1699.6 154.1 L1701.4 153.7 L1703.1 153.8 L1704.9 152.7 L1706.6 152.5 L1708.4 152.7 L1710.2 152.4 L1711.9 151.9 L1713.7 151.6 L1715.4 152.0 L1717.2 150.9 L1718.9 151.4 L1720.7 150.7 L1722.5 151.0 L1724.2 150.9 L1726.0 149.6 L1727.7 149.8 L1729.5 149.7 L1731.2 150.6 L1733.0 150.6 L1734.8 150.7 L1736.5 150.9 L1738.3 151.2 L1740.0 151.4 L1741.8 152.1 L1743.5 151.9 L1745.3 151.5 L1747.1 152.0 L1748.8 151.0 L1750.6 151.2 L1752.3 150.9 L1754.1 151.4 L1755.8 151.1 L1757.6 150.9 L1759.4 151.5 L1761.1 152.2 L1762.9 151.5 L1764.6 152.1 L1766.4 153.3 L1768.1 154.3 L1769.9 153.9 L1771.6 154.9 L1773.4 156.3 L1775.2 156.7 L1776.9 157.4 L1778.7 157.0 L1780.4 158.2 L1782.2 157.5 L1783.9 157.9 L1785.7 158.8 L1787.5 158.0 L1789.2 158.3 L1791.0 157.6 L1792.7 157.4 L1794.5 157.9 L1796.2 158.1 L1798.0 156.8 L1799.8 157.6 L1801.5 157.0 L1803.3 157.6 L1805.0 157.8 L1806.8 158.1 L1808.5 159.0 L1810.3 159.8 L1812.1 161.0 L1813.8 160.9 L1815.6 162.0 L1817.3 162.7 L1819.1 162.8 L1820.8 164.4 L1822.6 164.1 L1824.4 165.5 L1826.1 164.9 L1827.9 164.9 L1829.6 165.7 L1831.4 165.3 L1833.1 164.7 L1834.9 165.1 L1836.7 165.1 L1838.4 165.4 L1840.2 165.6 L1841.9 165.3 L1843.7 165.4 L1845.4 165.9 L1847.2 166.1 L1848.9 166.8 L1850.7 166.6 L1852.5 167.3 L1854.2 168.6 L1856.0 169.3 L1857.7 169.7 L1859.5 170.6 L1861.2 170.6 L1863.0 172.1 L1864.8 172.7 L1866.5 172.4 L1868.3 173.7 L1870.0 173.4 L1871.8 173.8 L1873.5 173.2 L1875.3 173.5" stroke="#38ffc7" stroke-width="5.0"/>
<path d="M1613.5 380.0 L1615.3 377.6 L1617.0 374.3 L1618.8 370.7 L1620.6 366.5 L1622.3 359.8 L1624.1 353.3 L1625.8 345.8 L1627.6 337.1 L1629.3 328.5 L1631.1 319.0 L1632.9 309.6 L1634.6 299.6 L1636.4 289.6 L1638.1 280.0 L1639.9 269.4 L1641.6 259.3 L1643.4 248.5 L1645.2 237.7 L1646.9 228.8 L1648.7 219.8 L1650.4 213.4 L1652.2 206.3 L1653.9 198.8 L1655.7 193.3 L1657.5 187.2 L1659.2 181.8 L1661.0 179.0 L1662.7 176.3 L1664.5 175.4 L1666.2 172.4 L1668.0 170.6 L1669.8 168.9 L1671.5 167.5 L1673.3 165.9 L1675.0 163.6 L1676.8 161.9 L1678.5 160.3 L1680.3 159.0 L1682.1 158.1 L1683.8 157.5 L1685.6 157.0 L1687.3 156.7 L1689.1 157.5 L1690.8 157.1 L1692.6 156.8 L1694.3 156.4 L1696.1 156.5 L1697.9 156.5 L1699.6 156.4 L1701.4 155.9 L1703.1 155.5 L1704.9 154.7 L1706.6 154.5 L1708.4 154.4 L1710.2 154.0 L1711.9 153.9 L1713.7 154.1 L1715.4 153.7 L1717.2 154.5 L1718.9 153.5 L1720.7 153.3 L1722.5 153.4 L1724.2 152.9 L1726.0 152.2 L1727.7 152.7 L1729.5 152.5 L1731.2 152.9 L1733.0 152.9 L1734.8 152.2 L1736.5 153.3 L1738.3 153.2 L1740.0 152.7 L1741.8 153.2 L1743.5 153.9 L1745.3 153.1 L1747.1 153.5 L1748.8 153.1 L1750.6 153.1 L1752.3 152.8 L1754.1 152.7 L1755.8 152.9 L1757.6 153.3 L1759.4 153.5 L1761.1 152.8 L1762.9 153.7 L1764.6 154.8 L1766.4 154.4 L1768.1 155.9 L1769.9 156.9 L1771.6 157.1 L1773.4 158.2 L1775.2 158.5 L1776.9 159.1 L1778.7 160.0 L1780.4 160.0 L1782.2 160.9 L1783.9 160.5 L1785.7 160.5 L1787.5 161.1 L1789.2 160.6 L1791.0 160.9 L1792.7 160.2 L1794.5 159.5 L1796.2 159.8 L1798.0 159.5 L1799.8 159.5 L1801.5 160.5 L1803.3 159.6 L1805.0 160.3 L1806.8 161.6 L1808.5 161.2 L1810.3 162.5 L1812.1 163.5 L1813.8 163.2 L1815.6 164.5 L1817.3 165.0 L1819.1 166.5 L1820.8 166.3 L1822.6 167.8 L1824.4 168.0 L1826.1 168.1 L1827.9 168.7 L1829.6 168.0 L1831.4 168.5 L1833.1 168.4 L1834.9 167.7 L1836.7 168.0 L1838.4 167.3 L1840.2 167.6 L1841.9 167.3 L1843.7 167.8 L1845.4 167.6 L1847.2 168.1 L1848.9 169.5 L1850.7 169.3 L1852.5 170.5 L1854.2 170.7 L1856.0 171.6 L1857.7 172.2 L1859.5 174.0 L1861.2 174.4 L1863.0 174.6 L1864.8 174.9 L1866.5 175.6 L1868.3 176.9 L1870.0 176.4 L1871.8 177.2 L1873.5 176.6 L1875.3 176.2" stroke="#57ffa8" stroke-width="5.0"/>
<path d="M1613.5 384.7 L1615.3 382.5 L1617.0 378.9 L1618.8 375.2 L1620.6 373.3 L1622.3 368.8 L1624.1 362.2 L1625.8 355.5 L1627.6 347.8 L1629.3 339.6 L1631.1 331.5 L1632.9 322.0 L1634.6 312.5 L1636.4 302.3 L1638.1 292.5 L1639.9 283.8 L1641.6 272.8 L1643.4 262.1 L1645.2 251.5 L1646.9 241.4 L1648.7 232.0 L1650.4 223.7 L1652.2 216.9 L1653.9 210.5 L1655.7 203.4 L1657.5 196.9 L1659.2 190.6 L1661.0 185.7 L1662.7 182.6 L1664.5 179.7 L1666.2 177.9 L1668.0 176.5 L1669.8 174.6 L1671.5 173.3 L1673.3 171.3 L1675.0 169.7 L1676.8 168.5 L1678.5 166.4 L1680.3 164.7 L1682.1 162.2 L1683.8 161.6 L1685.6 161.1 L1687.3 161.0 L1689.1 160.8 L1690.8 160.5 L1692.6 160.6 L1694.3 160.6 L1696.1 159.2 L1697.9 159.6 L1699.6 159.4 L1701.4 159.1 L1703.1 159.2 L1704.9 159.2 L1706.6 159.2 L1708.4 158.7 L1710.2 158.5 L1711.9 157.7 L1713.7 157.8 L1715.4 157.1 L1717.2 157.7 L1718.9 156.7 L1720.7 156.9 L1722.5 157.3 L1724.2 157.0 L1726.0 156.3 L1727.7 155.7 L1729.5 156.5 L1731.2 156.0 L1733.0 156.5 L1734.8 156.0 L1736.5 157.1 L1738.3 156.5 L1740.0 155.8 L1741.8 156.6 L1743.5 156.6 L1745.3 156.9 L1747.1 156.6 L1748.8 156.4 L1750.6 155.6 L1752.3 156.1 L1754.1 155.8 L1755.8 156.0 L1757.6 155.6 L1759.4 155.4 L1761.1 156.1 L1762.9 157.1 L1764.6 157.0 L1766.4 157.4 L1768.1 158.6 L1769.9 160.1 L1771.6 159.9 L1773.4 160.6 L1775.2 162.0 L1776.9 163.0 L1778.7 163.5 L1780.4 163.4 L1782.2 163.3 L1783.9 163.8 L1785.7 163.5 L1787.5 164.4 L1789.2 164.2 L1791.0 163.5 L1792.7 163.4 L1794.5 163.6 L1796.2 163.1 L1798.0 163.5 L1799.8 163.9 L1801.5 163.6 L1803.3 164.3 L1805.0 164.0 L1806.8 164.9 L1808.5 165.3 L1810.3 165.9 L1812.1 167.1 L1813.8 167.6 L1815.6 169.0 L1817.3 168.6 L1819.1 169.8 L1820.8 169.9 L1822.6 171.7 L1824.4 171.3 L1826.1 171.5 L1827.9 172.2 L1829.6 172.5 L1831.4 172.4 L1833.1 172.4 L1834.9 171.4 L1836.7 172.2 L1838.4 171.1 L1840.2 171.5 L1841.9 171.4 L1843.7 171.5 L1845.4 171.8 L1847.2 172.0 L1848.9 172.6 L1850.7 173.5 L1852.5 173.7 L1854.2 175.1 L1856.0 175.3 L1857.7 176.1 L1859.5 176.9 L1861.2 178.3 L1863.0 178.4 L1864.8 178.7 L1866.5 179.9 L1868.3 180.5 L1870.0 180.4 L1871.8 179.9 L1873.5 181.0 L1875.3 181.1" stroke="#75ff8a" stroke-width="5.0"/>
<path d="M1615.3 387.6 L1617.0 385.6 L1618.8 383.7 L1620.6 380.2 L1622.3 377.2 L1624.1 374.7 L1625.8 370.3 L1627.6 364.0 L1629.3 356.0 L1631.1 349.2 L1632.9 340.6 L1634.6 332.2 L1636.4 323.3 L1638.1 313.6 L1639.9 303.5 L1641.6 294.7 L1643.4 284.0 L1645.2 274.8 L1646.9 264.2 L1648.7 254.0 L1650.4 245.0 L1652.2 234.8 L1653.9 226.5 L1655.7 220.8 L1657.5 215.1 L1659.2 209.1 L1661.0 202.0 L1662.7 197.5 L1664.5 191.1 L1666.2 188.2 L1668.0 185.0 L1669.8 184.0 L1671.5 182.3 L1673.3 180.1 L1675.0 179.2 L1676.8 177.3 L1678.5 174.9 L1680.3 173.6 L1682.1 171.8 L1683.8 170.0 L1685.6 169.7 L1687.3 168.1 L1689.1 166.4 L1690.8 166.1 L1692.6 166.7 L1694.3 165.9 L1696.1 166.1 L1697.9 165.6 L1699.6 165.9 L1701.4 165.8 L1703.1 164.3 L1704.9 165.0 L1706.6 164.1 L1708.4 164.9 L1710.2 164.2 L1711.9 164.5 L1713.7 163.9 L1715.4 164.1 L1717.2 163.2 L1718.9 163.7 L1720.7 162.7 L1722.5 162.7 L1724.2 163.0 L1726.0 162.6 L1727.7 162.3 L1729.5 161.7 L1731.2 162.5 L1733.0 162.8 L1734.8 161.8 L1736.5 161.9 L1738.3 162.1 L1740.0 162.6 L1741.8 162.5 L1743.5 162.2 L1745.3 162.3 L1747.1 162.2 L1748.8 161.5 L1750.6 161.4 L1752.3 161.1 L1754.1 161.2 L1755.8 161.7 L1757.6 160.9 L1759.4 161.1 L1761.1 161.7 L1762.9 162.1 L1764.6 162.5 L1766.4 162.9 L1768.1 163.8 L1769.9 164.8 L1771.6 166.1 L1773.4 167.0 L1775.2 167.7 L1776.9 167.6 L1778.7 169.0 L1780.4 169.5 L1782.2 169.8 L1783.9 170.4 L1785.7 169.3 L1787.5 170.6 L1789.2 169.7 L1791.0 169.1 L1792.7 169.8 L1794.5 169.2 L1796.2 169.4 L1798.0 169.5 L1799.8 169.6 L1801.5 169.9 L1803.3 169.2 L1805.0 169.7 L1806.8 170.1 L1808.5 171.9 L1810.3 171.7 L1812.1 173.1 L1813.8 173.5 L1815.6 174.4 L1817.3 175.6 L1819.1 175.4 L1820.8 177.3 L1822.6 176.9 L1824.4 177.1 L1826.1 177.9 L1827.9 177.9 L1829.6 177.4 L1831.4 178.3 L1833.1 177.6 L1834.9 177.3 L1836.7 177.6 L1838.4 177.0 L1840.2 177.3 L1841.9 177.1 L1843.7 177.1 L1845.4 177.3 L1847.2 178.1 L1848.9 178.1 L1850.7 178.9 L1852.5 180.0 L1854.2 180.2 L1856.0 181.5 L1857.7 181.5 L1859.5 182.9 L1861.2 183.4 L1863.0 184.3 L1864.8 185.0 L1866.5 185.8 L1868.3 186.2 L1870.0 185.4 L1871.8 186.0 L1873.5 186.0 L1875.3 185.8" stroke="#94ff6b" stroke-width="5.0"/>
<path d="M1578.4 387.5 L1580.2 387.8 L1581.9 387.9 L1583.7 388.6 L1585.4 388.6 L1587.2 388.3 L1588.9 389.1 L1590.7 389.2 L1592.5 388.7 L1594.2 389.4 L1596.0 389.6 L1597.7 389.9 L1599.5 389.3 L1601.2 390.5 L1603.0 390.0 L1604.8 389.9 L1606.5 390.9 L1608.3 390.8 L1610.0 390.5 L1611.8 391.0 L1613.5 391.5 L1615.3 392.0 L1617.0 391.2 L1618.8 390.0 L1620.6 387.4 L1622.3 385.2 L1624.1 382.3 L1625.8 379.2 L1627.6 375.8 L1629.3 371.9 L1631.1 365.6 L1632.9 357.8 L1634.6 349.5 L1636.4 342.4 L1638.1 332.9 L1639.9 324.1 L1641.6 315.0 L1643.4 305.0 L1645.2 295.8 L1646.9 286.4 L1648.7 275.9 L1650.4 266.7 L1652.2 256.8 L1653.9 247.3 L1655.7 237.7 L1657.5 230.1 L1659.2 224.7 L1661.0 218.3 L1662.7 213.1 L1664.5 207.7 L1666.2 201.7 L1668.0 197.2 L1669.8 193.1 L1671.5 189.9 L1673.3 188.8 L1675.0 187.2 L1676.8 185.7 L1678.5 183.8 L1680.3 182.5 L1682.1 180.9 L1683.8 179.9 L1685.6 178.9 L1687.3 176.5 L1689.1 175.2 L1690.8 173.5 L1692.6 172.4 L1694.3 172.6 L1696.1 172.2 L1697.9 172.2 L1699.6 171.0 L1701.4 171.7 L1703.1 171.5 L1704.9 170.5 L1706.6 170.5 L1708.4 171.0 L1710.2 170.0 L1711.9 169.7 L1713.7 169.8 L1715.4 170.2 L1717.2 169.2 L1718.9 169.3 L1720.7 168.8 L1722.5 168.0 L1724.2 168.0 L1726.0 167.8 L1727.7 168.7 L1729.5 168.5 L1731.2 168.2 L1733.0 169.0 L1734.8 167.7 L1736.5 168.7 L1738.3 168.7 L1740.0 168.5 L1741.8 168.4 L1743.5 167.3 L1745.3 167.3 L1747.1 167.1 L1748.8 167.0 L1750.6 167.2 L1752.3 166.7 L1754.1 165.9 L1755.8 166.0 L1757.6 166.0 L1759.4 167.1 L1761.1 167.5 L1762.9 168.2 L1764.6 168.2 L1766.4 169.2 L1768.1 169.9 L1769.9 170.7 L1771.6 171.5 L1773.4 172.7 L1775.2 172.9 L1776.9 174.4 L1778.7 174.1 L1780.4 175.1 L1782.2 176.1 L1783.9 176.0 L1785.7 175.8 L1787.5 175.9 L1789.2 175.6 L1791.0 175.8 L1792.7 175.7 L1794.5 174.8 L1796.2 175.3 L1798.0 174.7 L1799.8 174.6 L1801.5 175.1 L1803.3 175.6 L1805.0 175.4 L1806.8 176.6 L1808.5 176.7 L1810.3 178.6 L1812.1 179.0 L1813.8 179.6 L1815.6 181.3 L1817.3 181.0 L1819.1 182.8 L1820.8 182.7 L1822.6 183.8 L1824.4 183.2 L1826.1 183.9 L1827.9 183.7 L1829.6 184.1 L1831.4 183.7 L1833.1 183.5 L1834.9 183.8 L1836.7 183.7 L1838.4 182.6 L1840.2 183.4 L1841.9 182.3 L1843.7 183.3 L1845.4 183.7 L1847.2 184.0 L1848.9 183.5 L1850.7 183.9 L1852.5 185.3 L1854.2 185.8 L1856.0 187.1 L1857.7 187.1 L1859.5 188.2 L1861.2 189.7 L1863.0 190.5 L1864.8 190.3 L1866.5 191.6 L1868.3 190.8 L1870.0 191.7 L1871.8 191.9 L1873.5 191.3 L1875.3 191.5" stroke="#b3ff4d" stroke-width="5.0"/>
<path d="M1578.4 389.5 L1580.2 390.2 L1581.9 389.4 L1583.7 390.4 L1585.4 389.9 L1587.2 391.0 L1588.9 390.3 L1590.7 390.2 L1592.5 391.2 L1594.2 391.9 L1596.0 391.6 L1597.7 391.4 L1599.5 392.2 L1601.2 391.9 L1603.0 392.7 L1604.8 392.4 L1606.5 392.2 L1608.3 392.8 L1610.0 392.7 L1611.8 393.6 L1613.5 392.8 L1615.3 394.0 L1617.0 393.1 L1618.8 393.0 L1620.6 392.5 L1622.3 391.5 L1624.1 389.5 L1625.8 386.8 L1627.6 383.5 L1629.3 381.1 L1631.1 377.3 L1632.9 373.8 L1634.6 366.8 L1636.4 358.7 L1638.1 351.2 L1639.9 343.2 L1641.6 335.3 L1643.4 326.0 L1645.2 316.3 L1646.9 305.8 L1648.7 296.2 L1650.4 287.5 L1652.2 277.2 L1653.9 269.1 L1655.7 259.0 L1657.5 249.3 L1659.2 241.3 L1661.0 233.0 L1662.7 227.3 L1664.5 222.9 L1666.2 217.6 L1668.0 212.4 L1669.8 207.7 L1671.5 202.3 L1673.3 199.0 L1675.0 195.3 L1676.8 194.2 L1678.5 193.0 L1680.3 191.0 L1682.1 190.2 L1683.8 188.2 L1685.6 186.5 L1687.3 185.4 L1689.1 184.2 L1690.8 183.4 L1692.6 181.3 L1694.3 180.5 L1696.1 178.6 L1697.9 178.5 L1699.6 177.4 L1701.4 177.5 L1703.1 177.2 L1704.9 176.6 L1706.6 177.1 L1708.4 176.9 L1710.2 175.6 L1711.9 176.3 L1713.7 175.4 L1715.4 175.1 L1717.2 175.5 L1718.9 175.7 L1720.7 175.5 L1722.5 174.2 L1724.2 175.0 L1726.0 174.3 L1727.7 174.2 L1729.5 174.7 L1731.2 174.3 L1733.0 174.8 L1734.8 174.3 L1736.5 174.4 L1738.3 174.6 L1740.0 174.7 L1741.8 174.2 L1743.5 174.1 L1745.3 173.7 L1747.1 173.1 L1748.8 171.8 L1750.6 172.0 L1752.3 171.3 L1754.1 172.4 L1755.8 171.1 L1757.6 171.8 L1759.4 171.7 L1761.1 172.4 L1762.9 172.8 L1764.6 174.1 L1766.4 174.2 L1768.1 175.8 L1769.9 176.6 L1771.6 177.9 L1773.4 178.3 L1775.2 179.0 L1776.9 180.1 L1778.7 179.9 L1780.4 181.5 L1782.2 181.2 L1783.9 181.9 L1785.7 181.6 L1787.5 181.3 L1789.2 181.3 L1791.0 182.0 L1792.7 181.5 L1794.5 180.9 L1796.2 180.2 L1798.0 181.4 L1799.8 180.7 L1801.5 180.8 L1803.3 181.0 L1805.0 182.1 L1806.8 182.1 L1808.5 183.3 L1810.3 183.5 L1812.1 185.6 L1813.8 185.3 L1815.6 186.9 L1817.3 187.8 L1819.1 188.9 L1820.8 189.3 L1822.6 189.2 L1824.4 189.6 L1826.1 190.5 L1827.9 190.4 L1829.6 190.6 L1831.4 190.3 L1833.1 190.1 L1834.9 189.6 L1836.7 188.5 L1838.4 188.2 L1840.2 188.3 L1841.9 188.6 L1843.7 188.6 L1845.4 188.4 L1847.2 188.5 L1848.9 189.2 L1850.7 189.9 L1852.5 191.2 L1854.2 191.4 L1856.0 191.9 L1857.7 192.9 L1859.5 194.6 L1861.2 194.6 L1863.0 195.7 L1864.8 196.6 L1866.5 195.9 L1868.3 196.6 L1870.0 196.6 L1871.8 197.5 L1873.5 196.4 L1875.3 196.1" stroke="#d1ff2e" stroke-width="5.0"/>
<path d="M1578.4 391.2 L1580.2 391.6 L1581.9 391.6 L1583.7 391.8 L1585.4 392.3 L1587.2 392.6 L1588.9 392.3 L1590.7 392.5 L1592.5 392.6 L1594.2 393.5 L1596.0 392.8 L1597.7 393.5 L1599.5 393.1 L1601.2 394.4 L1603.0 393.4 L1604.8 393.9 L1606.5 394.7 L1608.3 394.1 L1610.0 395.1 L1611.8 395.3 L1613.5 395.1 L1615.3 395.6 L1617.0 395.4 L1618.8 395.0 L1620.6 395.5 L1622.3 395.6 L1624.1 395.7 L1625.8 394.0 L1627.6 391.9 L1629.3 389.5 L1631.1 386.5 L1632.9 384.0 L1634.6 381.7 L1636.4 378.3 L1638.1 372.0 L1639.9 364.8 L1641.6 357.8 L1643.4 349.7 L1645.2 341.3 L1646.9 332.7 L1648.7 324.5 L1650.4 314.4 L1652.2 305.4 L1653.9 295.8 L1655.7 285.7 L1657.5 277.3 L1659.2 268.3 L1661.0 259.8 L1662.7 251.3 L1664.5 243.4 L1666.2 236.5 L1668.0 230.4 L1669.8 226.1 L1671.5 222.1 L1673.3 218.0 L1675.0 213.3 L1676.8 208.4 L1678.5 205.1 L1680.3 202.3 L1682.1 200.5 L1683.8 200.1 L1685.6 198.1 L1687.3 197.8 L1689.1 195.5 L1690.8 195.1 L1692.6 193.7 L1694.3 191.5 L1696.1 191.1 L1697.9 190.0 L1699.6 187.9 L1701.4 187.1 L1703.1 185.8 L1704.9 186.0 L1706.6 185.6 L1708.4 184.8 L1710.2 185.2 L1711.9 184.3 L1713.7 185.2 L1715.4 184.1 L1717.2 184.8 L1718.9 184.1 L1720.7 184.5 L1722.5 184.0 L1724.2 182.7 L1726.0 183.2 L1727.7 182.7 L1729.5 183.4 L1731.2 183.3 L1733.0 183.7 L1734.8 183.2 L1736.5 182.8 L1738.3 183.3 L1740.0 183.3 L1741.8 182.3 L1743.5 182.0 L1745.3 181.8 L1747.1 182.0 L1748.8 180.5 L1750.6 180.1 L1752.3 179.1 L1754.1 179.7 L1755.8 179.3 L1757.6 179.5 L1759.4 180.1 L1761.1 180.3 L1762.9 180.6 L1764.6 181.0 L1766.4 182.4 L1768.1 183.5 L1769.9 183.6 L1771.6 185.8 L1773.4 185.7 L1775.2 186.8 L1776.9 187.8 L1778.7 188.6 L1780.4 188.8 L1782.2 189.0 L1783.9 189.4 L1785.7 189.5 L1787.5 190.4 L1789.2 189.9 L1791.0 190.0 L1792.7 188.7 L1794.5 188.6 L1796.2 189.4 L1798.0 188.8 L1799.8 188.8 L1801.5 189.7 L1803.3 189.6 L1805.0 189.6 L1806.8 190.4 L1808.5 191.6 L1810.3 191.8 L1812.1 193.4 L1813.8 194.0 L1815.6 195.1 L1817.3 195.2 L1819.1 196.4 L1820.8 196.8 L1822.6 197.5 L1824.4 198.2 L1826.1 197.6 L1827.9 198.0 L1829.6 197.9 L1831.4 198.2 L1833.1 198.1 L1834.9 197.2 L1836.7 196.5 L1838.4 196.2 L1840.2 196.6 L1841.9 196.7 L1843.7 196.2 L1845.4 195.8 L1847.2 197.1 L1848.9 196.7 L1850.7 198.1 L1852.5 198.5 L1854.2 199.7 L1856.0 200.2 L1857.7 200.9 L1859.5 200.9 L1861.2 201.7 L1863.0 203.4 L1864.8 203.8 L1866.5 203.3 L1868.3 204.6 L1870.0 204.5 L1871.8 204.3 L1873.5 204.6 L1875.3 204.2" stroke="#f0ff0f" stroke-width="5.0"/>
<path d="M1578.4 393.8 L1580.2 393.9 L1581.9 393.3 L1583.7 394.4 L1585.4 394.6 L1587.2 393.8 L1588.9 394.6 L1590.7 394.2 L1592.5 394.6 L1594.2 394.6 L1596.0 395.4 L1597.7 395.7 L1599.5 395.1 L1601.2 395.6 L1603.0 395.6 L1604.8 395.6 L1606.5 395.7 L1608.3 396.4 L1610.0 396.5 L1611.8 395.9 L1613.5 396.5 L1615.3 397.0 L1617.0 396.7 L1618.8 397.3 L1620.6 396.8 L1622.3 397.9 L1624.1 397.0 L1625.8 397.5 L1627.6 398.0 L1629.3 397.2 L1631.1 397.5 L1632.9 395.9 L1634.6 393.8 L1636.4 390.6 L1638.1 387.7 L1639.9 385.1 L1641.6 382.5 L1643.4 377.8 L1645.2 372.8 L1646.9 365.6 L1648.7 357.9 L1650.4 350.2 L1652.2 343.0 L1653.9 334.7 L1655.7 325.7 L1657.5 316.9 L1659.2 306.9 L1661.0 298.0 L1662.7 289.7 L1664.5 281.3 L1666.2 272.9 L1668.0 265.8 L1669.8 258.3 L1671.5 249.9 L1673.3 243.9 L1675.0 239.0 L1676.8 234.9 L1678.5 230.9 L1680.3 228.2 L1682.1 224.3 L1683.8 221.0 L1685.6 217.3 L1687.3 214.8 L1689.1 212.7 L1690.8 211.8 L1692.6 210.9 L1694.3 210.0 L1696.1 208.8 L1697.9 208.1 L1699.6 206.3 L1701.4 205.3 L1703.1 204.2 L1704.9 204.0 L1706.6 202.3 L1708.4 201.1 L1710.2 200.6 L1711.9 199.4 L1713.7 199.0 L1715.4 198.9 L1717.2 198.6 L1718.9 198.6 L1720.7 198.0 L1722.5 198.7 L1724.2 197.7 L1726.0 197.5 L1727.7 197.6 L1729.5 198.0 L1731.2 198.3 L1733.0 197.7 L1734.8 197.5 L1736.5 198.3 L1738.3 198.3 L1740.0 198.2 L1741.8 198.1 L1743.5 196.9 L1745.3 196.0 L1747.1 195.5 L1748.8 195.4 L1750.6 194.1 L1752.3 194.1 L1754.1 192.4 L1755.8 192.8 L1757.6 193.2 L1759.4 192.6 L1761.1 193.6 L1762.9 194.0 L1764.6 195.0 L1766.4 195.3 L1768.1 196.0 L1769.9 196.7 L1771.6 198.7 L1773.4 198.6 L1775.2 200.5 L1776.9 201.1 L1778.7 201.3 L1780.4 202.2 L1782.2 202.6 L1783.9 202.5 L1785.7 203.0 L1787.5 202.2 L1789.2 202.8 L1791.0 201.7 L1792.7 201.5 L1794.5 201.6 L1796.2 202.1 L1798.0 201.0 L1799.8 202.0 L1801.5 201.6 L1803.3 202.0 L1805.0 202.9 L1806.8 202.8 L1808.5 203.4 L1810.3 204.5 L1812.1 205.7 L1813.8 206.5 L1815.6 207.4 L1817.3 208.7 L1819.1 208.5 L1820.8 208.9 L1822.6 209.6 L1824.4 209.7 L1826.1 210.7 L1827.9 209.8 L1829.6 210.8 L1831.4 210.0 L1833.1 210.1 L1834.9 209.2 L1836.7 208.5 L1838.4 208.1 L1840.2 208.1 L1841.9 208.0 L1843.7 208.2 L1845.4 207.9 L1847.2 208.3 L1848.9 208.8 L1850.7 208.6 L1852.5 209.6 L1854.2 210.4 L1856.0 211.5 L1857.7 211.7 L1859.5 213.2 L1861.2 213.8 L1863.0 214.0 L1864.8 214.4 L1866.5 214.4 L1868.3 214.9 L1870.0 214.7 L1871.8 214.6 L1873.5 214.6 L1875.3 214.3" stroke="#fff000" stroke-width="5.0"/>
<path d="M1578.4 396.1 L1580.2 396.1 L1581.9 396.5 L1583.7 395.4 L1585.4 395.8 L1587.2 396.0 L1588.9 396.6 L1590.7 396.7 L1592.5 397.0 L1594.2 396.6 L1596.0 396.2 L1597.7 397.3 L1599.5 397.7 L1601.2 397.7 L1603.0 397.6 L1604.8 397.0 L1606.5 397.2 L1608.3 397.8 L1610.0 398.4 L1611.8 398.6 L1613.5 398.6 L1615.3 397.9 L1617.0 398.5 L1618.8 397.9 L1620.6 398.2 L1622.3 398.4 L1624.1 399.0 L1625.8 398.7 L1627.6 399.7 L1629.3 399.9 L1631.1 399.4 L1632.9 399.6 L1634.6 400.1 L1636.4 399.9 L1638.1 399.2 L1639.9 396.1 L1641.6 393.9 L1643.4 391.0 L1645.2 388.3 L1646.9 386.2 L1648.7 382.5 L1650.4 378.3 L1652.2 371.8 L1653.9 365.1 L1655.7 359.3 L1657.5 352.6 L1659.2 345.1 L1661.0 336.7 L1662.7 328.3 L1664.5 319.8 L1666.2 309.7 L1668.0 300.8 L1669.8 292.6 L1671.5 285.4 L1673.3 277.1 L1675.0 270.7 L1676.8 264.6 L1678.5 257.6 L1680.3 251.3 L1682.1 246.4 L1683.8 243.5 L1685.6 240.3 L1687.3 237.9 L1689.1 234.9 L1690.8 231.1 L1692.6 229.1 L1694.3 227.2 L1696.1 225.1 L1697.9 224.7 L1699.6 223.8 L1701.4 222.6 L1703.1 221.5 L1704.9 220.6 L1706.6 219.6 L1708.4 219.1 L1710.2 218.7 L1711.9 217.0 L1713.7 217.0 L1715.4 215.6 L1717.2 214.8 L1718.9 213.8 L1720.7 213.1 L1722.5 213.3 L1724.2 212.5 L1726.0 212.3 L1727.7 212.5 L1729.5 212.9 L1731.2 212.0 L1733.0 212.5 L1734.8 213.2 L1736.5 213.1 L1738.3 212.0 L1740.0 212.9 L1741.8 212.4 L1743.5 211.5 L1745.3 210.9 L1747.1 210.4 L1748.8 209.4 L1750.6 209.5 L1752.3 208.6 L1754.1 206.6 L1755.8 206.2 L1757.6 206.7 L1759.4 206.5 L1761.1 206.4 L1762.9 206.0 L1764.6 207.6 L1766.4 207.9 L1768.1 208.4 L1769.9 209.8 L1771.6 210.4 L1773.4 212.3 L1775.2 213.3 L1776.9 214.3 L1778.7 214.0 L1780.4 215.4 L1782.2 214.6 L1783.9 215.1 L1785.7 215.9 L1787.5 214.9 L1789.2 215.6 L1791.0 214.9 L1792.7 215.1 L1794.5 213.9 L1796.2 213.5 L1798.0 213.4 L1799.8 214.6 L1801.5 213.6 L1803.3 214.3 L1805.0 214.4 L1806.8 215.4 L1808.5 216.0 L1810.3 216.9 L1812.1 217.6 L1813.8 219.6 L1815.6 220.5 L1817.3 220.7 L1819.1 221.7 L1820.8 222.1 L1822.6 223.0 L1824.4 222.3 L1826.1 223.3 L1827.9 222.1 L1829.6 221.9 L1831.4 222.1 L1833.1 222.1 L1834.9 220.9 L1836.7 220.9 L1838.4 220.2 L1840.2 220.2 L1841.9 218.8 L1843.7 219.2 L1845.4 219.5 L1847.2 220.0 L1848.9 219.5 L1850.7 219.8 L1852.5 220.4 L1854.2 222.2 L1856.0 222.6 L1857.7 223.5 L1859.5 223.6 L1861.2 225.1 L1863.0 225.1 L1864.8 225.1 L1866.5 225.7 L1868.3 226.9 L1870.0 226.8 L1871.8 226.6 L1873.5 225.5 L1875.3 225.2" stroke="#ffd100" stroke-width="5.0"/>
<path d="M1578.4 395.5 L1579.9 395.7 L1581.4 395.9 L1582.9 395.7 L1584.4 395.7 L1585.9 395.4 L1587.4 395.8 L1588.8 395.8 L1590.3 395.7 L1591.8 396.0 L1593.3 396.3 L1594.8 397.7 L1596.3 396.6 L1597.8 396.4 L1599.3 397.3 L1600.8 396.6 L1602.3 398.0 L1603.8 396.8 L1605.3 397.8 L1606.7 397.4 L1608.2 398.3 L1609.7 398.4 L1611.2 398.4 L1612.7 398.6 L1614.2 399.1 L1615.7 398.6 L1617.2 397.7 L1618.7 398.5 L1620.2 398.1 L1621.7 398.5 L1623.2 398.5 L1624.7 398.3 L1626.1 398.9 L1627.6 399.8 L1629.1 400.0 L1630.6 399.8 L1632.1 400.6 L1633.6 400.3 L1635.1 399.2 L1636.6 399.0 L1638.1 399.8 L1639.6 398.8 L1641.1 398.4 L1642.6 397.7 L1644.0 397.1 L1645.5 396.7 L1647.0 396.6 L1648.5 394.4 L1650.0 394.3 L1651.5 392.2 L1653.0 390.1 L1654.5 386.4 L1656.0 382.0 L1657.5 379.6 L1659.0 374.9 L1660.5 369.9 L1661.9 364.6 L1663.4 358.0 L1664.9 353.0 L1666.4 346.1 L1667.9 340.5 L1669.4 334.0 L1670.9 329.4 L1672.4 322.9 L1673.9 316.4 L1675.4 309.0 L1676.9 304.4 L1678.4 298.2 L1679.9 291.9 L1681.3 286.1 L1682.8 282.4 L1684.3 276.8 L1685.8 271.8 L1687.3 267.9 L1688.8 264.3 L1690.3 261.0 L1691.8 258.6 L1693.3 255.6 L1694.8 253.5 L1696.3 250.3 L1697.8 249.2 L1699.2 247.3 L1700.7 244.3 L1702.2 243.4 L1703.7 242.2 L1705.2 240.9 L1706.7 239.9 L1708.2 238.7 L1709.7 238.4 L1711.2 237.9 L1712.7 237.2 L1714.2 236.5 L1715.7 235.1 L1717.2 234.8 L1718.6 234.1 L1720.1 232.8 L1721.6 231.3 L1723.1 231.1 L1724.6 231.3 L1726.1 229.7 L1727.6 230.2 L1729.1 229.7 L1730.6 228.8 L1732.1 228.1 L1733.6 227.3 L1735.1 227.4 L1736.5 226.6 L1738.0 227.4 L1739.5 225.6 L1741.0 226.4 L1742.5 225.2 L1744.0 226.3 L1745.5 224.6 L1747.0 225.4 L1748.5 224.0 L1750.0 223.8 L1751.5 223.8 L1753.0 224.4 L1754.5 224.8 L1755.9 224.4 L1757.4 223.1 L1758.9 224.4 L1760.4 223.4 L1761.9 223.5 L1763.4 223.3 L1764.9 224.1 L1766.4 224.1 L1767.9 224.2 L1769.4 222.5 L1770.9 223.5 L1772.4 223.0 L1773.8 223.1 L1775.3 223.7 L1776.8 223.9 L1778.3 223.9 L1779.8 222.3 L1781.3 223.5 L1782.8 221.8 L1784.3 222.8 L1785.8 222.0 L1787.3 222.9 L1788.8 221.6 L1790.3 222.4 L1791.8 222.0 L1793.2 221.6 L1794.7 222.2 L1796.2 221.8 L1797.7 220.7 L1799.2 221.8 L1800.7 222.0 L1802.2 221.9 L1803.7 223.5 L1805.2 224.2 L1806.7 224.8 L1808.2 225.1 L1809.7 225.7 L1811.1 225.8 L1812.6 226.5 L1814.1 226.2 L1815.6 228.0 L1817.1 227.3 L1818.6 227.4 L1820.1 228.8 L1821.6 229.5 L1823.1 229.2 L1824.6 230.1 L1826.1 229.9 L1827.6 229.8 L1829.0 231.3 L1830.5 231.4 L1832.0 230.8 L1833.5 231.2 L1835.0 230.8 L1836.5 230.2 L1838.0 230.6 L1839.5 230.5 L1841.0 229.7 L1842.5 229.3 L1844.0 228.2 L1845.5 228.7 L1847.0 229.3 L1848.4 228.9 L1849.9 227.8 L1851.4 228.2 L1852.9 227.9 L1854.4 228.1 L1855.9 228.6 L1857.4 230.3 L1858.9 229.2 L1860.4 230.3 L1861.9 231.2 L1863.4 231.7 L1864.9 230.8 L1866.3 232.3 L1867.8 232.9 L1869.3 232.9 L1870.8 232.1 L1872.3 233.3 L1873.8 233.2 L1875.3 234.7" stroke="#fbb62c" stroke-width="5.0"/>
<path d="M1578.4 395.6 L1579.9 396.0 L1581.4 396.3 L1582.9 395.6 L1584.4 396.2 L1585.9 396.8 L1587.4 395.3 L1588.8 396.4 L1590.3 397.0 L1591.8 397.4 L1593.3 396.4 L1594.8 396.7 L1596.3 397.7 L1597.8 397.0 L1599.3 396.7 L1600.8 397.2 L1602.3 397.8 L1603.8 397.4 L1605.3 397.4 L1606.7 397.4 L1608.2 398.4 L1609.7 397.4 L1611.2 397.2 L1612.7 397.7 L1614.2 397.6 L1615.7 398.6 L1617.2 397.7 L1618.7 399.1 L1620.2 399.2 L1621.7 398.6 L1623.2 398.2 L1624.7 399.8 L1626.1 399.6 L1627.6 400.1 L1629.1 399.5 L1630.6 400.1 L1632.1 400.1 L1633.6 399.2 L1635.1 399.6 L1636.6 399.1 L1638.1 400.1 L1639.6 399.5 L1641.1 400.5 L1642.6 398.7 L1644.0 399.8 L1645.5 399.2 L1647.0 398.9 L1648.5 397.6 L1650.0 397.7 L1651.5 395.9 L1653.0 395.7 L1654.5 395.5 L1656.0 393.4 L1657.5 393.1 L1659.0 389.6 L1660.5 387.9 L1661.9 385.3 L1663.4 381.0 L1664.9 379.2 L1666.4 375.9 L1667.9 372.4 L1669.4 367.6 L1670.9 364.1 L1672.4 358.7 L1673.9 354.3 L1675.4 348.3 L1676.9 344.9 L1678.4 338.9 L1679.9 334.4 L1681.3 328.8 L1682.8 323.4 L1684.3 318.0 L1685.8 314.0 L1687.3 309.2 L1688.8 304.9 L1690.3 298.9 L1691.8 295.9 L1693.3 291.8 L1694.8 287.6 L1696.3 284.3 L1697.8 280.7 L1699.2 279.2 L1700.7 276.1 L1702.2 273.7 L1703.7 270.7 L1705.2 268.8 L1706.7 266.9 L1708.2 264.1 L1709.7 262.8 L1711.2 261.1 L1712.7 259.8 L1714.2 260.0 L1715.7 257.7 L1717.2 257.6 L1718.6 257.3 L1720.1 254.8 L1721.6 255.5 L1723.1 254.9 L1724.6 253.6 L1726.1 252.9 L1727.6 250.9 L1729.1 250.4 L1730.6 250.5 L1732.1 249.7 L1733.6 248.7 L1735.1 248.4 L1736.5 248.3 L1738.0 248.2 L1739.5 248.5 L1741.0 247.9 L1742.5 246.9 L1744.0 246.7 L1745.5 246.1 L1747.0 245.7 L1748.5 245.4 L1750.0 246.6 L1751.5 246.6 L1753.0 245.0 L1754.5 245.4 L1755.9 245.9 L1757.4 244.8 L1758.9 245.4 L1760.4 245.3 L1761.9 245.0 L1763.4 244.7 L1764.9 244.3 L1766.4 245.3 L1767.9 244.0 L1769.4 244.2 L1770.9 244.4 L1772.4 243.9 L1773.8 243.6 L1775.3 245.0 L1776.8 244.1 L1778.3 243.6 L1779.8 243.3 L1781.3 243.2 L1782.8 243.7 L1784.3 241.9 L1785.8 241.9 L1787.3 242.6 L1788.8 241.9 L1790.3 240.6 L1791.8 241.6 L1793.2 240.9 L1794.7 239.6 L1796.2 239.6 L1797.7 240.9 L1799.2 240.5 L1800.7 241.7 L1802.2 241.8 L1803.7 242.2 L1805.2 244.0 L1806.7 244.5 L1808.2 245.0 L1809.7 245.5 L1811.1 246.3 L1812.6 246.5 L1814.1 246.4 L1815.6 246.7 L1817.1 247.7 L1818.6 247.2 L1820.1 246.9 L1821.6 247.9 L1823.1 248.7 L1824.6 248.5 L1826.1 249.3 L1827.6 250.1 L1829.0 249.6 L1830.5 250.3 L1832.0 248.7 L1833.5 249.3 L1835.0 248.5 L1836.5 247.1 L1838.0 247.1 L1839.5 246.6 L1841.0 246.6 L1842.5 246.2 L1844.0 245.7 L1845.5 244.9 L1847.0 245.9 L1848.4 244.7 L1849.9 245.5 L1851.4 245.8 L1852.9 245.0 L1854.4 245.7 L1855.9 245.5 L1857.4 245.7 L1858.9 246.5 L1860.4 247.4 L1861.9 248.0 L1863.4 247.4 L1864.9 247.3 L1866.3 248.4 L1867.8 249.1 L1869.3 249.5 L1870.8 249.5 L1872.3 248.9 L1873.8 250.4 L1875.3 250.3" stroke="#f59a26" stroke-width="5.0"/>
<path d="M1578.4 396.0 L1579.9 395.3 L1581.4 394.9 L1582.9 396.7 L1584.4 396.7 L1585.9 395.3 L1587.4 395.3 L1588.8 396.9 L1590.3 396.7 L1591.8 396.5 L1593.3 396.9 L1594.8 396.9 L1596.3 396.9 L1597.8 397.4 L1599.3 397.8 L1600.8 397.9 L1602.3 397.8 L1603.8 398.1 L1605.3 397.2 L1606.7 397.2 L1608.2 398.1 L1609.7 397.3 L1611.2 397.5 L1612.7 398.3 L1614.2 398.1 L1615.7 398.8 L1617.2 397.5 L1618.7 398.3 L1620.2 399.3 L1621.7 399.3 L1623.2 398.4 L1624.7 399.1 L1626.1 398.6 L1627.6 399.5 L1629.1 398.6 L1630.6 398.7 L1632.1 400.1 L1633.6 399.3 L1635.1 400.1 L1636.6 399.3 L1638.1 399.3 L1639.6 399.4 L1641.1 400.4 L1642.6 400.6 L1644.0 399.5 L1645.5 399.5 L1647.0 400.2 L1648.5 400.0 L1650.0 399.2 L1651.5 399.9 L1653.0 398.9 L1654.5 399.4 L1656.0 399.0 L1657.5 398.1 L1659.0 397.0 L1660.5 395.8 L1661.9 396.1 L1663.4 394.0 L1664.9 393.8 L1666.4 392.4 L1667.9 390.2 L1669.4 388.3 L1670.9 386.7 L1672.4 384.4 L1673.9 383.8 L1675.4 381.4 L1676.9 378.1 L1678.4 375.7 L1679.9 372.7 L1681.3 369.3 L1682.8 365.0 L1684.3 361.6 L1685.8 358.3 L1687.3 354.1 L1688.8 350.6 L1690.3 347.6 L1691.8 343.7 L1693.3 339.1 L1694.8 336.3 L1696.3 331.1 L1697.8 327.7 L1699.2 323.4 L1700.7 318.4 L1702.2 315.4 L1703.7 311.0 L1705.2 308.5 L1706.7 306.6 L1708.2 304.4 L1709.7 301.9 L1711.2 298.6 L1712.7 295.9 L1714.2 293.5 L1715.7 290.2 L1717.2 287.9 L1718.6 285.0 L1720.1 284.1 L1721.6 282.6 L1723.1 280.7 L1724.6 279.2 L1726.1 278.3 L1727.6 276.3 L1729.1 276.0 L1730.6 274.7 L1732.1 273.3 L1733.6 271.7 L1735.1 270.5 L1736.5 270.1 L1738.0 268.9 L1739.5 267.3 L1741.0 266.9 L1742.5 267.3 L1744.0 268.1 L1745.5 267.3 L1747.0 266.9 L1748.5 267.4 L1750.0 267.6 L1751.5 265.7 L1753.0 265.3 L1754.5 266.1 L1755.9 264.9 L1757.4 264.0 L1758.9 263.9 L1760.4 263.7 L1761.9 261.9 L1763.4 261.5 L1764.9 261.8 L1766.4 262.3 L1767.9 261.7 L1769.4 262.1 L1770.9 260.5 L1772.4 262.0 L1773.8 261.5 L1775.3 260.6 L1776.8 261.6 L1778.3 261.5 L1779.8 261.5 L1781.3 261.2 L1782.8 260.4 L1784.3 259.8 L1785.8 260.8 L1787.3 260.7 L1788.8 259.5 L1790.3 259.9 L1791.8 259.8 L1793.2 259.7 L1794.7 258.9 L1796.2 257.1 L1797.7 258.1 L1799.2 257.3 L1800.7 255.9 L1802.2 255.1 L1803.7 254.7 L1805.2 255.6 L1806.7 255.3 L1808.2 256.9 L1809.7 258.5 L1811.1 259.2 L1812.6 259.8 L1814.1 260.8 L1815.6 262.7 L1817.1 263.3 L1818.6 262.5 L1820.1 264.7 L1821.6 264.0 L1823.1 265.5 L1824.6 266.2 L1826.1 266.6 L1827.6 266.3 L1829.0 265.1 L1830.5 266.1 L1832.0 264.4 L1833.5 264.8 L1835.0 264.6 L1836.5 263.1 L1838.0 263.3 L1839.5 263.2 L1841.0 262.4 L1842.5 261.3 L1844.0 260.8 L1845.5 261.0 L1847.0 261.6 L1848.4 259.9 L1849.9 260.0 L1851.4 259.6 L1852.9 259.9 L1854.4 261.5 L1855.9 261.2 L1857.4 261.7 L1858.9 263.2 L1860.4 263.4 L1861.9 263.8 L1863.4 264.2 L1864.9 264.5 L1866.3 265.3 L1867.8 265.5 L1869.3 264.6 L1870.8 265.8 L1872.3 265.8 L1873.8 265.7 L1875.3 266.3" stroke="#f27a1d" stroke-width="5.0"/>
<path d="M1578.4 396.0 L1579.9 394.9 L1581.4 395.2 L1582.9 395.0 L1584.4 395.5 L1585.9 395.6 L1587.4 395.6 L1588.8 396.7 L1590.3 396.1 L1591.8 396.6 L1593.3 395.9 L1594.8 397.3 L1596.3 396.7 L1597.8 397.1 L1599.3 396.4 L1600.8 397.3 L1602.3 396.5 L1603.8 396.6 L1605.3 396.7 L1606.7 398.1 L1608.2 396.8 L1609.7 397.2 L1611.2 397.4 L1612.7 397.6 L1614.2 398.7 L1615.7 397.4 L1617.2 398.0 L1618.7 398.3 L1620.2 398.6 L1621.7 397.9 L1623.2 398.0 L1624.7 398.0 L1626.1 399.2 L1627.6 399.1 L1629.1 399.4 L1630.6 399.7 L1632.1 399.4 L1633.6 400.1 L1635.1 398.8 L1636.6 399.9 L1638.1 400.3 L1639.6 400.4 L1641.1 399.3 L1642.6 400.4 L1644.0 399.9 L1645.5 400.0 L1647.0 399.1 L1648.5 398.6 L1650.0 399.5 L1651.5 398.7 L1653.0 398.0 L1654.5 398.5 L1656.0 397.5 L1657.5 397.6 L1659.0 398.1 L1660.5 396.8 L1661.9 397.1 L1663.4 397.6 L1664.9 396.2 L1666.4 395.0 L1667.9 394.9 L1669.4 394.2 L1670.9 393.6 L1672.4 392.0 L1673.9 391.6 L1675.4 391.4 L1676.9 389.8 L1678.4 388.2 L1679.9 385.4 L1681.3 384.1 L1682.8 383.4 L1684.3 380.2 L1685.8 380.0 L1687.3 377.0 L1688.8 374.8 L1690.3 371.4 L1691.8 369.0 L1693.3 366.6 L1694.8 362.9 L1696.3 359.3 L1697.8 356.5 L1699.2 354.4 L1700.7 352.1 L1702.2 348.9 L1703.7 346.5 L1705.2 345.3 L1706.7 341.9 L1708.2 339.4 L1709.7 338.0 L1711.2 335.7 L1712.7 332.7 L1714.2 330.0 L1715.7 328.9 L1717.2 326.6 L1718.6 324.7 L1720.1 322.4 L1721.6 321.8 L1723.1 319.7 L1724.6 318.3 L1726.1 316.5 L1727.6 315.8 L1729.1 312.7 L1730.6 310.9 L1732.1 309.9 L1733.6 307.8 L1735.1 307.1 L1736.5 304.1 L1738.0 303.1 L1739.5 301.6 L1741.0 300.7 L1742.5 301.3 L1744.0 300.0 L1745.5 301.0 L1747.0 301.1 L1748.5 300.0 L1750.0 299.0 L1751.5 298.4 L1753.0 297.4 L1754.5 297.2 L1755.9 295.3 L1757.4 294.8 L1758.9 294.5 L1760.4 292.6 L1761.9 291.4 L1763.4 291.1 L1764.9 289.9 L1766.4 289.8 L1767.9 289.3 L1769.4 289.0 L1770.9 288.9 L1772.4 289.1 L1773.8 289.9 L1775.3 290.2 L1776.8 289.7 L1778.3 289.1 L1779.8 288.9 L1781.3 289.6 L1782.8 289.3 L1784.3 288.6 L1785.8 288.9 L1787.3 287.8 L1788.8 286.8 L1790.3 287.4 L1791.8 285.8 L1793.2 284.7 L1794.7 283.8 L1796.2 282.9 L1797.7 282.1 L1799.2 282.2 L1800.7 280.7 L1802.2 280.1 L1803.7 281.3 L1805.2 279.4 L1806.7 280.3 L1808.2 281.4 L1809.7 282.4 L1811.1 282.1 L1812.6 283.4 L1814.1 285.4 L1815.6 285.8 L1817.1 286.4 L1818.6 286.6 L1820.1 288.5 L1821.6 288.5 L1823.1 290.2 L1824.6 291.0 L1826.1 291.8 L1827.6 292.1 L1829.0 292.4 L1830.5 293.2 L1832.0 293.0 L1833.5 292.0 L1835.0 291.2 L1836.5 289.8 L1838.0 288.5 L1839.5 287.1 L1841.0 286.6 L1842.5 285.0 L1844.0 284.1 L1845.5 282.1 L1847.0 282.0 L1848.4 280.5 L1849.9 281.1 L1851.4 281.8 L1852.9 281.4 L1854.4 282.5 L1855.9 282.7 L1857.4 283.3 L1858.9 282.7 L1860.4 282.9 L1861.9 284.8 L1863.4 285.8 L1864.9 286.5 L1866.3 287.6 L1867.8 287.9 L1869.3 289.4 L1870.8 290.9 L1872.3 290.7 L1873.8 292.3 L1875.3 294.3" stroke="#ef5a17" stroke-width="5.0"/>
<path d="M1578.4 386.0 L1579.9 386.4 L1581.4 387.3 L1582.9 387.1 L1584.4 386.8 L1585.9 387.9 L1587.4 388.1 L1588.8 388.5 L1590.3 388.3 L1591.8 388.3 L1593.3 388.4 L1594.8 388.3 L1596.3 389.9 L1597.8 389.8 L1599.3 389.1 L1600.8 389.5 L1602.3 390.0 L1603.8 390.1 L1605.3 390.9 L1606.7 390.1 L1608.2 391.0 L1609.7 391.5 L1611.2 392.1 L1612.7 392.5 L1614.2 391.3 L1615.7 391.7 L1617.2 393.3 L1618.7 393.0 L1620.2 392.9 L1621.7 393.1 L1623.2 393.6 L1624.7 393.0 L1626.1 394.3 L1627.6 394.3 L1629.1 393.9 L1630.6 394.8 L1632.1 395.4 L1633.6 396.0 L1635.1 396.3 L1636.6 396.2 L1638.1 396.2 L1639.6 397.5 L1641.1 397.6 L1642.6 397.9 L1644.0 398.3 L1645.5 397.7 L1647.0 398.7 L1648.5 399.5 L1650.0 399.7 L1651.5 399.1 L1653.0 400.5 L1654.5 399.6 L1656.0 400.7 L1657.5 400.4 L1659.0 400.5 L1660.5 399.1 L1661.9 400.3 L1663.4 400.1 L1664.9 400.3 L1666.4 399.9 L1667.9 399.0 L1669.4 398.9 L1670.9 398.5 L1672.4 398.4 L1673.9 399.1 L1675.4 398.3 L1676.9 399.8 L1678.4 398.2 L1679.9 398.9 L1681.3 399.0 L1682.8 397.6 L1684.3 397.0 L1685.8 397.4 L1687.3 397.5 L1688.8 395.7 L1690.3 395.5 L1691.8 395.3 L1693.3 394.0 L1694.8 394.7 L1696.3 393.6 L1697.8 392.2 L1699.2 391.1 L1700.7 388.7 L1702.2 387.6 L1703.7 387.3 L1705.2 386.0 L1706.7 384.8 L1708.2 382.9 L1709.7 381.8 L1711.2 380.2 L1712.7 380.2 L1714.2 378.0 L1715.7 377.9 L1717.2 376.9 L1718.6 376.2 L1720.1 375.2 L1721.6 373.0 L1723.1 372.1 L1724.6 371.8 L1726.1 371.9 L1727.6 371.0 L1729.1 370.2 L1730.6 369.0 L1732.1 367.5 L1733.6 368.0 L1735.1 366.6 L1736.5 365.9 L1738.0 366.6 L1739.5 365.4 L1741.0 364.3 L1742.5 364.5 L1744.0 364.7 L1745.5 364.3 L1747.0 365.3 L1748.5 366.4 L1750.0 366.7 L1751.5 365.8 L1753.0 365.6 L1754.5 364.8 L1755.9 364.7 L1757.4 364.6 L1758.9 363.7 L1760.4 362.1 L1761.9 360.1 L1763.4 359.9 L1764.9 357.0 L1766.4 355.7 L1767.9 355.1 L1769.4 355.2 L1770.9 353.2 L1772.4 353.3 L1773.8 352.2 L1775.3 351.8 L1776.8 351.2 L1778.3 351.6 L1779.8 350.6 L1781.3 350.8 L1782.8 350.9 L1784.3 351.6 L1785.8 352.3 L1787.3 352.2 L1788.8 352.3 L1790.3 350.6 L1791.8 350.0 L1793.2 349.1 L1794.7 348.1 L1796.2 346.7 L1797.7 345.9 L1799.2 345.1 L1800.7 342.6 L1802.2 341.8 L1803.7 339.7 L1805.2 339.6 L1806.7 338.1 L1808.2 338.9 L1809.7 339.7 L1811.1 339.4 L1812.6 342.3 L1814.1 342.6 L1815.6 344.7 L1817.1 347.6 L1818.6 348.0 L1820.1 349.4 L1821.6 349.5 L1823.1 350.7 L1824.6 351.5 L1826.1 350.9 L1827.6 352.3 L1829.0 350.6 L1830.5 351.1 L1832.0 350.0 L1833.5 349.5 L1835.0 347.4 L1836.5 347.3 L1838.0 345.8 L1839.5 345.5 L1841.0 343.4 L1842.5 342.4 L1844.0 342.2 L1845.5 340.4 L1847.0 339.4 L1848.4 340.1 L1849.9 339.4 L1851.4 340.2 L1852.9 340.2 L1854.4 339.3 L1855.9 339.6 L1857.4 339.9 L1858.9 341.6 L1860.4 342.0 L1861.9 342.4 L1863.4 343.2 L1864.9 344.5 L1866.3 344.4 L1867.8 345.7 L1869.3 345.1 L1870.8 346.3 L1872.3 347.2 L1873.8 346.4 L1875.3 347.8" stroke="#e93c14" stroke-width="5.0"/>
<path d="M1578.4 396.8 L1579.9 398.5 L1581.4 396.1 L1582.9 397.3 L1584.4 396.8 L1585.9 398.5 L1587.4 397.1 L1588.8 397.9 L1590.3 398.2 L1591.8 396.8 L1593.3 398.9 L1594.8 397.7 L1596.3 398.8 L1597.8 396.8 L1599.3 396.7 L1600.8 399.0 L1602.3 397.9 L1603.8 397.9 L1605.3 397.3 L1606.7 397.3 L1608.2 398.3 L1609.7 396.8 L1611.2 398.8 L1612.7 399.0 L1614.2 397.2 L1615.7 399.1 L1617.2 398.9 L1618.7 398.1 L1620.2 398.6 L1621.7 399.1 L1623.2 397.1 L1624.7 398.4 L1626.1 397.6 L1627.6 399.1 L1629.1 397.4 L1630.6 399.3 L1632.1 397.5 L1633.6 398.3 L1635.1 397.4 L1636.6 398.0 L1638.1 398.5 L1639.6 398.8 L1641.1 398.0 L1642.6 399.2 L1644.0 400.1 L1645.5 398.0 L1647.0 398.4 L1648.5 398.8 L1650.0 398.6 L1651.5 400.1 L1653.0 399.5 L1654.5 398.6 L1656.0 398.3 L1657.5 398.5 L1659.0 400.6 L1660.5 399.2 L1661.9 399.6 L1663.4 400.1 L1664.9 400.8 L1666.4 400.9 L1667.9 400.0 L1669.4 400.0 L1670.9 400.6 L1672.4 400.3 L1673.9 399.7 L1675.4 399.1 L1676.9 399.6 L1678.4 400.7 L1679.9 398.7 L1681.3 400.1 L1682.8 398.5 L1684.3 398.4 L1685.8 400.6 L1687.3 399.4 L1688.8 398.3 L1690.3 399.9 L1691.8 399.4 L1693.3 400.0 L1694.8 400.7 L1696.3 400.2 L1697.8 400.4 L1699.2 399.9 L1700.7 399.0 L1702.2 399.1 L1703.7 398.1 L1705.2 398.7 L1706.7 399.6 L1708.2 398.0 L1709.7 398.8 L1711.2 398.9 L1712.7 397.9 L1714.2 398.1 L1715.7 398.6 L1717.2 397.5 L1718.6 398.0 L1720.1 395.8 L1721.6 397.4 L1723.1 395.1 L1724.6 397.1 L1726.1 396.9 L1727.6 395.1 L1729.1 395.9 L1730.6 395.2 L1732.1 396.7 L1733.6 395.4 L1735.1 396.6 L1736.5 397.2 L1738.0 397.2 L1739.5 397.7 L1741.0 399.1 L1742.5 399.3 L1744.0 401.4 L1745.5 401.3 L1747.0 400.4 L1748.5 398.9 L1750.0 400.7 L1751.5 400.1 L1753.0 401.7 L1754.5 400.6 L1755.9 399.4 L1757.4 400.2 L1758.9 399.6 L1760.4 401.9 L1761.9 401.4 L1763.4 401.5 L1764.9 399.8 L1766.4 401.8 L1767.9 399.6 L1769.4 401.5 L1770.9 399.9 L1772.4 400.9 L1773.8 401.4 L1775.3 399.8 L1776.8 401.3 L1778.3 400.6 L1779.8 402.3 L1781.3 400.3 L1782.8 399.9 L1784.3 402.3 L1785.8 400.7 L1787.3 402.0 L1788.8 402.4 L1790.3 401.8 L1791.8 401.1 L1793.2 400.3 L1794.7 400.3 L1796.2 400.3 L1797.7 401.4 L1799.2 401.3 L1800.7 402.6 L1802.2 401.1 L1803.7 401.5 L1805.2 402.0 L1806.7 400.5 L1808.2 402.2 L1809.7 402.4 L1811.1 402.3 L1812.6 402.3 L1814.1 401.0 L1815.6 400.4 L1817.1 402.1 L1818.6 401.1 L1820.1 400.8 L1821.6 400.8 L1823.1 401.1 L1824.6 400.7 L1826.1 402.1 L1827.6 401.9 L1829.0 400.9 L1830.5 401.3 L1832.0 399.9 L1833.5 401.2 L1835.0 399.6 L1836.5 401.1 L1838.0 401.4 L1839.5 400.3 L1841.0 400.5 L1842.5 400.6 L1844.0 399.3 L1845.5 400.7 L1847.0 399.4 L1848.4 398.8 L1849.9 399.6 L1851.4 399.3 L1852.9 398.0 L1854.4 398.7 L1855.9 399.7 L1857.4 399.8 L1858.9 399.6 L1860.4 398.7 L1861.9 399.2 L1863.4 397.6 L1864.9 398.3 L1866.3 399.0 L1867.8 399.0 L1869.3 398.5 L1870.8 401.0 L1872.3 401.9 L1873.8 402.1 L1875.3 402.7" stroke="#a31010" stroke-width="4.6"/>
<path d="M1578.4 407.8 L1579.9 408.4 L1581.4 409.1 L1582.9 409.8 L1584.4 410.1 L1585.9 409.9 L1587.4 408.0 L1588.8 408.5 L1590.3 409.8 L1591.8 408.6 L1593.3 410.1 L1594.8 408.9 L1596.3 409.4 L1597.8 410.0 L1599.3 408.3 L1600.8 408.3 L1602.3 408.9 L1603.8 409.8 L1605.3 408.5 L1606.7 409.1 L1608.2 408.5 L1609.7 410.0 L1611.2 407.8 L1612.7 410.2 L1614.2 409.7 L1615.7 409.2 L1617.2 409.7 L1618.7 410.0 L1620.2 408.4 L1621.7 407.6 L1623.2 409.4 L1624.7 409.5 L1626.1 408.5 L1627.6 409.7 L1629.1 409.2 L1630.6 408.4 L1632.1 409.1 L1633.6 409.8 L1635.1 410.1 L1636.6 408.8 L1638.1 407.6 L1639.6 407.7 L1641.1 409.9 L1642.6 408.8 L1644.0 408.8 L1645.5 409.5 L1647.0 408.2 L1648.5 408.6 L1650.0 407.7 L1651.5 409.1 L1653.0 407.3 L1654.5 407.6 L1656.0 408.4 L1657.5 409.3 L1659.0 408.3 L1660.5 409.2 L1661.9 407.7 L1663.4 407.6 L1664.9 407.9 L1666.4 406.8 L1667.9 409.2 L1669.4 407.4 L1670.9 407.1 L1672.4 408.9 L1673.9 408.3 L1675.4 409.0 L1676.9 407.5 L1678.4 407.1 L1679.9 408.1 L1681.3 407.1 L1682.8 407.9 L1684.3 407.0 L1685.8 408.1 L1687.3 406.2 L1688.8 407.6 L1690.3 408.7 L1691.8 408.4 L1693.3 406.6 L1694.8 406.2 L1696.3 406.8 L1697.8 407.9 L1699.2 405.8 L1700.7 406.0 L1702.2 407.4 L1703.7 406.4 L1705.2 405.4 L1706.7 406.9 L1708.2 406.6 L1709.7 405.5 L1711.2 403.9 L1712.7 403.3 L1714.2 404.9 L1715.7 403.1 L1717.2 403.2 L1718.6 402.6 L1720.1 402.9 L1721.6 401.2 L1723.1 401.4 L1724.6 399.8 L1726.1 400.1 L1727.6 400.4 L1729.1 398.8 L1730.6 398.5 L1732.1 398.9 L1733.6 399.3 L1735.1 399.6 L1736.5 400.2 L1738.0 401.9 L1739.5 402.5 L1741.0 402.6 L1742.5 403.4 L1744.0 404.2 L1745.5 404.0 L1747.0 405.5 L1748.5 404.8 L1750.0 405.6 L1751.5 404.4 L1753.0 404.7 L1754.5 404.7 L1755.9 405.5 L1757.4 406.4 L1758.9 404.7 L1760.4 406.0 L1761.9 406.5 L1763.4 406.9 L1764.9 406.7 L1766.4 406.1 L1767.9 405.9 L1769.4 407.0 L1770.9 406.4 L1772.4 407.9 L1773.8 407.2 L1775.3 407.4 L1776.8 407.5 L1778.3 407.4 L1779.8 406.3 L1781.3 406.3 L1782.8 407.7 L1784.3 407.6 L1785.8 406.1 L1787.3 406.4 L1788.8 406.3 L1790.3 406.4 L1791.8 406.2 L1793.2 407.3 L1794.7 407.8 L1796.2 407.0 L1797.7 407.9 L1799.2 405.3 L1800.7 406.5 L1802.2 406.1 L1803.7 405.2 L1805.2 405.6 L1806.7 407.2 L1808.2 406.8 L1809.7 407.4 L1811.1 405.5 L1812.6 405.7 L1814.1 406.3 L1815.6 406.6 L1817.1 406.8 L1818.6 406.1 L1820.1 405.5 L1821.6 404.9 L1823.1 405.0 L1824.6 404.8 L1826.1 405.9 L1827.6 405.9 L1829.0 406.1 L1830.5 404.3 L1832.0 406.3 L1833.5 406.3 L1835.0 405.9 L1836.5 404.1 L1838.0 404.2 L1839.5 405.6 L1841.0 404.1 L1842.5 403.9 L1844.0 405.1 L1845.5 405.6 L1847.0 404.0 L1848.4 405.0 L1849.9 405.6 L1851.4 403.5 L1852.9 404.7 L1854.4 405.0 L1855.9 404.6 L1857.4 405.8 L1858.9 406.6 L1860.4 405.9 L1861.9 406.1 L1863.4 407.3 L1864.9 406.6 L1866.3 405.8 L1867.8 407.5 L1869.3 407.6 L1870.8 409.0 L1872.3 411.5 L1873.8 413.3 L1875.3 412.9" stroke="#8c0a0a" stroke-width="5.2"/>
</g>
<path d="M1579.4 385.3 L1596.4 386.6 L1612.4 385.7 L1624.4 387.5" stroke="#b81a10" stroke-width="4" stroke-linecap="round" fill="none"/>
<circle cx="1580.4" cy="330.1" r="2.3" fill="#0000c7"/>
<circle cx="1583.1" cy="331.9" r="2.3" fill="#0000c7"/>
<circle cx="1584.6" cy="335.1" r="2.3" fill="#0000c7"/>
<circle cx="1586.8" cy="340.4" r="2.3" fill="#0000c7"/>
<circle cx="1590.0" cy="333.3" r="2.3" fill="#0000c7"/>
<circle cx="1593.1" cy="330.7" r="2.3" fill="#0000c7"/>
<circle cx="1596.9" cy="336.8" r="2.3" fill="#0000c7"/>
<circle cx="1598.1" cy="338.6" r="2.3" fill="#0000c7"/>
<circle cx="1601.6" cy="329.3" r="2.3" fill="#0000c7"/>
<circle cx="1604.0" cy="327.7" r="2.3" fill="#0000c7"/>
<circle cx="1605.8" cy="324.3" r="2.3" fill="#0000c7"/>
<circle cx="1579.1" cy="326.5" r="2.3" fill="#000fff"/>
<circle cx="1581.4" cy="335.8" r="2.3" fill="#000fff"/>
<circle cx="1584.6" cy="338.5" r="2.3" fill="#000fff"/>
<circle cx="1587.1" cy="334.9" r="2.3" fill="#000fff"/>
<circle cx="1590.7" cy="334.7" r="2.3" fill="#000fff"/>
<circle cx="1593.5" cy="336.3" r="2.3" fill="#000fff"/>
<circle cx="1595.8" cy="334.7" r="2.3" fill="#000fff"/>
<circle cx="1599.2" cy="339.3" r="2.3" fill="#000fff"/>
<circle cx="1600.7" cy="320.1" r="2.3" fill="#000fff"/>
<circle cx="1603.8" cy="312.9" r="2.3" fill="#000fff"/>
<circle cx="1607.9" cy="324.1" r="2.3" fill="#000fff"/>
<circle cx="1579.9" cy="316.9" r="2.3" fill="#004cff"/>
<circle cx="1582.4" cy="338.5" r="2.3" fill="#004cff"/>
<circle cx="1584.9" cy="346.0" r="2.3" fill="#004cff"/>
<circle cx="1587.3" cy="341.5" r="2.3" fill="#004cff"/>
<circle cx="1590.4" cy="338.6" r="2.3" fill="#004cff"/>
<circle cx="1593.1" cy="339.5" r="2.3" fill="#004cff"/>
<circle cx="1596.5" cy="342.3" r="2.3" fill="#004cff"/>
<circle cx="1598.4" cy="344.3" r="2.3" fill="#004cff"/>
<circle cx="1601.9" cy="343.3" r="2.3" fill="#004cff"/>
<circle cx="1605.8" cy="321.5" r="2.3" fill="#004cff"/>
<circle cx="1606.6" cy="320.5" r="2.3" fill="#004cff"/>
<circle cx="1580.1" cy="326.3" r="2.3" fill="#0080ff"/>
<circle cx="1582.6" cy="339.2" r="2.3" fill="#0080ff"/>
<circle cx="1585.2" cy="346.8" r="2.3" fill="#0080ff"/>
<circle cx="1588.2" cy="339.6" r="2.3" fill="#0080ff"/>
<circle cx="1591.7" cy="341.6" r="2.3" fill="#0080ff"/>
<circle cx="1594.4" cy="343.0" r="2.3" fill="#0080ff"/>
<circle cx="1596.2" cy="345.6" r="2.3" fill="#0080ff"/>
<circle cx="1598.5" cy="347.4" r="2.3" fill="#0080ff"/>
<circle cx="1601.7" cy="330.0" r="2.3" fill="#0080ff"/>
<circle cx="1604.7" cy="333.9" r="2.3" fill="#0080ff"/>
<circle cx="1609.0" cy="323.2" r="2.3" fill="#0080ff"/>
<circle cx="1578.8" cy="323.6" r="2.3" fill="#009eff"/>
<circle cx="1583.3" cy="329.0" r="2.3" fill="#009eff"/>
<circle cx="1585.2" cy="318.0" r="2.3" fill="#009eff"/>
<circle cx="1589.5" cy="344.6" r="2.3" fill="#009eff"/>
<circle cx="1590.5" cy="341.9" r="2.3" fill="#009eff"/>
<circle cx="1595.1" cy="342.6" r="2.3" fill="#009eff"/>
<circle cx="1597.5" cy="327.3" r="2.3" fill="#009eff"/>
<circle cx="1600.3" cy="350.7" r="2.3" fill="#009eff"/>
<circle cx="1602.0" cy="325.8" r="2.3" fill="#009eff"/>
<circle cx="1606.3" cy="342.8" r="2.3" fill="#009eff"/>
<circle cx="1608.2" cy="326.0" r="2.3" fill="#009eff"/>
<circle cx="1580.8" cy="332.7" r="2.3" fill="#00b3ff"/>
<circle cx="1581.8" cy="355.0" r="2.3" fill="#00b3ff"/>
<circle cx="1586.3" cy="348.6" r="2.3" fill="#00b3ff"/>
<circle cx="1588.8" cy="341.6" r="2.3" fill="#00b3ff"/>
<circle cx="1591.9" cy="353.2" r="2.3" fill="#00b3ff"/>
<circle cx="1594.0" cy="355.1" r="2.3" fill="#00b3ff"/>
<circle cx="1596.6" cy="347.7" r="2.3" fill="#00b3ff"/>
<circle cx="1599.6" cy="345.0" r="2.3" fill="#00b3ff"/>
<circle cx="1603.7" cy="330.6" r="2.3" fill="#00b3ff"/>
<circle cx="1605.6" cy="341.7" r="2.3" fill="#00b3ff"/>
<circle cx="1609.1" cy="338.0" r="2.3" fill="#00b3ff"/>
<circle cx="1579.2" cy="349.7" r="2.3" fill="#00c7ff"/>
<circle cx="1582.1" cy="356.9" r="2.3" fill="#00c7ff"/>
<circle cx="1586.4" cy="351.5" r="2.3" fill="#00c7ff"/>
<circle cx="1588.7" cy="355.9" r="2.3" fill="#00c7ff"/>
<circle cx="1591.2" cy="351.4" r="2.3" fill="#00c7ff"/>
<circle cx="1595.2" cy="353.3" r="2.3" fill="#00c7ff"/>
<circle cx="1597.4" cy="356.9" r="2.3" fill="#00c7ff"/>
<circle cx="1599.9" cy="349.2" r="2.3" fill="#00c7ff"/>
<circle cx="1602.9" cy="355.6" r="2.3" fill="#00c7ff"/>
<circle cx="1605.3" cy="354.1" r="2.3" fill="#00c7ff"/>
<circle cx="1608.5" cy="345.8" r="2.3" fill="#00c7ff"/>
<circle cx="1578.7" cy="353.5" r="2.3" fill="#00dbff"/>
<circle cx="1583.4" cy="336.5" r="2.3" fill="#00dbff"/>
<circle cx="1586.3" cy="352.1" r="2.3" fill="#00dbff"/>
<circle cx="1587.7" cy="354.5" r="2.3" fill="#00dbff"/>
<circle cx="1591.6" cy="351.2" r="2.3" fill="#00dbff"/>
<circle cx="1595.7" cy="344.4" r="2.3" fill="#00dbff"/>
<circle cx="1597.9" cy="338.0" r="2.3" fill="#00dbff"/>
<circle cx="1601.0" cy="359.4" r="2.3" fill="#00dbff"/>
<circle cx="1603.4" cy="360.5" r="2.3" fill="#00dbff"/>
<circle cx="1606.6" cy="350.8" r="2.3" fill="#00dbff"/>
<circle cx="1608.5" cy="343.5" r="2.3" fill="#00dbff"/>
<circle cx="1580.2" cy="359.3" r="2.3" fill="#00f0ff"/>
<circle cx="1583.6" cy="359.0" r="2.3" fill="#00f0ff"/>
<circle cx="1585.0" cy="340.1" r="2.3" fill="#00f0ff"/>
<circle cx="1589.0" cy="362.6" r="2.3" fill="#00f0ff"/>
<circle cx="1591.3" cy="359.7" r="2.3" fill="#00f0ff"/>
<circle cx="1594.3" cy="355.2" r="2.3" fill="#00f0ff"/>
<circle cx="1597.0" cy="358.9" r="2.3" fill="#00f0ff"/>
<circle cx="1601.7" cy="362.9" r="2.3" fill="#00f0ff"/>
<circle cx="1602.7" cy="354.6" r="2.3" fill="#00f0ff"/>
<circle cx="1606.1" cy="355.0" r="2.3" fill="#00f0ff"/>
<circle cx="1609.1" cy="352.3" r="2.3" fill="#00f0ff"/>
<circle cx="1579.8" cy="350.2" r="2.3" fill="#05fffa"/>
<circle cx="1582.0" cy="363.9" r="2.3" fill="#05fffa"/>
<circle cx="1585.4" cy="345.8" r="2.3" fill="#05fffa"/>
<circle cx="1589.8" cy="360.6" r="2.3" fill="#05fffa"/>
<circle cx="1592.3" cy="364.9" r="2.3" fill="#05fffa"/>
<circle cx="1594.9" cy="361.2" r="2.3" fill="#05fffa"/>
<circle cx="1597.9" cy="363.8" r="2.3" fill="#05fffa"/>
<circle cx="1600.4" cy="361.6" r="2.3" fill="#05fffa"/>
<circle cx="1604.3" cy="366.8" r="2.3" fill="#05fffa"/>
<circle cx="1608.0" cy="357.7" r="2.3" fill="#05fffa"/>
<circle cx="1610.1" cy="353.4" r="2.3" fill="#05fffa"/>
<circle cx="1579.8" cy="363.4" r="2.3" fill="#1affe5"/>
<circle cx="1581.9" cy="360.1" r="2.3" fill="#1affe5"/>
<circle cx="1585.6" cy="360.4" r="2.3" fill="#1affe5"/>
<circle cx="1588.6" cy="363.6" r="2.3" fill="#1affe5"/>
<circle cx="1592.1" cy="359.9" r="2.3" fill="#1affe5"/>
<circle cx="1594.9" cy="362.3" r="2.3" fill="#1affe5"/>
<circle cx="1597.8" cy="360.7" r="2.3" fill="#1affe5"/>
<circle cx="1602.0" cy="367.4" r="2.3" fill="#1affe5"/>
<circle cx="1604.0" cy="368.0" r="2.3" fill="#1affe5"/>
<circle cx="1606.9" cy="341.4" r="2.3" fill="#1affe5"/>
<circle cx="1610.2" cy="344.5" r="2.3" fill="#1affe5"/>
<circle cx="1580.6" cy="371.1" r="2.3" fill="#38ffc7"/>
<circle cx="1583.3" cy="368.0" r="2.3" fill="#38ffc7"/>
<circle cx="1586.9" cy="371.7" r="2.3" fill="#38ffc7"/>
<circle cx="1588.9" cy="356.8" r="2.3" fill="#38ffc7"/>
<circle cx="1591.6" cy="365.4" r="2.3" fill="#38ffc7"/>
<circle cx="1594.4" cy="369.5" r="2.3" fill="#38ffc7"/>
<circle cx="1598.1" cy="362.0" r="2.3" fill="#38ffc7"/>
<circle cx="1602.8" cy="343.2" r="2.3" fill="#38ffc7"/>
<circle cx="1605.8" cy="347.7" r="2.3" fill="#38ffc7"/>
<circle cx="1607.6" cy="366.2" r="2.3" fill="#38ffc7"/>
<circle cx="1609.6" cy="354.7" r="2.3" fill="#38ffc7"/>
<circle cx="1579.0" cy="366.0" r="2.3" fill="#57ffa8"/>
<circle cx="1582.5" cy="373.8" r="2.3" fill="#57ffa8"/>
<circle cx="1587.1" cy="360.4" r="2.3" fill="#57ffa8"/>
<circle cx="1588.4" cy="367.3" r="2.3" fill="#57ffa8"/>
<circle cx="1592.6" cy="372.8" r="2.3" fill="#57ffa8"/>
<circle cx="1595.3" cy="374.3" r="2.3" fill="#57ffa8"/>
<circle cx="1598.8" cy="368.5" r="2.3" fill="#57ffa8"/>
<circle cx="1603.0" cy="375.7" r="2.3" fill="#57ffa8"/>
<circle cx="1604.1" cy="370.5" r="2.3" fill="#57ffa8"/>
<circle cx="1608.8" cy="369.2" r="2.3" fill="#57ffa8"/>
<circle cx="1612.0" cy="356.6" r="2.3" fill="#57ffa8"/>
<circle cx="1579.9" cy="371.8" r="2.3" fill="#75ff8a"/>
<circle cx="1582.8" cy="368.2" r="2.3" fill="#75ff8a"/>
<circle cx="1587.0" cy="366.6" r="2.3" fill="#75ff8a"/>
<circle cx="1588.4" cy="373.5" r="2.3" fill="#75ff8a"/>
<circle cx="1591.8" cy="368.8" r="2.3" fill="#75ff8a"/>
<circle cx="1594.9" cy="376.9" r="2.3" fill="#75ff8a"/>
<circle cx="1600.0" cy="354.3" r="2.3" fill="#75ff8a"/>
<circle cx="1601.5" cy="368.3" r="2.3" fill="#75ff8a"/>
<circle cx="1605.6" cy="375.1" r="2.3" fill="#75ff8a"/>
<circle cx="1608.3" cy="370.7" r="2.3" fill="#75ff8a"/>
<circle cx="1610.6" cy="341.8" r="2.3" fill="#75ff8a"/>
<circle cx="1580.8" cy="379.2" r="2.3" fill="#94ff6b"/>
<circle cx="1584.0" cy="376.8" r="2.3" fill="#94ff6b"/>
<circle cx="1587.2" cy="372.2" r="2.3" fill="#94ff6b"/>
<circle cx="1588.4" cy="377.7" r="2.3" fill="#94ff6b"/>
<circle cx="1593.6" cy="380.4" r="2.3" fill="#94ff6b"/>
<circle cx="1595.3" cy="380.7" r="2.3" fill="#94ff6b"/>
<circle cx="1600.0" cy="376.2" r="2.3" fill="#94ff6b"/>
<circle cx="1601.3" cy="377.5" r="2.3" fill="#94ff6b"/>
<circle cx="1606.1" cy="377.0" r="2.3" fill="#94ff6b"/>
<circle cx="1609.5" cy="346.5" r="2.3" fill="#94ff6b"/>
<circle cx="1611.6" cy="366.3" r="2.3" fill="#94ff6b"/>
<circle cx="1710.5" cy="394.0" r="2.4" fill="#a01414"/>
<circle cx="1714.5" cy="394.0" r="2.4" fill="#a01414"/>
<circle cx="1727.4" cy="389.0" r="2.4" fill="#a01414"/>
<circle cx="1739.4" cy="390.6" r="2.4" fill="#a01414"/>
<circle cx="1743.3" cy="393.4" r="2.4" fill="#a01414"/>
<circle cx="1753.3" cy="395.9" r="2.4" fill="#a01414"/>
<circle cx="1773.1" cy="394.0" r="2.4" fill="#a01414"/>
<circle cx="1783.1" cy="394.5" r="2.4" fill="#a01414"/>
<circle cx="1787.1" cy="394.5" r="2.4" fill="#a01414"/>
<circle cx="1791.0" cy="394.0" r="2.4" fill="#a01414"/>
<circle cx="1790.0" cy="382.0" r="2.4" fill="#a01414"/>
<circle cx="1800.0" cy="393.4" r="2.4" fill="#a01414"/>
<circle cx="1804.9" cy="394.9" r="2.4" fill="#a01414"/>
<circle cx="1822.8" cy="387.0" r="2.4" fill="#a01414"/>
<circle cx="1821.8" cy="398.9" r="2.4" fill="#a01414"/>
<circle cx="1844.7" cy="399.5" r="2.4" fill="#a01414"/>
<circle cx="1848.7" cy="399.5" r="2.4" fill="#a01414"/>
<circle cx="1874.5" cy="402.9" r="2.4" fill="#a01414"/>
<circle cx="1669.8" cy="394.9" r="2.4" fill="#a01414"/>
<circle cx="1675.8" cy="395.9" r="2.4" fill="#a01414"/>
<circle cx="1680.7" cy="396.5" r="2.4" fill="#a01414"/>
<circle cx="1697.6" cy="394.9" r="2.4" fill="#a01414"/>
<circle cx="1642.0" cy="396.5" r="2.4" fill="#a01414"/>
<circle cx="1647.9" cy="396.9" r="2.4" fill="#a01414"/>
<circle cx="1653.9" cy="395.9" r="2.4" fill="#a01414"/>
<circle cx="1659.9" cy="396.9" r="2.4" fill="#a01414"/>
<defs><linearGradient id="jet" x1="0" y1="1" x2="0" y2="0">
<stop offset="0.00" stop-color="#800000"/>
<stop offset="0.05" stop-color="#b30000"/>
<stop offset="0.10" stop-color="#e60000"/>
<stop offset="0.15" stop-color="#ff1a00"/>
<stop offset="0.20" stop-color="#ff4d00"/>
<stop offset="0.25" stop-color="#ff8000"/>
<stop offset="0.30" stop-color="#ffb300"/>
<stop offset="0.35" stop-color="#ffe500"/>
<stop offset="0.40" stop-color="#e5ff1a"/>
<stop offset="0.45" stop-color="#b3ff4d"/>
<stop offset="0.50" stop-color="#80ff80"/>
<stop offset="0.55" stop-color="#4cffb3"/>
<stop offset="0.60" stop-color="#1affe5"/>
<stop offset="0.65" stop-color="#00e5ff"/>
<stop offset="0.70" stop-color="#00b3ff"/>
<stop offset="0.75" stop-color="#0080ff"/>
<stop offset="0.80" stop-color="#004cff"/>
<stop offset="0.85" stop-color="#001aff"/>
<stop offset="0.90" stop-color="#0000e5"/>
<stop offset="0.95" stop-color="#0000b3"/>
<stop offset="1.00" stop-color="#000080"/>
</linearGradient></defs>
<rect x="1893.8" y="105.7" width="23" height="316.6" fill="url(#jet)"/>
<text x="1569.5" y="436.1" font-size="31" fill="#262626" text-anchor="end">0</text>
<text x="1569.5" y="343.9" font-size="31" fill="#262626" text-anchor="end">0.2</text>
<text x="1569.5" y="254.7" font-size="31" fill="#262626" text-anchor="end">0.4</text>
<text x="1569.5" y="165.5" font-size="31" fill="#262626" text-anchor="end">0.6</text>
<text x="1578.4" y="458.5" font-size="31" fill="#262626" text-anchor="middle">0</text>
<text x="1726.8" y="458.5" font-size="31" fill="#262626" text-anchor="middle">1</text>
<text x="1875.3" y="458.5" font-size="31" fill="#262626" text-anchor="middle">2</text>
<text transform="translate(1512.7 367.5) rotate(-90)" font-size="34" fill="#262626" textLength="205.7" lengthAdjust="spacingAndGlyphs">H value (a.u.)</text>
<text x="1921.8" y="116.5" font-size="31" fill="#262626" textLength="54.0" lengthAdjust="spacingAndGlyphs">100</text>
<text x="1921.5" y="437.0" font-size="31" fill="#262626">0</text>
<text transform="translate(1950.5 323.4) rotate(-90)" font-size="29.5" fill="#262626" textLength="121.4" lengthAdjust="spacingAndGlyphs">P (mbar)</text>
<text x="1393.2" y="508.3" font-size="41.5" class="dj" textLength="62.0" lengthAdjust="spacingAndGlyphs">(g)</text>
<rect x="1497.2" y="523.6" width="484.3" height="395.8" fill="#fff" stroke="#6a6a6a" stroke-width="1"/>
<path d="M1497.2 919.4 v-4 M1497.2 523.6 v4 M1658.6 919.4 v-4 M1658.6 523.6 v4 M1820.1 919.4 v-4 M1820.1 523.6 v4 M1981.5 919.4 v-4 M1981.5 523.6 v4 M1497.2 919.6 h4 M1981.5 919.6 h-4 M1497.2 820.5 h4 M1981.5 820.5 h-4 M1497.2 721.4 h4 M1981.5 721.4 h-4 M1497.2 622.3 h4 M1981.5 622.3 h-4 M1497.2 523.2 h4 M1981.5 523.2 h-4" stroke="#555" stroke-width="1" fill="none"/>
<path d="M1497.2 893.6 L1513.3 905.1 L1529.5 905.1 L1545.6 903.5 L1561.8 890.4 L1577.9 852.6 L1594.1 801.8 L1610.2 769.0 L1626.3 744.4 L1642.5 718.1 L1658.6 695.1 L1674.8 673.8 L1690.9 654.1 L1707.1 637.7 L1723.2 623.2 L1739.3 615.6 L1755.5 608.4 L1771.6 602.8 L1787.8 598.6 L1803.9 594.6 L1820.1 592.7 L1852.4 587.1 L1884.6 579.9 L1916.9 576.3 L1949.2 576.3" stroke="#1f77c9" stroke-width="1.9" fill="none" stroke-linejoin="round"/>
<path d="M1497.2 889.6v8.0M1494.6 889.6h5.2M1494.6 897.6h5.2M1513.3 901.1v8.0M1510.7 901.1h5.2M1510.7 909.1h5.2M1529.5 901.1v8.0M1526.9 901.1h5.2M1526.9 909.1h5.2M1545.6 899.5v8.0M1543.0 899.5h5.2M1543.0 907.5h5.2M1561.8 886.4v8.0M1559.2 886.4h5.2M1559.2 894.4h5.2M1577.9 848.6v8.0M1575.3 848.6h5.2M1575.3 856.6h5.2M1594.1 797.8v8.0M1591.5 797.8h5.2M1591.5 805.8h5.2M1610.2 765.0v8.0M1607.6 765.0h5.2M1607.6 773.0h5.2M1626.3 740.4v8.0M1623.7 740.4h5.2M1623.7 748.4h5.2M1642.5 714.1v8.0M1639.9 714.1h5.2M1639.9 722.1h5.2M1658.6 691.1v8.0M1656.0 691.1h5.2M1656.0 699.1h5.2M1674.8 669.8v8.0M1672.2 669.8h5.2M1672.2 677.8h5.2M1690.9 650.1v8.0M1688.3 650.1h5.2M1688.3 658.1h5.2M1707.1 633.7v8.0M1704.5 633.7h5.2M1704.5 641.7h5.2M1723.2 619.2v8.0M1720.6 619.2h5.2M1720.6 627.2h5.2M1739.3 611.6v8.0M1736.8 611.6h5.2M1736.8 619.6h5.2M1755.5 604.4v8.0M1752.9 604.4h5.2M1752.9 612.4h5.2M1771.6 598.8v8.0M1769.0 598.8h5.2M1769.0 606.8h5.2M1787.8 594.6v8.0M1785.2 594.6h5.2M1785.2 602.6h5.2M1803.9 590.6v8.0M1801.3 590.6h5.2M1801.3 598.6h5.2M1820.1 588.7v8.0M1817.5 588.7h5.2M1817.5 596.7h5.2M1852.4 583.1v8.0M1849.8 583.1h5.2M1849.8 591.1h5.2M1884.6 575.9v8.0M1882.0 575.9h5.2M1882.0 583.9h5.2M1916.9 572.3v8.0M1914.3 572.3h5.2M1914.3 580.3h5.2M1949.2 572.3v8.0M1946.6 572.3h5.2M1946.6 580.3h5.2" stroke="#1f77c9" stroke-width="1.5" fill="none"/>
<path d="M1497.2 887.1 L1513.3 889.7 L1529.5 891.0 L1545.6 889.7 L1561.8 882.2 L1577.9 852.6 L1594.1 819.8 L1610.2 790.3 L1626.3 760.8 L1642.5 734.5 L1658.6 714.8 L1674.8 696.8 L1690.9 683.7 L1707.1 668.9 L1723.2 656.0 L1739.3 643.9 L1755.5 634.7 L1771.6 627.5 L1787.8 621.5 L1803.9 617.6 L1820.1 614.3 L1852.4 598.6 L1884.6 596.3 L1916.9 596.9 L1949.2 596.0" stroke="#e0822e" stroke-width="1.9" fill="none" stroke-linejoin="round"/>
<path d="M1497.2 881.9v10.4M1494.6 881.9h5.2M1494.6 892.3h5.2M1513.3 884.5v10.4M1510.7 884.5h5.2M1510.7 894.9h5.2M1529.5 885.8v10.4M1526.9 885.8h5.2M1526.9 896.2h5.2M1545.6 884.5v10.4M1543.0 884.5h5.2M1543.0 894.9h5.2M1561.8 877.0v10.4M1559.2 877.0h5.2M1559.2 887.4h5.2M1577.9 847.4v10.4M1575.3 847.4h5.2M1575.3 857.8h5.2M1594.1 814.6v10.4M1591.5 814.6h5.2M1591.5 825.0h5.2M1610.2 785.1v10.4M1607.6 785.1h5.2M1607.6 795.5h5.2M1626.3 755.6v10.4M1623.7 755.6h5.2M1623.7 766.0h5.2M1642.5 729.3v10.4M1639.9 729.3h5.2M1639.9 739.7h5.2M1658.6 709.6v10.4M1656.0 709.6h5.2M1656.0 720.0h5.2M1674.8 691.6v10.4M1672.2 691.6h5.2M1672.2 702.0h5.2M1690.9 678.5v10.4M1688.3 678.5h5.2M1688.3 688.9h5.2M1707.1 663.7v10.4M1704.5 663.7h5.2M1704.5 674.1h5.2M1723.2 650.8v10.4M1720.6 650.8h5.2M1720.6 661.2h5.2M1739.3 638.7v10.4M1736.8 638.7h5.2M1736.8 649.1h5.2M1755.5 629.5v10.4M1752.9 629.5h5.2M1752.9 639.9h5.2M1771.6 622.3v10.4M1769.0 622.3h5.2M1769.0 632.7h5.2M1787.8 616.3v10.4M1785.2 616.3h5.2M1785.2 626.7h5.2M1803.9 612.4v10.4M1801.3 612.4h5.2M1801.3 622.8h5.2M1820.1 609.1v10.4M1817.5 609.1h5.2M1817.5 619.5h5.2M1852.4 593.4v10.4M1849.8 593.4h5.2M1849.8 603.8h5.2M1884.6 591.1v10.4M1882.0 591.1h5.2M1882.0 601.5h5.2M1916.9 591.7v10.4M1914.3 591.7h5.2M1914.3 602.1h5.2M1949.2 590.8v10.4M1946.6 590.8h5.2M1946.6 601.2h5.2" stroke="#e0822e" stroke-width="1.5" fill="none"/>
<path d="M1497.2 892.0 L1513.3 893.0 L1529.5 893.6 L1545.6 893.0 L1561.8 877.2 L1577.9 832.9 L1594.1 793.6 L1610.2 757.5 L1626.3 732.9 L1642.5 709.9 L1658.6 691.9 L1674.8 672.2 L1690.9 654.1 L1707.1 639.4 L1723.2 632.0 L1739.3 624.8 L1755.5 615.6 L1771.6 610.1 L1787.8 606.8 L1803.9 605.1 L1820.1 603.5 L1852.4 600.2 L1884.6 599.6 L1916.9 599.6 L1949.2 603.5" stroke="#2eaa2e" stroke-width="1.9" fill="none" stroke-linejoin="round"/>
<path d="M1497.2 889.8v4.4M1494.6 889.8h5.2M1494.6 894.2h5.2M1513.3 890.8v4.4M1510.7 890.8h5.2M1510.7 895.2h5.2M1529.5 891.4v4.4M1526.9 891.4h5.2M1526.9 895.8h5.2M1545.6 890.8v4.4M1543.0 890.8h5.2M1543.0 895.2h5.2M1561.8 875.0v4.4M1559.2 875.0h5.2M1559.2 879.4h5.2M1577.9 830.7v4.4M1575.3 830.7h5.2M1575.3 835.1h5.2M1594.1 791.4v4.4M1591.5 791.4h5.2M1591.5 795.8h5.2M1610.2 755.3v4.4M1607.6 755.3h5.2M1607.6 759.7h5.2M1626.3 730.7v4.4M1623.7 730.7h5.2M1623.7 735.1h5.2M1642.5 707.7v4.4M1639.9 707.7h5.2M1639.9 712.1h5.2M1658.6 689.7v4.4M1656.0 689.7h5.2M1656.0 694.1h5.2M1674.8 670.0v4.4M1672.2 670.0h5.2M1672.2 674.4h5.2M1690.9 651.9v4.4M1688.3 651.9h5.2M1688.3 656.3h5.2M1707.1 637.2v4.4M1704.5 637.2h5.2M1704.5 641.6h5.2M1723.2 629.8v4.4M1720.6 629.8h5.2M1720.6 634.2h5.2M1739.3 622.6v4.4M1736.8 622.6h5.2M1736.8 627.0h5.2M1755.5 613.4v4.4M1752.9 613.4h5.2M1752.9 617.8h5.2M1771.6 607.9v4.4M1769.0 607.9h5.2M1769.0 612.3h5.2M1787.8 604.6v4.4M1785.2 604.6h5.2M1785.2 609.0h5.2M1803.9 602.9v4.4M1801.3 602.9h5.2M1801.3 607.3h5.2M1820.1 601.3v4.4M1817.5 601.3h5.2M1817.5 605.7h5.2M1852.4 598.0v4.4M1849.8 598.0h5.2M1849.8 602.4h5.2M1884.6 597.4v4.4M1882.0 597.4h5.2M1882.0 601.8h5.2M1916.9 597.4v4.4M1914.3 597.4h5.2M1914.3 601.8h5.2M1949.2 601.3v4.4M1946.6 601.3h5.2M1946.6 605.7h5.2" stroke="#2eaa2e" stroke-width="1.5" fill="none"/>
<path d="M1497.2 900.2 L1513.3 901.2 L1529.5 901.8 L1545.6 900.2 L1561.8 888.7 L1577.9 851.0 L1594.1 790.3 L1610.2 752.6 L1626.3 732.9 L1642.5 711.5 L1658.6 693.5 L1674.8 673.8 L1690.9 652.5 L1707.1 637.7 L1723.2 628.1 L1739.3 618.3 L1755.5 612.4 L1771.6 607.8 L1787.8 605.1 L1803.9 603.5 L1820.1 601.9 L1852.4 600.2 L1884.6 603.5 L1916.9 607.8 L1949.2 605.1" stroke="#b01fb0" stroke-width="1.9" fill="none" stroke-linejoin="round"/>
<path d="M1497.2 897.6v5.2M1494.6 897.6h5.2M1494.6 902.8h5.2M1513.3 898.6v5.2M1510.7 898.6h5.2M1510.7 903.8h5.2M1529.5 899.2v5.2M1526.9 899.2h5.2M1526.9 904.4h5.2M1545.6 897.6v5.2M1543.0 897.6h5.2M1543.0 902.8h5.2M1561.8 886.1v5.2M1559.2 886.1h5.2M1559.2 891.3h5.2M1577.9 848.4v5.2M1575.3 848.4h5.2M1575.3 853.6h5.2M1594.1 787.7v5.2M1591.5 787.7h5.2M1591.5 792.9h5.2M1610.2 750.0v5.2M1607.6 750.0h5.2M1607.6 755.2h5.2M1626.3 730.3v5.2M1623.7 730.3h5.2M1623.7 735.5h5.2M1642.5 708.9v5.2M1639.9 708.9h5.2M1639.9 714.1h5.2M1658.6 690.9v5.2M1656.0 690.9h5.2M1656.0 696.1h5.2M1674.8 671.2v5.2M1672.2 671.2h5.2M1672.2 676.4h5.2M1690.9 649.9v5.2M1688.3 649.9h5.2M1688.3 655.1h5.2M1707.1 635.1v5.2M1704.5 635.1h5.2M1704.5 640.3h5.2M1723.2 625.5v5.2M1720.6 625.5h5.2M1720.6 630.7h5.2M1739.3 615.7v5.2M1736.8 615.7h5.2M1736.8 620.9h5.2M1755.5 609.8v5.2M1752.9 609.8h5.2M1752.9 615.0h5.2M1771.6 605.2v5.2M1769.0 605.2h5.2M1769.0 610.4h5.2M1787.8 602.5v5.2M1785.2 602.5h5.2M1785.2 607.7h5.2M1803.9 600.9v5.2M1801.3 600.9h5.2M1801.3 606.1h5.2M1820.1 599.3v5.2M1817.5 599.3h5.2M1817.5 604.5h5.2M1852.4 597.6v5.2M1849.8 597.6h5.2M1849.8 602.8h5.2M1884.6 600.9v5.2M1882.0 600.9h5.2M1882.0 606.1h5.2M1916.9 605.2v5.2M1914.3 605.2h5.2M1914.3 610.4h5.2M1949.2 602.5v5.2M1946.6 602.5h5.2M1946.6 607.7h5.2" stroke="#b01fb0" stroke-width="1.5" fill="none"/>
<path d="M1497.2 890.4 L1513.3 888.7 L1529.5 890.4 L1545.6 889.7 L1561.8 885.4 L1577.9 854.3 L1594.1 801.8 L1610.2 764.0 L1626.3 734.5 L1642.5 713.2 L1658.6 695.1 L1674.8 678.7 L1690.9 660.7 L1707.1 645.9 L1723.2 636.3 L1739.3 624.8 L1755.5 618.3 L1771.6 612.7 L1787.8 608.4 L1803.9 606.8 L1820.1 605.1 L1852.4 604.5 L1884.6 604.5 L1916.9 606.1 L1949.2 606.8" stroke="#d6242a" stroke-width="1.9" fill="none" stroke-linejoin="round"/>
<path d="M1497.2 885.2v10.4M1494.6 885.2h5.2M1494.6 895.6h5.2M1513.3 883.5v10.4M1510.7 883.5h5.2M1510.7 893.9h5.2M1529.5 885.2v10.4M1526.9 885.2h5.2M1526.9 895.6h5.2M1545.6 884.5v10.4M1543.0 884.5h5.2M1543.0 894.9h5.2M1561.8 880.2v10.4M1559.2 880.2h5.2M1559.2 890.6h5.2M1577.9 849.1v10.4M1575.3 849.1h5.2M1575.3 859.5h5.2M1594.1 796.6v10.4M1591.5 796.6h5.2M1591.5 807.0h5.2M1610.2 758.8v10.4M1607.6 758.8h5.2M1607.6 769.2h5.2M1626.3 729.3v10.4M1623.7 729.3h5.2M1623.7 739.7h5.2M1642.5 708.0v10.4M1639.9 708.0h5.2M1639.9 718.4h5.2M1658.6 689.9v10.4M1656.0 689.9h5.2M1656.0 700.3h5.2M1674.8 673.5v10.4M1672.2 673.5h5.2M1672.2 683.9h5.2M1690.9 655.5v10.4M1688.3 655.5h5.2M1688.3 665.9h5.2M1707.1 640.7v10.4M1704.5 640.7h5.2M1704.5 651.1h5.2M1723.2 631.1v10.4M1720.6 631.1h5.2M1720.6 641.5h5.2M1739.3 619.6v10.4M1736.8 619.6h5.2M1736.8 630.0h5.2M1755.5 613.1v10.4M1752.9 613.1h5.2M1752.9 623.5h5.2M1771.6 607.5v10.4M1769.0 607.5h5.2M1769.0 617.9h5.2M1787.8 603.2v10.4M1785.2 603.2h5.2M1785.2 613.6h5.2M1803.9 601.6v10.4M1801.3 601.6h5.2M1801.3 612.0h5.2M1820.1 599.9v10.4M1817.5 599.9h5.2M1817.5 610.3h5.2M1852.4 599.3v10.4M1849.8 599.3h5.2M1849.8 609.7h5.2M1884.6 599.3v10.4M1882.0 599.3h5.2M1882.0 609.7h5.2M1916.9 600.9v10.4M1914.3 600.9h5.2M1914.3 611.3h5.2M1949.2 601.6v10.4M1946.6 601.6h5.2M1946.6 612.0h5.2" stroke="#d6242a" stroke-width="1.5" fill="none"/>
<path d="M1497.2 892.0 L1513.3 894.3 L1529.5 894.3 L1545.6 894.3 L1561.8 894.6 L1577.9 862.5 L1594.1 803.4 L1610.2 760.8 L1626.3 731.2 L1642.5 705.6 L1658.6 688.6 L1674.8 668.2 L1690.9 649.9 L1707.1 634.4 L1723.2 624.8 L1739.3 616.6 L1755.5 611.7 L1771.6 608.4 L1787.8 607.4 L1803.9 606.1 L1820.1 605.1 L1852.4 605.1 L1884.6 606.8 L1916.9 610.1 L1949.2 608.4" stroke="#0a0a0a" stroke-width="1.9" fill="none" stroke-linejoin="round"/>
<path d="M1497.2 890.2v3.6M1494.6 890.2h5.2M1494.6 893.8h5.2M1513.3 892.5v3.6M1510.7 892.5h5.2M1510.7 896.1h5.2M1529.5 892.5v3.6M1526.9 892.5h5.2M1526.9 896.1h5.2M1545.6 892.5v3.6M1543.0 892.5h5.2M1543.0 896.1h5.2M1561.8 892.8v3.6M1559.2 892.8h5.2M1559.2 896.4h5.2M1577.9 860.7v3.6M1575.3 860.7h5.2M1575.3 864.3h5.2M1594.1 801.6v3.6M1591.5 801.6h5.2M1591.5 805.2h5.2M1610.2 759.0v3.6M1607.6 759.0h5.2M1607.6 762.6h5.2M1626.3 729.4v3.6M1623.7 729.4h5.2M1623.7 733.0h5.2M1642.5 703.8v3.6M1639.9 703.8h5.2M1639.9 707.4h5.2M1658.6 686.8v3.6M1656.0 686.8h5.2M1656.0 690.4h5.2M1674.8 666.4v3.6M1672.2 666.4h5.2M1672.2 670.0h5.2M1690.9 648.1v3.6M1688.3 648.1h5.2M1688.3 651.7h5.2M1707.1 632.6v3.6M1704.5 632.6h5.2M1704.5 636.2h5.2M1723.2 623.0v3.6M1720.6 623.0h5.2M1720.6 626.6h5.2M1739.3 614.8v3.6M1736.8 614.8h5.2M1736.8 618.4h5.2M1755.5 609.9v3.6M1752.9 609.9h5.2M1752.9 613.5h5.2M1771.6 606.6v3.6M1769.0 606.6h5.2M1769.0 610.2h5.2M1787.8 605.6v3.6M1785.2 605.6h5.2M1785.2 609.2h5.2M1803.9 604.3v3.6M1801.3 604.3h5.2M1801.3 607.9h5.2M1820.1 603.3v3.6M1817.5 603.3h5.2M1817.5 606.9h5.2M1852.4 603.3v3.6M1849.8 603.3h5.2M1849.8 606.9h5.2M1884.6 605.0v3.6M1882.0 605.0h5.2M1882.0 608.6h5.2M1916.9 608.3v3.6M1914.3 608.3h5.2M1914.3 611.9h5.2M1949.2 606.6v3.6M1946.6 606.6h5.2M1946.6 610.2h5.2" stroke="#0a0a0a" stroke-width="1.5" fill="none"/>
<text x="1489.5" y="930.9" font-size="27" fill="#262626" text-anchor="end">0</text>
<text x="1489.5" y="830.3" font-size="27" fill="#262626" text-anchor="end">0.2</text>
<text x="1489.5" y="731.2" font-size="27" fill="#262626" text-anchor="end">0.4</text>
<text x="1489.5" y="632.1" font-size="27" fill="#262626" text-anchor="end">0.6</text>
<text x="1489.5" y="533.0" font-size="27" fill="#262626" text-anchor="end">0.8</text>
<text x="1497.2" y="953.5" font-size="27" fill="#262626" text-anchor="middle">0</text>
<text x="1658.6" y="953.5" font-size="27" fill="#262626" text-anchor="middle">50</text>
<text x="1820.1" y="953.5" font-size="27" fill="#262626" text-anchor="middle">100</text>
<text x="1981.5" y="953.5" font-size="27" fill="#262626" text-anchor="middle">150</text>
<text x="1632.5" y="992.0" font-size="30.5" fill="#262626" textLength="215.0" lengthAdjust="spacingAndGlyphs">Pressure (mbar)</text>
<text transform="translate(1443.5 811.0) rotate(-90)" font-size="30.5" fill="#262626" textLength="178.5" lengthAdjust="spacingAndGlyphs">H value (a.u.)</text>
<rect x="1848.6" y="722.6" width="122.4" height="184.6" fill="#fff" stroke="#555" stroke-width="1"/>
<path d="M1851.2 740.6H1872.8M1862 732.6v16M1859.8 732.6h4.4M1859.8 748.6h4.4" stroke="#1f77c9" stroke-width="1.6" fill="none"/>
<text x="1874.2" y="749.2" font-size="24.3" fill="#111" textLength="92.5" lengthAdjust="spacingAndGlyphs">sensor 1</text>
<path d="M1851.2 771.2H1872.8M1862 763.2v16M1859.8 763.2h4.4M1859.8 779.2h4.4" stroke="#e0822e" stroke-width="1.6" fill="none"/>
<text x="1874.2" y="779.8" font-size="24.3" fill="#111" textLength="92.5" lengthAdjust="spacingAndGlyphs">sensor 2</text>
<path d="M1851.2 801.8H1872.8M1862 793.8v16M1859.8 793.8h4.4M1859.8 809.8h4.4" stroke="#2eaa2e" stroke-width="1.6" fill="none"/>
<text x="1874.2" y="810.4" font-size="24.3" fill="#111" textLength="92.5" lengthAdjust="spacingAndGlyphs">sensor 3</text>
<path d="M1851.2 832.4H1872.8M1862 824.4v16M1859.8 824.4h4.4M1859.8 840.4h4.4" stroke="#b01fb0" stroke-width="1.6" fill="none"/>
<text x="1874.2" y="841.0" font-size="24.3" fill="#111" textLength="92.5" lengthAdjust="spacingAndGlyphs">sensor 4</text>
<path d="M1851.2 863.0H1872.8M1862 855.0v16M1859.8 855.0h4.4M1859.8 871.0h4.4" stroke="#d6242a" stroke-width="1.6" fill="none"/>
<text x="1874.2" y="871.6" font-size="24.3" fill="#111" textLength="92.5" lengthAdjust="spacingAndGlyphs">sensor 5</text>
<path d="M1851.2 893.6H1872.8M1862 885.6v16M1859.8 885.6h4.4M1859.8 901.6h4.4" stroke="#0a0a0a" stroke-width="1.6" fill="none"/>
<text x="1874.2" y="902.2" font-size="24.3" fill="#111" textLength="92.5" lengthAdjust="spacingAndGlyphs">sensor 6</text>
</svg>
</body></html>
